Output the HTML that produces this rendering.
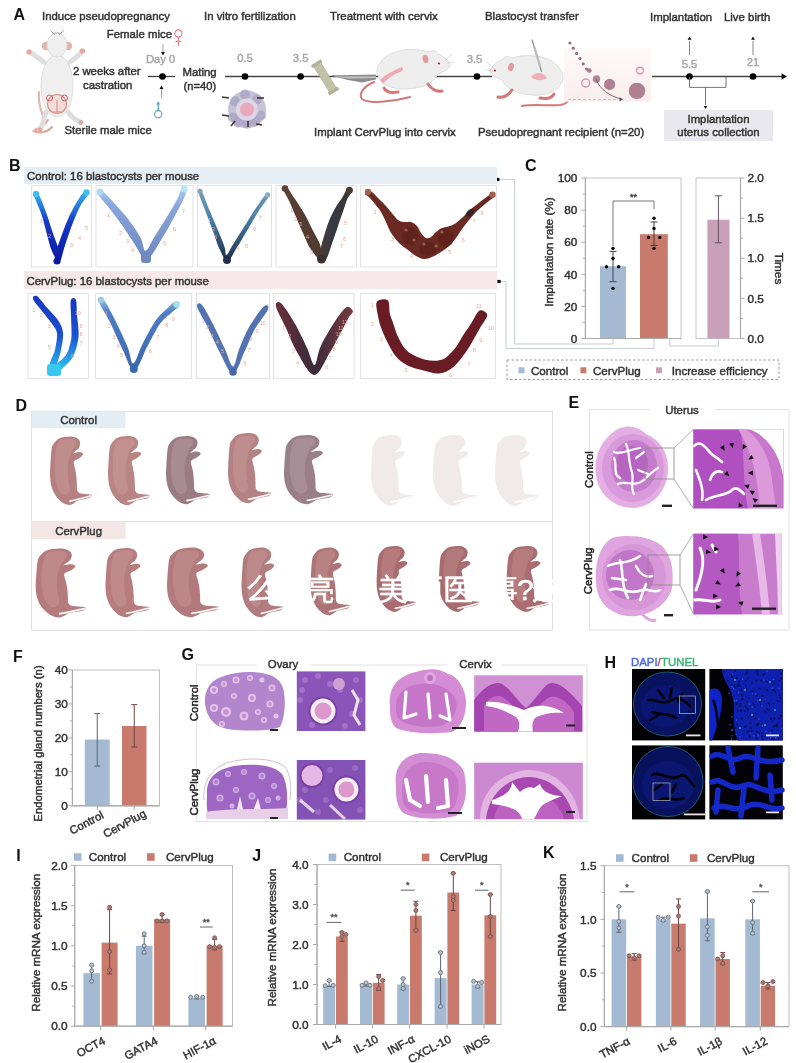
<!DOCTYPE html>
<html><head><meta charset="utf-8"><title>Figure</title>
<style>
html,body{margin:0;padding:0;background:#fff;overflow:hidden;width:796px;height:1063px;}
svg{display:block;}
text{font-family:'Liberation Sans', sans-serif;}
</style></head><body>
<svg width="796" height="1063" viewBox="0 0 796 1063">
<rect x="0" y="0" width="796" height="1063" fill="#fff"/>
<text x="16.3" y="861" font-size="16" text-anchor="start" fill="#111" font-weight="bold">I</text>
<rect x="74.7" y="865.5" width="157.8" height="160.70000000000005" fill="none" stroke="#bdbdbd" stroke-width="1"/>
<rect x="83.4" y="973.169" width="16.6" height="53.03100000000002" fill="#a3bad2" stroke="none" stroke-width="1"/>
<rect x="101.6" y="942.636" width="16.0" height="83.56400000000002" fill="#c87a6c" stroke="none" stroke-width="1"/>
<line x1="91.7" y1="965.134" x2="91.7" y2="981.2040000000001" stroke="#5a6470" stroke-width="1"/>
<line x1="89.2" y1="965.134" x2="94.2" y2="965.134" stroke="#5a6470" stroke-width="1"/>
<line x1="89.2" y1="981.2040000000001" x2="94.2" y2="981.2040000000001" stroke="#5a6470" stroke-width="1"/>
<line x1="109.6" y1="909.6925" x2="109.6" y2="973.9725000000001" stroke="#6a4440" stroke-width="1"/>
<line x1="107.1" y1="909.6925" x2="112.1" y2="909.6925" stroke="#6a4440" stroke-width="1"/>
<line x1="107.1" y1="973.9725000000001" x2="112.1" y2="973.9725000000001" stroke="#6a4440" stroke-width="1"/>
<circle cx="91.7" cy="965.134" r="2.0" fill="#b8c4d0" stroke="#6a7480" stroke-width="0.9"/>
<circle cx="91.7" cy="970.7585" r="2.0" fill="#b8c4d0" stroke="#6a7480" stroke-width="0.9"/>
<circle cx="91.7" cy="981.2040000000001" r="2.0" fill="#b8c4d0" stroke="#6a7480" stroke-width="0.9"/>
<circle cx="109.6" cy="907.282" r="2.0" fill="#b07a74" stroke="#7a5450" stroke-width="0.9"/>
<circle cx="109.6" cy="951.4745" r="2.0" fill="#b07a74" stroke="#7a5450" stroke-width="0.9"/>
<circle cx="109.6" cy="969.955" r="2.0" fill="#b07a74" stroke="#7a5450" stroke-width="0.9"/>
<line x1="100.8" y1="1026.2" x2="100.8" y2="1030.2" stroke="#aaaaaa" stroke-width="1"/>
<rect x="135.9" y="945.85" width="16.6" height="80.35000000000002" fill="#a3bad2" stroke="none" stroke-width="1"/>
<rect x="154.10000000000002" y="919.3345" width="16.0" height="106.86550000000004" fill="#c87a6c" stroke="none" stroke-width="1"/>
<line x1="144.2" y1="936.208" x2="144.2" y2="953.885" stroke="#5a6470" stroke-width="1"/>
<line x1="141.7" y1="936.208" x2="146.7" y2="936.208" stroke="#5a6470" stroke-width="1"/>
<line x1="141.7" y1="953.885" x2="146.7" y2="953.885" stroke="#5a6470" stroke-width="1"/>
<line x1="162.10000000000002" y1="914.5135" x2="162.10000000000002" y2="922.5485" stroke="#6a4440" stroke-width="1"/>
<line x1="159.60000000000002" y1="914.5135" x2="164.60000000000002" y2="914.5135" stroke="#6a4440" stroke-width="1"/>
<line x1="159.60000000000002" y1="922.5485" x2="164.60000000000002" y2="922.5485" stroke="#6a4440" stroke-width="1"/>
<circle cx="144.2" cy="933.7975" r="2.0" fill="#b8c4d0" stroke="#6a7480" stroke-width="0.9"/>
<circle cx="144.2" cy="945.85" r="2.0" fill="#b8c4d0" stroke="#6a7480" stroke-width="0.9"/>
<circle cx="144.2" cy="952.278" r="2.0" fill="#b8c4d0" stroke="#6a7480" stroke-width="0.9"/>
<circle cx="162.10000000000002" cy="914.5135" r="2.0" fill="#b07a74" stroke="#7a5450" stroke-width="0.9"/>
<circle cx="157.10000000000002" cy="920.9415" r="2.0" fill="#b07a74" stroke="#7a5450" stroke-width="0.9"/>
<circle cx="162.10000000000002" cy="920.9415" r="2.0" fill="#b07a74" stroke="#7a5450" stroke-width="0.9"/>
<circle cx="167.10000000000002" cy="920.9415" r="2.0" fill="#b07a74" stroke="#7a5450" stroke-width="0.9"/>
<line x1="153.3" y1="1026.2" x2="153.3" y2="1030.2" stroke="#aaaaaa" stroke-width="1"/>
<rect x="188.4" y="998.0775" width="16.6" height="28.122500000000006" fill="#a3bad2" stroke="none" stroke-width="1"/>
<rect x="206.60000000000002" y="945.85" width="16.0" height="80.35000000000002" fill="#c87a6c" stroke="none" stroke-width="1"/>
<line x1="196.7" y1="996.4705" x2="196.7" y2="998.8810000000001" stroke="#5a6470" stroke-width="1"/>
<line x1="194.2" y1="996.4705" x2="199.2" y2="996.4705" stroke="#5a6470" stroke-width="1"/>
<line x1="194.2" y1="998.8810000000001" x2="199.2" y2="998.8810000000001" stroke="#5a6470" stroke-width="1"/>
<line x1="214.60000000000002" y1="939.422" x2="214.60000000000002" y2="949.8675000000001" stroke="#6a4440" stroke-width="1"/>
<line x1="212.10000000000002" y1="939.422" x2="217.10000000000002" y2="939.422" stroke="#6a4440" stroke-width="1"/>
<line x1="212.10000000000002" y1="949.8675000000001" x2="217.10000000000002" y2="949.8675000000001" stroke="#6a4440" stroke-width="1"/>
<circle cx="190.7" cy="997.274" r="2.0" fill="#b8c4d0" stroke="#6a7480" stroke-width="0.9"/>
<circle cx="196.7" cy="996.4705" r="2.0" fill="#b8c4d0" stroke="#6a7480" stroke-width="0.9"/>
<circle cx="202.7" cy="997.274" r="2.0" fill="#b8c4d0" stroke="#6a7480" stroke-width="0.9"/>
<circle cx="214.60000000000002" cy="937.815" r="2.0" fill="#b07a74" stroke="#7a5450" stroke-width="0.9"/>
<circle cx="209.60000000000002" cy="946.6535" r="2.0" fill="#b07a74" stroke="#7a5450" stroke-width="0.9"/>
<circle cx="214.60000000000002" cy="947.457" r="2.0" fill="#b07a74" stroke="#7a5450" stroke-width="0.9"/>
<circle cx="219.60000000000002" cy="946.6535" r="2.0" fill="#b07a74" stroke="#7a5450" stroke-width="0.9"/>
<line x1="205.8" y1="1026.2" x2="205.8" y2="1030.2" stroke="#aaaaaa" stroke-width="1"/>
<line x1="74.7" y1="865.5" x2="74.7" y2="1026.2" stroke="#aaaaaa" stroke-width="1.2"/>
<line x1="74.7" y1="1026.2" x2="232.5" y2="1026.2" stroke="#aaaaaa" stroke-width="1.2"/>
<line x1="70.7" y1="1026.2" x2="74.7" y2="1026.2" stroke="#aaaaaa" stroke-width="1"/>
<text x="67.7" y="1030.4" font-size="11.8" text-anchor="end" fill="#333" font-weight="normal" stroke="#333" stroke-width="0.45">0.0</text>
<line x1="72.2" y1="1006.1125000000001" x2="74.7" y2="1006.1125000000001" stroke="#aaaaaa" stroke-width="1"/>
<line x1="70.7" y1="986.0250000000001" x2="74.7" y2="986.0250000000001" stroke="#aaaaaa" stroke-width="1"/>
<text x="67.7" y="990.2250000000001" font-size="11.8" text-anchor="end" fill="#333" font-weight="normal" stroke="#333" stroke-width="0.45">0.5</text>
<line x1="72.2" y1="965.9375" x2="74.7" y2="965.9375" stroke="#aaaaaa" stroke-width="1"/>
<line x1="70.7" y1="945.85" x2="74.7" y2="945.85" stroke="#aaaaaa" stroke-width="1"/>
<text x="67.7" y="950.0500000000001" font-size="11.8" text-anchor="end" fill="#333" font-weight="normal" stroke="#333" stroke-width="0.45">1.0</text>
<line x1="72.2" y1="925.7625" x2="74.7" y2="925.7625" stroke="#aaaaaa" stroke-width="1"/>
<line x1="70.7" y1="905.675" x2="74.7" y2="905.675" stroke="#aaaaaa" stroke-width="1"/>
<text x="67.7" y="909.875" font-size="11.8" text-anchor="end" fill="#333" font-weight="normal" stroke="#333" stroke-width="0.45">1.5</text>
<line x1="72.2" y1="885.5875" x2="74.7" y2="885.5875" stroke="#aaaaaa" stroke-width="1"/>
<line x1="70.7" y1="865.5" x2="74.7" y2="865.5" stroke="#aaaaaa" stroke-width="1"/>
<text x="67.7" y="869.7" font-size="11.8" text-anchor="end" fill="#333" font-weight="normal" stroke="#333" stroke-width="0.45">2.0</text>
<text x="106.1" y="1043.2" font-size="11.4" text-anchor="end" fill="#333" font-weight="normal" stroke="#333" stroke-width="0.45" transform="rotate(-28 106.1 1043.2)">OCT4</text>
<text x="158.5" y="1043.2" font-size="11.4" text-anchor="end" fill="#333" font-weight="normal" stroke="#333" stroke-width="0.45" transform="rotate(-28 158.5 1043.2)">GATA4</text>
<text x="216.8" y="1043.2" font-size="11.4" text-anchor="end" fill="#333" font-weight="normal" stroke="#333" stroke-width="0.45" transform="rotate(-28 216.8 1043.2)">HIF-1α</text>
<line x1="200" y1="927" x2="212.7" y2="927" stroke="#666" stroke-width="1"/>
<text x="206.35" y="925" font-size="9" text-anchor="middle" fill="#555" font-weight="normal" stroke="#555" stroke-width="0.45">**</text>
<rect x="73.9" y="853.2" width="7.6" height="7.6" fill="#a3bad2" stroke="none" stroke-width="1"/>
<text x="88.8" y="861" font-size="11.6" text-anchor="start" fill="#333" font-weight="normal" stroke="#333" stroke-width="0.45">Control</text>
<rect x="147" y="853.2" width="7.6" height="7.6" fill="#c87a6c" stroke="none" stroke-width="1"/>
<text x="166" y="861" font-size="11.6" text-anchor="start" fill="#333" font-weight="normal" stroke="#333" stroke-width="0.45">CervPlug</text>
<text x="39.6" y="942.7" font-size="11.6" text-anchor="middle" fill="#333" font-weight="normal" stroke="#333" stroke-width="0.45" transform="rotate(-90 39.6 942.7)">Relative mRNA expression</text>
<text x="252.3" y="861" font-size="16" text-anchor="start" fill="#111" font-weight="bold">J</text>
<rect x="317" y="864.5" width="184" height="160.0" fill="none" stroke="#bdbdbd" stroke-width="1"/>
<rect x="323.20000000000005" y="985.3" width="12.0" height="39.2" fill="#a3bad2" stroke="none" stroke-width="1"/>
<rect x="336.0" y="936.5" width="11.8" height="88.0" fill="#c87a6c" stroke="none" stroke-width="1"/>
<line x1="329.20000000000005" y1="981.3" x2="329.20000000000005" y2="986.5" stroke="#5a6470" stroke-width="1"/>
<line x1="326.70000000000005" y1="981.3" x2="331.70000000000005" y2="981.3" stroke="#5a6470" stroke-width="1"/>
<line x1="326.70000000000005" y1="986.5" x2="331.70000000000005" y2="986.5" stroke="#5a6470" stroke-width="1"/>
<line x1="341.9" y1="931.7" x2="341.9" y2="941.3" stroke="#6a4440" stroke-width="1"/>
<line x1="339.4" y1="931.7" x2="344.4" y2="931.7" stroke="#6a4440" stroke-width="1"/>
<line x1="339.4" y1="941.3" x2="344.4" y2="941.3" stroke="#6a4440" stroke-width="1"/>
<circle cx="329.20000000000005" cy="980.5" r="2.0" fill="#b8c4d0" stroke="#6a7480" stroke-width="0.9"/>
<circle cx="325.20000000000005" cy="985.7" r="2.0" fill="#b8c4d0" stroke="#6a7480" stroke-width="0.9"/>
<circle cx="333.20000000000005" cy="985.3" r="2.0" fill="#b8c4d0" stroke="#6a7480" stroke-width="0.9"/>
<circle cx="341.9" cy="932.5" r="2.0" fill="#b07a74" stroke="#7a5450" stroke-width="0.9"/>
<circle cx="341.9" cy="936.5" r="2.0" fill="#b07a74" stroke="#7a5450" stroke-width="0.9"/>
<circle cx="345.9" cy="934.5" r="2.0" fill="#b07a74" stroke="#7a5450" stroke-width="0.9"/>
<line x1="335.6" y1="1024.5" x2="335.6" y2="1028.5" stroke="#aaaaaa" stroke-width="1"/>
<rect x="360.0" y="984.9" width="12.0" height="39.6" fill="#a3bad2" stroke="none" stroke-width="1"/>
<rect x="372.79999999999995" y="982.9" width="11.8" height="41.6" fill="#c87a6c" stroke="none" stroke-width="1"/>
<line x1="366.0" y1="983.3" x2="366.0" y2="986.1" stroke="#5a6470" stroke-width="1"/>
<line x1="363.5" y1="983.3" x2="368.5" y2="983.3" stroke="#5a6470" stroke-width="1"/>
<line x1="363.5" y1="986.1" x2="368.5" y2="986.1" stroke="#5a6470" stroke-width="1"/>
<line x1="378.69999999999993" y1="974.5" x2="378.69999999999993" y2="990.5" stroke="#6a4440" stroke-width="1"/>
<line x1="376.19999999999993" y1="974.5" x2="381.19999999999993" y2="974.5" stroke="#6a4440" stroke-width="1"/>
<line x1="376.19999999999993" y1="990.5" x2="381.19999999999993" y2="990.5" stroke="#6a4440" stroke-width="1"/>
<circle cx="366.0" cy="982.9" r="2.0" fill="#b8c4d0" stroke="#6a7480" stroke-width="0.9"/>
<circle cx="362.0" cy="985.3" r="2.0" fill="#b8c4d0" stroke="#6a7480" stroke-width="0.9"/>
<circle cx="370.0" cy="985.3" r="2.0" fill="#b8c4d0" stroke="#6a7480" stroke-width="0.9"/>
<circle cx="378.69999999999993" cy="976.5" r="2.0" fill="#b07a74" stroke="#7a5450" stroke-width="0.9"/>
<circle cx="382.69999999999993" cy="980.5" r="2.0" fill="#b07a74" stroke="#7a5450" stroke-width="0.9"/>
<circle cx="378.69999999999993" cy="988.5" r="2.0" fill="#b07a74" stroke="#7a5450" stroke-width="0.9"/>
<line x1="372.4" y1="1024.5" x2="372.4" y2="1028.5" stroke="#aaaaaa" stroke-width="1"/>
<rect x="397.20000000000005" y="984.5" width="12.0" height="40.0" fill="#a3bad2" stroke="none" stroke-width="1"/>
<rect x="410.0" y="915.7" width="11.8" height="108.80000000000001" fill="#c87a6c" stroke="none" stroke-width="1"/>
<line x1="403.20000000000005" y1="978.5" x2="403.20000000000005" y2="989.7" stroke="#5a6470" stroke-width="1"/>
<line x1="400.70000000000005" y1="978.5" x2="405.70000000000005" y2="978.5" stroke="#5a6470" stroke-width="1"/>
<line x1="400.70000000000005" y1="989.7" x2="405.70000000000005" y2="989.7" stroke="#5a6470" stroke-width="1"/>
<line x1="415.9" y1="901.3" x2="415.9" y2="929.3" stroke="#6a4440" stroke-width="1"/>
<line x1="413.4" y1="901.3" x2="418.4" y2="901.3" stroke="#6a4440" stroke-width="1"/>
<line x1="413.4" y1="929.3" x2="418.4" y2="929.3" stroke="#6a4440" stroke-width="1"/>
<circle cx="403.20000000000005" cy="978.5" r="2.0" fill="#b8c4d0" stroke="#6a7480" stroke-width="0.9"/>
<circle cx="403.20000000000005" cy="984.5" r="2.0" fill="#b8c4d0" stroke="#6a7480" stroke-width="0.9"/>
<circle cx="403.20000000000005" cy="988.5" r="2.0" fill="#b8c4d0" stroke="#6a7480" stroke-width="0.9"/>
<circle cx="415.9" cy="904.5" r="2.0" fill="#b07a74" stroke="#7a5450" stroke-width="0.9"/>
<circle cx="415.9" cy="910.5" r="2.0" fill="#b07a74" stroke="#7a5450" stroke-width="0.9"/>
<circle cx="415.9" cy="930.5" r="2.0" fill="#b07a74" stroke="#7a5450" stroke-width="0.9"/>
<line x1="409.6" y1="1024.5" x2="409.6" y2="1028.5" stroke="#aaaaaa" stroke-width="1"/>
<rect x="434.6" y="978.1" width="12.0" height="46.4" fill="#a3bad2" stroke="none" stroke-width="1"/>
<rect x="447.4" y="892.5" width="11.8" height="132.0" fill="#c87a6c" stroke="none" stroke-width="1"/>
<line x1="440.6" y1="951.7" x2="440.6" y2="1006.9" stroke="#5a6470" stroke-width="1"/>
<line x1="438.1" y1="951.7" x2="443.1" y2="951.7" stroke="#5a6470" stroke-width="1"/>
<line x1="438.1" y1="1006.9" x2="443.1" y2="1006.9" stroke="#5a6470" stroke-width="1"/>
<line x1="453.29999999999995" y1="873.3" x2="453.29999999999995" y2="910.5" stroke="#6a4440" stroke-width="1"/>
<line x1="450.79999999999995" y1="873.3" x2="455.79999999999995" y2="873.3" stroke="#6a4440" stroke-width="1"/>
<line x1="450.79999999999995" y1="910.5" x2="455.79999999999995" y2="910.5" stroke="#6a4440" stroke-width="1"/>
<circle cx="440.6" cy="952.5" r="2.0" fill="#b8c4d0" stroke="#6a7480" stroke-width="0.9"/>
<circle cx="440.6" cy="972.5" r="2.0" fill="#b8c4d0" stroke="#6a7480" stroke-width="0.9"/>
<circle cx="440.6" cy="1006.5" r="2.0" fill="#b8c4d0" stroke="#6a7480" stroke-width="0.9"/>
<circle cx="453.29999999999995" cy="873.3" r="2.0" fill="#b07a74" stroke="#7a5450" stroke-width="0.9"/>
<circle cx="453.29999999999995" cy="896.5" r="2.0" fill="#b07a74" stroke="#7a5450" stroke-width="0.9"/>
<circle cx="453.29999999999995" cy="900.5" r="2.0" fill="#b07a74" stroke="#7a5450" stroke-width="0.9"/>
<line x1="447.0" y1="1024.5" x2="447.0" y2="1028.5" stroke="#aaaaaa" stroke-width="1"/>
<rect x="471.6" y="984.5" width="12.0" height="40.0" fill="#a3bad2" stroke="none" stroke-width="1"/>
<rect x="484.4" y="915.3" width="11.8" height="109.2" fill="#c87a6c" stroke="none" stroke-width="1"/>
<line x1="477.6" y1="981.7" x2="477.6" y2="987.7" stroke="#5a6470" stroke-width="1"/>
<line x1="475.1" y1="981.7" x2="480.1" y2="981.7" stroke="#5a6470" stroke-width="1"/>
<line x1="475.1" y1="987.7" x2="480.1" y2="987.7" stroke="#5a6470" stroke-width="1"/>
<line x1="490.29999999999995" y1="894.5" x2="490.29999999999995" y2="935.7" stroke="#6a4440" stroke-width="1"/>
<line x1="487.79999999999995" y1="894.5" x2="492.79999999999995" y2="894.5" stroke="#6a4440" stroke-width="1"/>
<line x1="487.79999999999995" y1="935.7" x2="492.79999999999995" y2="935.7" stroke="#6a4440" stroke-width="1"/>
<circle cx="473.6" cy="981.3" r="2.0" fill="#b8c4d0" stroke="#6a7480" stroke-width="0.9"/>
<circle cx="477.6" cy="986.5" r="2.0" fill="#b8c4d0" stroke="#6a7480" stroke-width="0.9"/>
<circle cx="481.6" cy="982.5" r="2.0" fill="#b8c4d0" stroke="#6a7480" stroke-width="0.9"/>
<circle cx="490.29999999999995" cy="894.5" r="2.0" fill="#b07a74" stroke="#7a5450" stroke-width="0.9"/>
<circle cx="490.29999999999995" cy="916.5" r="2.0" fill="#b07a74" stroke="#7a5450" stroke-width="0.9"/>
<circle cx="490.29999999999995" cy="936.5" r="2.0" fill="#b07a74" stroke="#7a5450" stroke-width="0.9"/>
<line x1="484.0" y1="1024.5" x2="484.0" y2="1028.5" stroke="#aaaaaa" stroke-width="1"/>
<line x1="317" y1="864.5" x2="317" y2="1024.5" stroke="#aaaaaa" stroke-width="1.2"/>
<line x1="317" y1="1024.5" x2="501" y2="1024.5" stroke="#aaaaaa" stroke-width="1.2"/>
<line x1="313" y1="1024.5" x2="317" y2="1024.5" stroke="#aaaaaa" stroke-width="1"/>
<text x="308.7" y="1028.7" font-size="11.8" text-anchor="end" fill="#333" font-weight="normal" stroke="#333" stroke-width="0.45">0.0</text>
<line x1="314.5" y1="1004.5" x2="317" y2="1004.5" stroke="#aaaaaa" stroke-width="1"/>
<line x1="313" y1="984.5" x2="317" y2="984.5" stroke="#aaaaaa" stroke-width="1"/>
<text x="308.7" y="988.7" font-size="11.8" text-anchor="end" fill="#333" font-weight="normal" stroke="#333" stroke-width="0.45">1.0</text>
<line x1="314.5" y1="964.5" x2="317" y2="964.5" stroke="#aaaaaa" stroke-width="1"/>
<line x1="313" y1="944.5" x2="317" y2="944.5" stroke="#aaaaaa" stroke-width="1"/>
<text x="308.7" y="948.7" font-size="11.8" text-anchor="end" fill="#333" font-weight="normal" stroke="#333" stroke-width="0.45">2.0</text>
<line x1="314.5" y1="924.5" x2="317" y2="924.5" stroke="#aaaaaa" stroke-width="1"/>
<line x1="313" y1="904.5" x2="317" y2="904.5" stroke="#aaaaaa" stroke-width="1"/>
<text x="308.7" y="908.7" font-size="11.8" text-anchor="end" fill="#333" font-weight="normal" stroke="#333" stroke-width="0.45">3.0</text>
<line x1="314.5" y1="884.5" x2="317" y2="884.5" stroke="#aaaaaa" stroke-width="1"/>
<line x1="313" y1="864.5" x2="317" y2="864.5" stroke="#aaaaaa" stroke-width="1"/>
<text x="308.7" y="868.7" font-size="11.8" text-anchor="end" fill="#333" font-weight="normal" stroke="#333" stroke-width="0.45">4.0</text>
<text x="342.40000000000003" y="1041.5" font-size="11.4" text-anchor="end" fill="#333" font-weight="normal" stroke="#333" stroke-width="0.45" transform="rotate(-28 342.40000000000003 1041.5)">IL-4</text>
<text x="379.2" y="1041.5" font-size="11.4" text-anchor="end" fill="#333" font-weight="normal" stroke="#333" stroke-width="0.45" transform="rotate(-28 379.2 1041.5)">IL-10</text>
<text x="415.6" y="1041.5" font-size="11.4" text-anchor="end" fill="#333" font-weight="normal" stroke="#333" stroke-width="0.45" transform="rotate(-28 415.6 1041.5)">INF-α</text>
<text x="452.0" y="1041.5" font-size="11.4" text-anchor="end" fill="#333" font-weight="normal" stroke="#333" stroke-width="0.45" transform="rotate(-28 452.0 1041.5)">CXCL-10</text>
<text x="490.7" y="1041.5" font-size="11.4" text-anchor="end" fill="#333" font-weight="normal" stroke="#333" stroke-width="0.45" transform="rotate(-28 490.7 1041.5)">iNOS</text>
<line x1="326.4" y1="922.4" x2="341.5" y2="922.4" stroke="#666" stroke-width="1"/>
<text x="333.95" y="920.4" font-size="9" text-anchor="middle" fill="#555" font-weight="normal" stroke="#555" stroke-width="0.45">**</text>
<line x1="400.7" y1="890.2" x2="414.8" y2="890.2" stroke="#666" stroke-width="1"/>
<text x="407.75" y="888.2" font-size="9" text-anchor="middle" fill="#555" font-weight="normal" stroke="#555" stroke-width="0.45">*</text>
<line x1="475" y1="890.2" x2="488.6" y2="890.2" stroke="#666" stroke-width="1"/>
<text x="481.8" y="888.2" font-size="9" text-anchor="middle" fill="#555" font-weight="normal" stroke="#555" stroke-width="0.45">*</text>
<rect x="328.6" y="853.6" width="7.6" height="7.6" fill="#a3bad2" stroke="none" stroke-width="1"/>
<text x="343.7" y="861.4" font-size="11.6" text-anchor="start" fill="#333" font-weight="normal" stroke="#333" stroke-width="0.45">Control</text>
<rect x="421.8" y="853.6" width="7.6" height="7.6" fill="#c87a6c" stroke="none" stroke-width="1"/>
<text x="440" y="861.4" font-size="11.6" text-anchor="start" fill="#333" font-weight="normal" stroke="#333" stroke-width="0.45">CervPlug</text>
<text x="276" y="937.5" font-size="11.6" text-anchor="middle" fill="#333" font-weight="normal" stroke="#333" stroke-width="0.45" transform="rotate(-90 276 937.5)">Relative mRNA expression</text>
<text x="543" y="858" font-size="16" text-anchor="start" fill="#111" font-weight="bold">K</text>
<rect x="604.4" y="865.7" width="184.60000000000002" height="160.89999999999986" fill="none" stroke="#bdbdbd" stroke-width="1"/>
<rect x="611.6" y="919.3333333333334" width="14.6" height="107.26666666666658" fill="#a3bad2" stroke="none" stroke-width="1"/>
<rect x="627.0" y="956.8766666666667" width="14.4" height="69.72333333333329" fill="#c87a6c" stroke="none" stroke-width="1"/>
<line x1="618.9000000000001" y1="906.4613333333333" x2="618.9000000000001" y2="932.2053333333333" stroke="#5a6470" stroke-width="1"/>
<line x1="616.4000000000001" y1="906.4613333333333" x2="621.4000000000001" y2="906.4613333333333" stroke="#5a6470" stroke-width="1"/>
<line x1="616.4000000000001" y1="932.2053333333333" x2="621.4000000000001" y2="932.2053333333333" stroke="#5a6470" stroke-width="1"/>
<line x1="634.2" y1="953.6586666666666" x2="634.2" y2="960.0946666666666" stroke="#6a4440" stroke-width="1"/>
<line x1="631.7" y1="953.6586666666666" x2="636.7" y2="953.6586666666666" stroke="#6a4440" stroke-width="1"/>
<line x1="631.7" y1="960.0946666666666" x2="636.7" y2="960.0946666666666" stroke="#6a4440" stroke-width="1"/>
<circle cx="618.9000000000001" cy="906.4613333333333" r="2.0" fill="#b8c4d0" stroke="#6a7480" stroke-width="0.9"/>
<circle cx="618.9000000000001" cy="921.4786666666666" r="2.0" fill="#b8c4d0" stroke="#6a7480" stroke-width="0.9"/>
<circle cx="618.9000000000001" cy="927.9146666666667" r="2.0" fill="#b8c4d0" stroke="#6a7480" stroke-width="0.9"/>
<circle cx="629.2" cy="955.804" r="2.0" fill="#b07a74" stroke="#7a5450" stroke-width="0.9"/>
<circle cx="634.2" cy="957.9493333333332" r="2.0" fill="#b07a74" stroke="#7a5450" stroke-width="0.9"/>
<circle cx="639.2" cy="955.804" r="2.0" fill="#b07a74" stroke="#7a5450" stroke-width="0.9"/>
<line x1="626.6" y1="1026.6" x2="626.6" y2="1030.6" stroke="#aaaaaa" stroke-width="1"/>
<rect x="655.9" y="919.3333333333334" width="14.6" height="107.26666666666658" fill="#a3bad2" stroke="none" stroke-width="1"/>
<rect x="671.3" y="923.624" width="14.4" height="102.97599999999991" fill="#c87a6c" stroke="none" stroke-width="1"/>
<line x1="663.2" y1="917.188" x2="663.2" y2="921.4786666666666" stroke="#5a6470" stroke-width="1"/>
<line x1="660.7" y1="917.188" x2="665.7" y2="917.188" stroke="#5a6470" stroke-width="1"/>
<line x1="660.7" y1="921.4786666666666" x2="665.7" y2="921.4786666666666" stroke="#5a6470" stroke-width="1"/>
<line x1="678.5" y1="898.9526666666667" x2="678.5" y2="949.3679999999999" stroke="#6a4440" stroke-width="1"/>
<line x1="676.0" y1="898.9526666666667" x2="681.0" y2="898.9526666666667" stroke="#6a4440" stroke-width="1"/>
<line x1="676.0" y1="949.3679999999999" x2="681.0" y2="949.3679999999999" stroke="#6a4440" stroke-width="1"/>
<circle cx="658.2" cy="917.188" r="2.0" fill="#b8c4d0" stroke="#6a7480" stroke-width="0.9"/>
<circle cx="663.2" cy="920.406" r="2.0" fill="#b8c4d0" stroke="#6a7480" stroke-width="0.9"/>
<circle cx="668.2" cy="917.188" r="2.0" fill="#b8c4d0" stroke="#6a7480" stroke-width="0.9"/>
<circle cx="678.5" cy="906.4613333333333" r="2.0" fill="#b07a74" stroke="#7a5450" stroke-width="0.9"/>
<circle cx="678.5" cy="916.1153333333333" r="2.0" fill="#b07a74" stroke="#7a5450" stroke-width="0.9"/>
<circle cx="678.5" cy="949.3679999999999" r="2.0" fill="#b07a74" stroke="#7a5450" stroke-width="0.9"/>
<line x1="670.9" y1="1026.6" x2="670.9" y2="1030.6" stroke="#aaaaaa" stroke-width="1"/>
<rect x="700.1" y="918.2606666666667" width="14.6" height="108.33933333333324" fill="#a3bad2" stroke="none" stroke-width="1"/>
<rect x="715.5" y="959.0219999999999" width="14.4" height="67.57799999999995" fill="#c87a6c" stroke="none" stroke-width="1"/>
<line x1="707.4000000000001" y1="891.444" x2="707.4000000000001" y2="940.7866666666666" stroke="#5a6470" stroke-width="1"/>
<line x1="704.9000000000001" y1="891.444" x2="709.9000000000001" y2="891.444" stroke="#5a6470" stroke-width="1"/>
<line x1="704.9000000000001" y1="940.7866666666666" x2="709.9000000000001" y2="940.7866666666666" stroke="#5a6470" stroke-width="1"/>
<line x1="722.7" y1="952.586" x2="722.7" y2="964.3853333333333" stroke="#6a4440" stroke-width="1"/>
<line x1="720.2" y1="952.586" x2="725.2" y2="952.586" stroke="#6a4440" stroke-width="1"/>
<line x1="720.2" y1="964.3853333333333" x2="725.2" y2="964.3853333333333" stroke="#6a4440" stroke-width="1"/>
<circle cx="707.4000000000001" cy="891.444" r="2.0" fill="#b8c4d0" stroke="#6a7480" stroke-width="0.9"/>
<circle cx="707.4000000000001" cy="926.842" r="2.0" fill="#b8c4d0" stroke="#6a7480" stroke-width="0.9"/>
<circle cx="707.4000000000001" cy="935.4233333333333" r="2.0" fill="#b8c4d0" stroke="#6a7480" stroke-width="0.9"/>
<circle cx="722.7" cy="955.804" r="2.0" fill="#b07a74" stroke="#7a5450" stroke-width="0.9"/>
<circle cx="717.7" cy="959.0219999999999" r="2.0" fill="#b07a74" stroke="#7a5450" stroke-width="0.9"/>
<circle cx="722.7" cy="963.3126666666666" r="2.0" fill="#b07a74" stroke="#7a5450" stroke-width="0.9"/>
<line x1="715.1" y1="1026.6" x2="715.1" y2="1030.6" stroke="#aaaaaa" stroke-width="1"/>
<rect x="745.3" y="919.3333333333334" width="14.6" height="107.26666666666658" fill="#a3bad2" stroke="none" stroke-width="1"/>
<rect x="760.6999999999999" y="985.8386666666667" width="14.4" height="40.761333333333305" fill="#c87a6c" stroke="none" stroke-width="1"/>
<line x1="752.6" y1="901.098" x2="752.6" y2="934.3506666666667" stroke="#5a6470" stroke-width="1"/>
<line x1="750.1" y1="901.098" x2="755.1" y2="901.098" stroke="#5a6470" stroke-width="1"/>
<line x1="750.1" y1="934.3506666666667" x2="755.1" y2="934.3506666666667" stroke="#5a6470" stroke-width="1"/>
<line x1="767.9" y1="982.6206666666666" x2="767.9" y2="989.0566666666666" stroke="#6a4440" stroke-width="1"/>
<line x1="765.4" y1="982.6206666666666" x2="770.4" y2="982.6206666666666" stroke="#6a4440" stroke-width="1"/>
<line x1="765.4" y1="989.0566666666666" x2="770.4" y2="989.0566666666666" stroke="#6a4440" stroke-width="1"/>
<circle cx="752.6" cy="901.098" r="2.0" fill="#b8c4d0" stroke="#6a7480" stroke-width="0.9"/>
<circle cx="752.6" cy="922.5513333333333" r="2.0" fill="#b8c4d0" stroke="#6a7480" stroke-width="0.9"/>
<circle cx="752.6" cy="933.278" r="2.0" fill="#b8c4d0" stroke="#6a7480" stroke-width="0.9"/>
<circle cx="762.9" cy="982.6206666666666" r="2.0" fill="#b07a74" stroke="#7a5450" stroke-width="0.9"/>
<circle cx="767.9" cy="985.8386666666667" r="2.0" fill="#b07a74" stroke="#7a5450" stroke-width="0.9"/>
<circle cx="772.9" cy="981.548" r="2.0" fill="#b07a74" stroke="#7a5450" stroke-width="0.9"/>
<line x1="760.3" y1="1026.6" x2="760.3" y2="1030.6" stroke="#aaaaaa" stroke-width="1"/>
<line x1="604.4" y1="865.7" x2="604.4" y2="1026.6" stroke="#aaaaaa" stroke-width="1.2"/>
<line x1="604.4" y1="1026.6" x2="789" y2="1026.6" stroke="#aaaaaa" stroke-width="1.2"/>
<line x1="600.4" y1="1026.6" x2="604.4" y2="1026.6" stroke="#aaaaaa" stroke-width="1"/>
<text x="596.5" y="1030.8" font-size="11.8" text-anchor="end" fill="#333" font-weight="normal" stroke="#333" stroke-width="0.45">0.0</text>
<line x1="601.9" y1="999.7833333333333" x2="604.4" y2="999.7833333333333" stroke="#aaaaaa" stroke-width="1"/>
<line x1="600.4" y1="972.9666666666666" x2="604.4" y2="972.9666666666666" stroke="#aaaaaa" stroke-width="1"/>
<text x="596.5" y="977.1666666666666" font-size="11.8" text-anchor="end" fill="#333" font-weight="normal" stroke="#333" stroke-width="0.45">0.5</text>
<line x1="601.9" y1="946.15" x2="604.4" y2="946.15" stroke="#aaaaaa" stroke-width="1"/>
<line x1="600.4" y1="919.3333333333334" x2="604.4" y2="919.3333333333334" stroke="#aaaaaa" stroke-width="1"/>
<text x="596.5" y="923.5333333333334" font-size="11.8" text-anchor="end" fill="#333" font-weight="normal" stroke="#333" stroke-width="0.45">1.0</text>
<line x1="601.9" y1="892.5166666666667" x2="604.4" y2="892.5166666666667" stroke="#aaaaaa" stroke-width="1"/>
<line x1="600.4" y1="865.7" x2="604.4" y2="865.7" stroke="#aaaaaa" stroke-width="1"/>
<text x="596.5" y="869.9000000000001" font-size="11.8" text-anchor="end" fill="#333" font-weight="normal" stroke="#333" stroke-width="0.45">1.5</text>
<text x="630.9" y="1043.6" font-size="11.4" text-anchor="end" fill="#333" font-weight="normal" stroke="#333" stroke-width="0.45" transform="rotate(-28 630.9 1043.6)">TNF-α</text>
<text x="677.6999999999999" y="1043.6" font-size="11.4" text-anchor="end" fill="#333" font-weight="normal" stroke="#333" stroke-width="0.45" transform="rotate(-28 677.6999999999999 1043.6)">IL-6</text>
<text x="723.1" y="1043.6" font-size="11.4" text-anchor="end" fill="#333" font-weight="normal" stroke="#333" stroke-width="0.45" transform="rotate(-28 723.1 1043.6)">IL-1β</text>
<text x="768.3" y="1043.6" font-size="11.4" text-anchor="end" fill="#333" font-weight="normal" stroke="#333" stroke-width="0.45" transform="rotate(-28 768.3 1043.6)">IL-12</text>
<line x1="619.6" y1="891.8" x2="634.3" y2="891.8" stroke="#666" stroke-width="1"/>
<text x="626.95" y="889.8" font-size="9" text-anchor="middle" fill="#555" font-weight="normal" stroke="#555" stroke-width="0.45">*</text>
<line x1="752.3" y1="891.8" x2="769" y2="891.8" stroke="#666" stroke-width="1"/>
<text x="760.65" y="889.8" font-size="9" text-anchor="middle" fill="#555" font-weight="normal" stroke="#555" stroke-width="0.45">*</text>
<rect x="616" y="854.2" width="7.6" height="7.6" fill="#a3bad2" stroke="none" stroke-width="1"/>
<text x="631.6" y="862" font-size="11.6" text-anchor="start" fill="#333" font-weight="normal" stroke="#333" stroke-width="0.45">Control</text>
<rect x="689.8" y="854.2" width="7.6" height="7.6" fill="#c87a6c" stroke="none" stroke-width="1"/>
<text x="707" y="862" font-size="11.6" text-anchor="start" fill="#333" font-weight="normal" stroke="#333" stroke-width="0.45">CervPlug</text>
<text x="565.5" y="942.5" font-size="11.6" text-anchor="middle" fill="#333" font-weight="normal" stroke="#333" stroke-width="0.45" transform="rotate(-90 565.5 942.5)">Relative mRNA expression</text>
<text x="13" y="661.5" font-size="16" text-anchor="start" fill="#111" font-weight="bold">F</text>
<rect x="72.4" y="670" width="87.0" height="135.79999999999995" fill="none" stroke="#bdbdbd" stroke-width="1"/>
<rect x="84.8" y="739.5975" width="24.9" height="66.20249999999997" fill="#a3bad2" stroke="none" stroke-width="1"/>
<rect x="122" y="726.0174999999999" width="24.5" height="79.78249999999997" fill="#c87a6c" stroke="none" stroke-width="1"/>
<line x1="97.25" y1="713.456" x2="97.25" y2="766.0785" stroke="#5a6470" stroke-width="1"/>
<line x1="94.25" y1="713.456" x2="100.25" y2="713.456" stroke="#5a6470" stroke-width="1"/>
<line x1="94.25" y1="766.0785" x2="100.25" y2="766.0785" stroke="#5a6470" stroke-width="1"/>
<line x1="134.25" y1="704.629" x2="134.25" y2="747.0665" stroke="#6a4440" stroke-width="1"/>
<line x1="131.25" y1="704.629" x2="137.25" y2="704.629" stroke="#6a4440" stroke-width="1"/>
<line x1="131.25" y1="747.0665" x2="137.25" y2="747.0665" stroke="#6a4440" stroke-width="1"/>
<line x1="72.4" y1="670" x2="72.4" y2="805.8" stroke="#aaaaaa" stroke-width="1.2"/>
<line x1="72.4" y1="805.8" x2="159.4" y2="805.8" stroke="#aaaaaa" stroke-width="1.2"/>
<line x1="68.4" y1="805.8" x2="72.4" y2="805.8" stroke="#aaaaaa" stroke-width="1"/>
<text x="67.8" y="810.0" font-size="11.8" text-anchor="end" fill="#333" font-weight="normal" stroke="#333" stroke-width="0.45">0</text>
<line x1="69.9" y1="788.8249999999999" x2="72.4" y2="788.8249999999999" stroke="#aaaaaa" stroke-width="1"/>
<line x1="68.4" y1="771.8499999999999" x2="72.4" y2="771.8499999999999" stroke="#aaaaaa" stroke-width="1"/>
<text x="67.8" y="776.05" font-size="11.8" text-anchor="end" fill="#333" font-weight="normal" stroke="#333" stroke-width="0.45">10</text>
<line x1="69.9" y1="754.875" x2="72.4" y2="754.875" stroke="#aaaaaa" stroke-width="1"/>
<line x1="68.4" y1="737.9" x2="72.4" y2="737.9" stroke="#aaaaaa" stroke-width="1"/>
<text x="67.8" y="742.1" font-size="11.8" text-anchor="end" fill="#333" font-weight="normal" stroke="#333" stroke-width="0.45">20</text>
<line x1="69.9" y1="720.925" x2="72.4" y2="720.925" stroke="#aaaaaa" stroke-width="1"/>
<line x1="68.4" y1="703.95" x2="72.4" y2="703.95" stroke="#aaaaaa" stroke-width="1"/>
<text x="67.8" y="708.1500000000001" font-size="11.8" text-anchor="end" fill="#333" font-weight="normal" stroke="#333" stroke-width="0.45">30</text>
<line x1="69.9" y1="686.975" x2="72.4" y2="686.975" stroke="#aaaaaa" stroke-width="1"/>
<line x1="68.4" y1="670.0" x2="72.4" y2="670.0" stroke="#aaaaaa" stroke-width="1"/>
<text x="67.8" y="674.2" font-size="11.8" text-anchor="end" fill="#333" font-weight="normal" stroke="#333" stroke-width="0.45">40</text>
<line x1="97.25" y1="805.8" x2="97.25" y2="809.8" stroke="#aaaaaa" stroke-width="1"/>
<line x1="134.25" y1="805.8" x2="134.25" y2="809.8" stroke="#aaaaaa" stroke-width="1"/>
<text x="104.5" y="817.5" font-size="11.4" text-anchor="end" fill="#333" font-weight="normal" stroke="#333" stroke-width="0.45" transform="rotate(-28 104.5 817.5)">Control</text>
<text x="147" y="816" font-size="11.4" text-anchor="end" fill="#333" font-weight="normal" stroke="#333" stroke-width="0.45" transform="rotate(-28 147 816)">CervPlug</text>
<text x="41.5" y="743.5" font-size="11.4" text-anchor="middle" fill="#333" font-weight="normal" stroke="#333" stroke-width="0.45" transform="rotate(-90 41.5 743.5)">Endometrial gland numbers (n)</text>
<text x="525" y="170.5" font-size="16" text-anchor="start" fill="#111" font-weight="bold">C</text>
<rect x="585.4" y="178" width="95.60000000000002" height="160.5" fill="none" stroke="#c4c4c4" stroke-width="1"/>
<path d="M499,179.4 H514.6 V344 H613 V338.5" fill="none" stroke="#c6ccd2" stroke-width="1"/>
<path d="M500,281.4 H506 V348.4 H654 V338.5" fill="none" stroke="#c6ccd2" stroke-width="1"/>
<path d="M669.8,338.8 V346 H718.4 V338.8" fill="none" stroke="#c6ccd2" stroke-width="1"/>
<rect x="496.2" y="177.9" width="3.2" height="3.2" fill="#000" stroke="none" stroke-width="1"/>
<rect x="497.4" y="279.9" width="3.2" height="3.2" fill="#000" stroke="none" stroke-width="1"/>
<rect x="600" y="266.275" width="26" height="72.225" fill="#a3bad2" stroke="none" stroke-width="1"/>
<rect x="640" y="234.175" width="27.8" height="104.325" fill="#c87a6c" stroke="none" stroke-width="1"/>
<line x1="613" y1="251.3485" x2="613" y2="281.683" stroke="#3a4450" stroke-width="1"/>
<line x1="609.5" y1="251.3485" x2="616.5" y2="251.3485" stroke="#3a4450" stroke-width="1"/>
<line x1="609.5" y1="281.683" x2="616.5" y2="281.683" stroke="#3a4450" stroke-width="1"/>
<line x1="654" y1="221.977" x2="654" y2="245.41" stroke="#4a3430" stroke-width="1"/>
<line x1="650.5" y1="221.977" x2="657.5" y2="221.977" stroke="#4a3430" stroke-width="1"/>
<line x1="650.5" y1="245.41" x2="657.5" y2="245.41" stroke="#4a3430" stroke-width="1"/>
<circle cx="613" cy="248.4" r="1.7" fill="#000" stroke="none" stroke-width="1"/>
<circle cx="613" cy="258.5" r="1.7" fill="#000" stroke="none" stroke-width="1"/>
<circle cx="606.5" cy="266.7" r="1.7" fill="#000" stroke="none" stroke-width="1"/>
<circle cx="618.6" cy="266.7" r="1.7" fill="#000" stroke="none" stroke-width="1"/>
<circle cx="613" cy="288.4" r="1.7" fill="#000" stroke="none" stroke-width="1"/>
<circle cx="654" cy="218.3" r="1.7" fill="#000" stroke="none" stroke-width="1"/>
<circle cx="654" cy="228.4" r="1.7" fill="#000" stroke="none" stroke-width="1"/>
<circle cx="648.5" cy="237.4" r="1.7" fill="#000" stroke="none" stroke-width="1"/>
<circle cx="659.7" cy="237.4" r="1.7" fill="#000" stroke="none" stroke-width="1"/>
<circle cx="654" cy="248.4" r="1.7" fill="#000" stroke="none" stroke-width="1"/>
<path d="M613,246 V201 H654 V209" fill="none" stroke="#777" stroke-width="1"/>
<text x="633.5" y="200" font-size="9" text-anchor="middle" fill="#444" font-weight="normal" stroke="#444" stroke-width="0.45">**</text>
<line x1="585.4" y1="178" x2="585.4" y2="338.5" stroke="#aaaaaa" stroke-width="1.2"/>
<line x1="585.4" y1="338.5" x2="681" y2="338.5" stroke="#aaaaaa" stroke-width="1.2"/>
<line x1="581.4" y1="338.5" x2="585.4" y2="338.5" stroke="#aaaaaa" stroke-width="1"/>
<text x="577.4" y="342.7" font-size="11.8" text-anchor="end" fill="#333" font-weight="normal" stroke="#333" stroke-width="0.45">0</text>
<line x1="582.9" y1="322.45" x2="585.4" y2="322.45" stroke="#aaaaaa" stroke-width="1"/>
<line x1="581.4" y1="306.4" x2="585.4" y2="306.4" stroke="#aaaaaa" stroke-width="1"/>
<text x="577.4" y="310.59999999999997" font-size="11.8" text-anchor="end" fill="#333" font-weight="normal" stroke="#333" stroke-width="0.45">20</text>
<line x1="582.9" y1="290.35" x2="585.4" y2="290.35" stroke="#aaaaaa" stroke-width="1"/>
<line x1="581.4" y1="274.3" x2="585.4" y2="274.3" stroke="#aaaaaa" stroke-width="1"/>
<text x="577.4" y="278.5" font-size="11.8" text-anchor="end" fill="#333" font-weight="normal" stroke="#333" stroke-width="0.45">40</text>
<line x1="582.9" y1="258.25" x2="585.4" y2="258.25" stroke="#aaaaaa" stroke-width="1"/>
<line x1="581.4" y1="242.2" x2="585.4" y2="242.2" stroke="#aaaaaa" stroke-width="1"/>
<text x="577.4" y="246.39999999999998" font-size="11.8" text-anchor="end" fill="#333" font-weight="normal" stroke="#333" stroke-width="0.45">60</text>
<line x1="582.9" y1="226.15" x2="585.4" y2="226.15" stroke="#aaaaaa" stroke-width="1"/>
<line x1="581.4" y1="210.1" x2="585.4" y2="210.1" stroke="#aaaaaa" stroke-width="1"/>
<text x="577.4" y="214.29999999999998" font-size="11.8" text-anchor="end" fill="#333" font-weight="normal" stroke="#333" stroke-width="0.45">80</text>
<line x1="582.9" y1="194.05" x2="585.4" y2="194.05" stroke="#aaaaaa" stroke-width="1"/>
<line x1="581.4" y1="178.0" x2="585.4" y2="178.0" stroke="#aaaaaa" stroke-width="1"/>
<text x="577.4" y="182.2" font-size="11.8" text-anchor="end" fill="#333" font-weight="normal" stroke="#333" stroke-width="0.45">100</text>
<text x="552.8" y="252" font-size="11.8" text-anchor="middle" fill="#333" font-weight="normal" stroke="#333" stroke-width="0.45" transform="rotate(-90 552.8 252)">Implantation rate (%)</text>
<rect x="696" y="178" width="44.5" height="160.5" fill="none" stroke="#c4c4c4" stroke-width="1"/>
<rect x="707.4" y="219.73000000000002" width="22.1" height="118.77" fill="#c9a0ba" stroke="none" stroke-width="1"/>
<line x1="718.4" y1="195.8" x2="718.4" y2="242.8" stroke="#6a5560" stroke-width="1"/>
<line x1="714.9" y1="195.8" x2="721.9" y2="195.8" stroke="#6a5560" stroke-width="1"/>
<line x1="714.9" y1="242.8" x2="721.9" y2="242.8" stroke="#6a5560" stroke-width="1"/>
<line x1="740.5" y1="178" x2="740.5" y2="338.5" stroke="#aaaaaa" stroke-width="1.2"/>
<line x1="740.5" y1="338.5" x2="744.5" y2="338.5" stroke="#aaaaaa" stroke-width="1"/>
<text x="747.5" y="342.7" font-size="11.8" text-anchor="start" fill="#333" font-weight="normal" stroke="#333" stroke-width="0.45">0.0</text>
<line x1="740.5" y1="318.4375" x2="743.0" y2="318.4375" stroke="#aaaaaa" stroke-width="1"/>
<line x1="740.5" y1="298.375" x2="744.5" y2="298.375" stroke="#aaaaaa" stroke-width="1"/>
<text x="747.5" y="302.575" font-size="11.8" text-anchor="start" fill="#333" font-weight="normal" stroke="#333" stroke-width="0.45">0.5</text>
<line x1="740.5" y1="278.3125" x2="743.0" y2="278.3125" stroke="#aaaaaa" stroke-width="1"/>
<line x1="740.5" y1="258.25" x2="744.5" y2="258.25" stroke="#aaaaaa" stroke-width="1"/>
<text x="747.5" y="262.45" font-size="11.8" text-anchor="start" fill="#333" font-weight="normal" stroke="#333" stroke-width="0.45">1.0</text>
<line x1="740.5" y1="238.1875" x2="743.0" y2="238.1875" stroke="#aaaaaa" stroke-width="1"/>
<line x1="740.5" y1="218.125" x2="744.5" y2="218.125" stroke="#aaaaaa" stroke-width="1"/>
<text x="747.5" y="222.325" font-size="11.8" text-anchor="start" fill="#333" font-weight="normal" stroke="#333" stroke-width="0.45">1.5</text>
<line x1="740.5" y1="198.0625" x2="743.0" y2="198.0625" stroke="#aaaaaa" stroke-width="1"/>
<line x1="740.5" y1="178.0" x2="744.5" y2="178.0" stroke="#aaaaaa" stroke-width="1"/>
<text x="747.5" y="182.2" font-size="11.8" text-anchor="start" fill="#333" font-weight="normal" stroke="#333" stroke-width="0.45">2.0</text>
<text x="774.5" y="268.5" font-size="11.8" text-anchor="middle" fill="#333" font-weight="normal" stroke="#333" stroke-width="0.45" transform="rotate(90 774.5 268.5)">Times</text>
<rect x="507" y="360" width="272" height="19.5" fill="none" stroke="#9a9a9a" stroke-width="1" stroke-dasharray="2.5,2"/>
<rect x="518.5" y="367.3" width="6" height="6" fill="#a3bad2" stroke="none" stroke-width="1"/>
<text x="531" y="374.5" font-size="11.6" text-anchor="start" fill="#333" font-weight="normal" stroke="#333" stroke-width="0.45">Control</text>
<rect x="580.4" y="367.3" width="6" height="6" fill="#c87a6c" stroke="none" stroke-width="1"/>
<text x="593" y="374.5" font-size="11.6" text-anchor="start" fill="#333" font-weight="normal" stroke="#333" stroke-width="0.45">CervPlug</text>
<rect x="656" y="367.3" width="6" height="6" fill="#c9a0ba" stroke="none" stroke-width="1"/>
<text x="671.8" y="374.5" font-size="11.6" text-anchor="start" fill="#333" font-weight="normal" stroke="#333" stroke-width="0.45">Increase efficiency</text>
<text x="9" y="170.5" font-size="16" text-anchor="start" fill="#111" font-weight="bold">B</text>
<rect x="24" y="167" width="473" height="17" fill="#e5eef4" stroke="none" stroke-width="1"/>
<text x="27" y="179.5" font-size="11.4" text-anchor="start" fill="#333" font-weight="normal" stroke="#333" stroke-width="0.45">Control: 16 blastocysts per mouse</text>
<rect x="24" y="271" width="473" height="18" fill="#f6e8e8" stroke="none" stroke-width="1"/>
<text x="26.5" y="284.5" font-size="11.4" text-anchor="start" fill="#333" font-weight="normal" stroke="#333" stroke-width="0.45">CervPlug: 16 blastocysts per mouse</text>
<rect x="31.5" y="185.5" width="60" height="81.5" fill="#fff" stroke="#e2e2e2" stroke-width="1"/>
<rect x="96.0" y="185.5" width="97.0" height="81.5" fill="#fff" stroke="#e2e2e2" stroke-width="1"/>
<rect x="197.5" y="185.5" width="74" height="81.5" fill="#fff" stroke="#e2e2e2" stroke-width="1"/>
<rect x="276.0" y="185.5" width="80.5" height="81.5" fill="#fff" stroke="#e2e2e2" stroke-width="1"/>
<rect x="360.5" y="185.5" width="136" height="81.5" fill="#fff" stroke="#e2e2e2" stroke-width="1"/>
<rect x="28.1" y="293.5" width="60.4" height="85" fill="#fff" stroke="#e2e2e2" stroke-width="1"/>
<rect x="95.5" y="293.5" width="96" height="85" fill="#fff" stroke="#e2e2e2" stroke-width="1"/>
<rect x="196.5" y="293.5" width="73" height="85" fill="#fff" stroke="#e2e2e2" stroke-width="1"/>
<rect x="273.5" y="293.5" width="80.60000000000002" height="85" fill="#fff" stroke="#e2e2e2" stroke-width="1"/>
<rect x="360.5" y="293.5" width="135" height="85" fill="#fff" stroke="#e2e2e2" stroke-width="1"/>
<defs><linearGradient id="gb1" x1="0" y1="0" x2="0" y2="1"><stop offset="0" stop-color="#38b8f0"/><stop offset="0.45" stop-color="#1838c8"/><stop offset="1" stop-color="#0a1aa0"/></linearGradient><linearGradient id="gb2" x1="0" y1="0" x2="0" y2="1"><stop offset="0" stop-color="#a8d0f0"/><stop offset="0.25" stop-color="#8aa4dc"/><stop offset="1" stop-color="#6e88c0"/></linearGradient><linearGradient id="gb3" x1="0" y1="0" x2="0" y2="1"><stop offset="0" stop-color="#7aa0b8"/><stop offset="0.4" stop-color="#4a80a8"/><stop offset="1" stop-color="#1e2e4c"/></linearGradient><linearGradient id="gc1" x1="0" y1="0" x2="0" y2="1"><stop offset="0" stop-color="#1838c0"/><stop offset="0.5" stop-color="#1a50d0"/><stop offset="1" stop-color="#30c8f0"/></linearGradient><linearGradient id="gc2" x1="0" y1="0" x2="0" y2="1"><stop offset="0" stop-color="#90c8e8"/><stop offset="0.2" stop-color="#4f7ec4"/><stop offset="1" stop-color="#3a68b0"/></linearGradient><linearGradient id="gb4" x1="0" y1="0" x2="1" y2="0"><stop offset="0" stop-color="#5a4030"/><stop offset="0.55" stop-color="#4e3a30"/><stop offset="0.7" stop-color="#363a44"/><stop offset="1" stop-color="#3a3430"/></linearGradient><linearGradient id="gc4" x1="0" y1="0" x2="1" y2="0"><stop offset="0" stop-color="#6a3038"/><stop offset="0.5" stop-color="#3a2a3a"/><stop offset="1" stop-color="#7a3a40"/></linearGradient></defs>
<path d="M33.9,194.8 C34.5,198.4 39.4,208.2 41.6,214.8 C43.8,221.5 45.4,228.9 47.1,234.9 C48.8,240.9 49.8,246.4 51.9,250.9 C53.9,255.4 57.2,262.8 59.4,261.8 C61.6,260.9 62.8,251.5 65.1,245.1 C67.3,238.6 70.3,229.6 72.8,223.1 C75.3,216.7 77.6,211.1 80.2,206.2 C82.8,201.3 87.6,196.3 88.4,193.8 C89.1,191.3 86.7,189.6 84.6,191.2 C82.5,192.9 78.7,198.8 75.8,203.8 C72.9,208.7 70.0,214.3 67.2,220.9 C64.4,227.4 61.0,237.0 58.9,242.9 C56.8,248.8 54.7,255.1 54.6,256.2 C54.4,257.2 58.4,253.0 58.1,249.1 C57.8,245.3 54.8,239.1 52.9,233.1 C50.9,227.1 48.8,219.8 46.4,213.2 C43.9,206.5 40.2,196.2 38.1,193.2 C36.0,190.1 33.3,191.2 33.9,194.8 Z" fill="url(#gb1)" stroke="none" stroke-width="1"/>
<circle cx="57" cy="261" r="3.6" fill="#0a18a0" stroke="none" stroke-width="1"/>
<circle cx="36" cy="194" r="3.2" fill="#40c0f0" stroke="none" stroke-width="1"/>
<circle cx="86.5" cy="192.5" r="3.2" fill="#40c0f0" stroke="none" stroke-width="1"/>
<path d="M97.8,193.7 C99.1,196.6 105.4,203.1 109.3,208.3 C113.3,213.4 117.6,218.8 121.6,224.5 C125.6,230.2 129.3,236.5 133.4,242.3 C137.6,248.1 141.8,259.6 146.4,259.2 C151.0,258.9 156.7,246.6 161.1,240.0 C165.5,233.4 169.3,226.1 172.8,219.6 C176.4,213.2 180.1,206.2 182.5,201.2 C184.8,196.3 186.8,192.1 186.7,189.9 C186.7,187.7 183.6,186.6 182.1,188.1 C180.5,189.5 180.0,194.1 177.5,198.8 C175.1,203.5 171.0,210.2 167.2,216.4 C163.4,222.6 158.5,230.2 154.9,236.0 C151.3,241.7 148.0,250.5 145.6,250.8 C143.2,251.1 143.4,242.9 140.6,237.7 C137.7,232.5 132.7,225.1 128.4,219.5 C124.1,213.8 119.1,208.6 114.7,203.7 C110.2,198.9 104.4,192.0 101.6,190.3 C98.8,188.7 96.5,190.7 97.8,193.7 Z" fill="url(#gb2)" stroke="none" stroke-width="1"/>
<rect x="141" y="252" width="10" height="11" fill="#6e88c0" stroke="none" stroke-width="1" rx="3"/>
<circle cx="100" cy="192" r="3.4" fill="#b0d8f0" stroke="none" stroke-width="1"/>
<circle cx="184.4" cy="189" r="3.4" fill="#b8e4f4" stroke="none" stroke-width="1"/>
<path d="M198.4,191.9 C199.1,195.6 203.6,205.9 206.1,212.7 C208.7,219.6 211.4,226.8 213.7,232.9 C215.9,239.0 217.2,244.4 219.5,249.1 C221.8,253.7 224.5,261.3 227.5,261.0 C230.4,260.7 233.7,252.6 237.1,247.3 C240.5,242.0 244.3,235.2 247.9,229.2 C251.5,223.1 255.2,216.6 258.7,211.1 C262.2,205.5 267.8,198.8 269.0,195.9 C270.3,193.0 268.5,191.7 266.2,193.9 C263.9,196.1 259.0,203.4 255.3,208.9 C251.6,214.4 247.8,220.9 244.1,226.8 C240.3,232.8 235.8,240.0 232.9,244.7 C230.0,249.4 227.9,254.7 226.5,255.0 C225.2,255.4 225.9,250.9 224.5,246.9 C223.2,242.9 220.8,237.0 218.3,231.1 C215.9,225.2 212.6,218.0 209.9,211.3 C207.1,204.5 203.5,193.9 201.6,190.7 C199.7,187.4 197.6,188.3 198.4,191.9 Z" fill="url(#gb3)" stroke="none" stroke-width="1"/>
<circle cx="227" cy="260" r="4" fill="#1e2e4c" stroke="none" stroke-width="1"/>
<circle cx="200" cy="191.3" r="2.6" fill="#8aa0b0" stroke="none" stroke-width="1"/>
<circle cx="267.6" cy="194.9" r="2.6" fill="#8ab0c0" stroke="none" stroke-width="1"/>
<path d="M283.3,189.2 C283.7,191.6 287.3,196.8 289.4,201.5 C291.5,206.1 293.6,211.6 296.0,217.0 C298.3,222.5 300.9,228.6 303.5,234.2 C306.1,239.7 308.1,245.7 311.6,250.3 C315.0,254.9 320.5,263.2 324.0,261.7 C327.5,260.3 330.3,248.0 332.7,241.6 C335.2,235.3 336.9,229.1 338.7,223.8 C340.5,218.4 342.2,213.8 343.6,209.7 C345.1,205.6 345.9,202.2 347.2,199.2 C348.5,196.2 351.6,193.2 351.6,191.5 C351.6,189.9 348.7,188.2 347.2,189.1 C345.8,189.9 344.6,193.9 342.8,196.8 C341.0,199.7 338.6,202.4 336.4,206.3 C334.1,210.2 331.5,214.9 329.3,220.2 C327.1,225.6 325.0,232.7 323.3,238.4 C321.6,244.0 319.5,253.0 319.0,254.3 C318.5,255.5 321.5,249.8 320.4,245.7 C319.4,241.6 315.2,235.3 312.5,229.8 C309.8,224.4 307.0,218.2 304.0,213.0 C301.0,207.8 297.5,202.8 294.6,198.5 C291.7,194.2 288.6,188.7 286.7,187.2 C284.8,185.6 282.8,186.8 283.3,189.2 Z" fill="url(#gb4)" stroke="none" stroke-width="1"/>
<circle cx="321.5" cy="259" r="4.5" fill="#3a3030" stroke="none" stroke-width="1"/>
<circle cx="285" cy="188.5" r="3.3" fill="#5a4234" stroke="none" stroke-width="1"/>
<circle cx="349.4" cy="190.3" r="3.5" fill="#4a3a32" stroke="none" stroke-width="1"/>
<path d="M367.0,190.0 C368.2,189.7 370.2,190.7 372.0,192.0 C373.8,193.3 376.0,196.0 378.0,198.0 C380.0,200.0 381.8,201.7 384.0,204.0 C386.2,206.3 388.7,209.3 391.0,212.0 C393.3,214.7 395.8,218.3 398.0,220.0 C400.2,221.7 401.8,221.7 404.0,222.0 C406.2,222.3 408.8,221.3 411.0,222.0 C413.2,222.7 415.3,224.2 417.0,226.0 C418.7,227.8 419.5,231.0 421.0,233.0 C422.5,235.0 424.3,237.3 426.0,238.0 C427.7,238.7 429.3,238.0 431.0,237.0 C432.7,236.0 434.2,233.5 436.0,232.0 C437.8,230.5 439.7,229.0 442.0,228.0 C444.3,227.0 447.7,226.8 450.0,226.0 C452.3,225.2 453.8,224.5 456.0,223.0 C458.2,221.5 460.5,219.3 463.0,217.0 C465.5,214.7 468.2,211.5 471.0,209.0 C473.8,206.5 477.2,204.2 480.0,202.0 C482.8,199.8 485.8,197.5 488.0,196.0 C490.2,194.5 491.8,193.0 493.0,193.0 C494.2,193.0 495.5,194.8 495.0,196.0 C494.5,197.2 491.8,198.5 490.0,200.0 C488.2,201.5 486.3,203.0 484.0,205.0 C481.7,207.0 478.5,209.5 476.0,212.0 C473.5,214.5 471.3,217.2 469.0,220.0 C466.7,222.8 464.2,226.0 462.0,229.0 C459.8,232.0 458.2,235.2 456.0,238.0 C453.8,240.8 451.5,243.7 449.0,246.0 C446.5,248.3 443.8,250.2 441.0,252.0 C438.2,253.8 434.8,255.8 432.0,257.0 C429.2,258.2 426.7,259.2 424.0,259.0 C421.3,258.8 418.7,257.5 416.0,256.0 C413.3,254.5 410.7,252.0 408.0,250.0 C405.3,248.0 402.3,246.2 400.0,244.0 C397.7,241.8 395.7,239.2 394.0,237.0 C392.3,234.8 391.3,233.5 390.0,231.0 C388.7,228.5 387.5,225.2 386.0,222.0 C384.5,218.8 382.8,215.0 381.0,212.0 C379.2,209.0 377.0,206.5 375.0,204.0 C373.0,201.5 370.7,198.7 369.0,197.0 C367.3,195.3 365.3,195.2 365.0,194.0 C364.7,192.8 365.8,190.3 367.0,190.0 Z" fill="#6a2a22" stroke="none" stroke-width="1"/>
<ellipse cx="410" cy="236" rx="8" ry="9" fill="#5a2018" opacity="0.6"/>
<ellipse cx="428" cy="249" rx="9" ry="7" fill="#5a2018" opacity="0.6"/>
<ellipse cx="446" cy="238" rx="8" ry="9" fill="#5a2018" opacity="0.6"/>
<circle cx="406" cy="230" r="1.6" fill="#b07868" stroke="none" stroke-width="1" opacity="0.7"/>
<circle cx="424" cy="244" r="1.6" fill="#b07868" stroke="none" stroke-width="1" opacity="0.7"/>
<circle cx="442" cy="232" r="1.6" fill="#b07868" stroke="none" stroke-width="1" opacity="0.7"/>
<circle cx="414" cy="240" r="1.6" fill="#b07868" stroke="none" stroke-width="1" opacity="0.7"/>
<circle cx="436" cy="246" r="1.6" fill="#b07868" stroke="none" stroke-width="1" opacity="0.7"/>
<circle cx="368" cy="192" r="3.2" fill="#a0604a" stroke="none" stroke-width="1"/>
<circle cx="492.5" cy="194.7" r="3.2" fill="#a0604a" stroke="none" stroke-width="1"/>
<ellipse cx="470" cy="213" rx="5" ry="3" fill="#3a2424" transform="rotate(-42 470 213)"/>
<path d="M33.1,299.3 C34.0,301.9 39.5,307.8 42.7,311.9 C45.9,316.0 49.7,320.3 52.1,323.9 C54.5,327.5 56.5,329.1 57.0,333.3 C57.5,337.6 56.1,344.8 55.1,349.4 C54.0,354.0 51.8,357.2 50.6,361.1 C49.5,364.9 47.3,370.5 48.0,372.7 C48.7,374.9 53.2,375.9 54.8,374.3 C56.4,372.6 56.3,366.9 57.4,362.9 C58.4,359.0 60.0,355.7 60.9,350.6 C61.9,345.6 63.5,337.8 63.0,332.7 C62.5,327.6 60.5,324.2 57.9,320.1 C55.3,316.0 50.8,312.1 47.3,308.1 C43.8,304.1 39.3,297.6 36.9,296.1 C34.6,294.7 32.1,296.6 33.1,299.3 Z" fill="url(#gc1)" stroke="none" stroke-width="1"/>
<path d="M70.9,300.1 C70.1,302.6 70.9,310.2 71.0,315.2 C71.1,320.2 71.5,325.9 71.5,330.1 C71.5,334.2 71.8,336.0 71.1,339.9 C70.3,343.8 68.8,349.8 66.9,353.4 C65.0,356.9 61.8,359.4 59.5,361.5 C57.3,363.7 53.9,364.6 53.6,366.3 C53.3,368.0 56.2,371.7 58.0,371.7 C59.8,371.8 61.9,369.0 64.5,366.5 C67.0,364.0 70.8,360.9 73.1,356.6 C75.3,352.4 77.0,345.7 77.9,341.3 C78.8,336.8 78.7,334.3 78.5,329.9 C78.3,325.5 77.4,319.8 77.0,314.8 C76.6,309.8 76.9,302.4 75.9,299.9 C74.9,297.4 71.7,297.6 70.9,300.1 Z" fill="url(#gc1)" stroke="none" stroke-width="1"/>
<rect x="47" y="364" width="14" height="12" fill="#38c8f0" stroke="none" stroke-width="1" rx="3"/>
<path d="M98.6,301.2 C99.7,305.0 105.6,313.2 109.5,321.2 C113.5,329.2 118.4,341.0 122.5,349.2 C126.6,357.4 130.2,370.9 134.3,370.5 C138.5,370.0 143.1,354.1 147.4,346.3 C151.7,338.5 156.1,329.3 160.2,323.6 C164.3,317.9 169.0,315.0 172.1,312.2 C175.1,309.3 178.2,308.3 178.6,306.6 C179.1,304.9 176.5,301.8 174.8,302.0 C173.0,302.2 171.1,304.8 167.9,307.8 C164.8,310.9 160.0,314.4 155.8,320.4 C151.5,326.4 146.3,336.5 142.6,343.7 C138.8,350.9 135.8,363.0 133.3,363.5 C130.8,364.1 130.6,354.3 127.5,346.8 C124.4,339.4 118.5,326.8 114.5,318.8 C110.4,310.8 105.6,301.7 103.0,298.8 C100.3,295.9 97.5,297.5 98.6,301.2 Z" fill="url(#gc2)" stroke="none" stroke-width="1"/>
<circle cx="133.8" cy="369" r="4" fill="#3a68b0" stroke="none" stroke-width="1"/>
<circle cx="101" cy="300" r="3.2" fill="#a0c8e8" stroke="none" stroke-width="1"/>
<circle cx="176.7" cy="304.3" r="3.4" fill="#a8e0f0" stroke="none" stroke-width="1"/>
<path d="M197.2,307.0 C198.2,310.6 203.6,319.0 207.3,326.4 C211.0,333.8 215.1,343.5 219.3,351.4 C223.6,359.2 228.8,373.5 233.0,373.5 C237.2,373.5 241.1,358.6 244.7,351.2 C248.3,343.9 250.7,336.5 254.6,329.5 C258.5,322.5 266.4,313.2 268.0,309.4 C269.5,305.6 266.9,303.7 263.8,306.6 C260.8,309.4 253.5,319.5 249.4,326.5 C245.3,333.5 242.0,342.1 239.3,348.8 C236.5,355.4 235.4,366.5 233.0,366.5 C230.6,366.5 228.1,355.8 224.7,348.6 C221.3,341.5 216.5,331.0 212.7,323.6 C208.8,316.3 204.2,307.4 201.6,304.6 C199.0,301.8 196.3,303.4 197.2,307.0 Z" fill="#5272b2" stroke="none" stroke-width="1"/>
<circle cx="233" cy="372" r="3.8" fill="#4a68a8" stroke="none" stroke-width="1"/>
<path d="M275.9,306.3 C276.6,310.3 282.0,319.6 285.6,327.3 C289.1,335.0 292.4,344.7 297.2,352.6 C302.0,360.6 309.0,375.0 314.4,375.0 C319.8,375.0 325.4,359.7 329.8,352.6 C334.2,345.6 337.6,338.6 340.8,332.7 C343.9,326.9 346.7,321.1 348.7,317.5 C350.7,314.0 353.1,313.1 352.9,311.3 C352.7,309.5 349.6,306.5 347.7,306.7 C345.7,306.9 344.0,309.0 341.3,312.5 C338.5,315.9 334.7,321.5 331.2,327.3 C327.7,333.1 323.0,341.1 320.2,347.4 C317.4,353.7 316.6,365.0 314.4,365.0 C312.2,365.0 310.2,354.4 306.8,347.4 C303.5,340.3 298.7,330.0 294.4,322.7 C290.1,315.3 284.2,306.1 281.1,303.3 C278.0,300.6 275.2,302.3 275.9,306.3 Z" fill="url(#gc4)" stroke="none" stroke-width="1"/>
<path d="M376.8,301.7 C375.2,304.3 377.4,311.9 378.1,316.2 C378.8,320.4 379.4,323.1 380.9,327.1 C382.3,331.2 384.2,335.8 386.6,340.6 C389.0,345.4 391.9,351.7 395.4,355.8 C398.8,359.9 402.6,362.9 407.1,365.3 C411.7,367.7 417.3,369.0 422.7,370.3 C428.1,371.7 434.4,374.1 439.5,373.5 C444.7,372.9 449.4,370.1 453.7,366.7 C457.9,363.4 461.8,357.6 465.0,353.3 C468.2,349.0 470.1,345.2 472.7,340.9 C475.2,336.6 477.8,331.9 480.3,327.6 C482.7,323.3 487.4,318.0 487.2,315.1 C487.1,312.3 482.1,309.3 479.6,310.5 C477.0,311.7 474.4,318.3 471.7,322.4 C469.0,326.5 465.9,331.1 463.3,335.1 C460.7,339.2 459.0,343.0 456.2,346.7 C453.4,350.4 449.3,355.0 446.3,357.3 C443.3,359.6 441.6,360.1 438.1,360.5 C434.6,360.9 429.5,360.6 425.3,359.7 C421.1,358.7 416.3,356.6 412.9,354.7 C409.4,352.8 407.2,351.4 404.6,348.2 C402.1,345.0 399.3,339.6 397.4,335.4 C395.5,331.2 394.4,326.5 393.1,322.9 C391.9,319.3 390.8,317.6 389.9,313.8 C389.0,310.1 389.9,302.4 387.8,300.3 C385.6,298.3 378.4,299.0 376.8,301.7 Z" fill="#6a1c24" stroke="none" stroke-width="1"/>
<text x="40" y="223" font-size="5.5" text-anchor="start" fill="#e8a898" font-weight="normal">1</text>
<text x="48" y="238" font-size="5.5" text-anchor="start" fill="#e8a898" font-weight="normal">2</text>
<text x="70" y="247" font-size="5.5" text-anchor="start" fill="#e8a898" font-weight="normal">3</text>
<text x="78" y="240" font-size="5.5" text-anchor="start" fill="#e8a898" font-weight="normal">4</text>
<text x="85" y="230" font-size="5.5" text-anchor="start" fill="#e8a898" font-weight="normal">5</text>
<text x="107" y="217" font-size="5.5" text-anchor="start" fill="#e8a898" font-weight="normal">1</text>
<text x="119" y="235" font-size="5.5" text-anchor="start" fill="#e8a898" font-weight="normal">2</text>
<text x="126" y="243" font-size="5.5" text-anchor="start" fill="#e8a898" font-weight="normal">3</text>
<text x="131" y="252" font-size="5.5" text-anchor="start" fill="#e8a898" font-weight="normal">4</text>
<text x="163" y="245" font-size="5.5" text-anchor="start" fill="#e8a898" font-weight="normal">5</text>
<text x="173" y="231" font-size="5.5" text-anchor="start" fill="#e8a898" font-weight="normal">6</text>
<text x="182" y="213" font-size="5.5" text-anchor="start" fill="#e8a898" font-weight="normal">7</text>
<text x="208" y="222" font-size="5.5" text-anchor="start" fill="#e8a898" font-weight="normal">1</text>
<text x="212" y="231" font-size="5.5" text-anchor="start" fill="#e8a898" font-weight="normal">2</text>
<text x="214" y="239" font-size="5.5" text-anchor="start" fill="#e8a898" font-weight="normal">3</text>
<text x="236" y="250" font-size="5.5" text-anchor="start" fill="#e8a898" font-weight="normal">4</text>
<text x="245" y="248" font-size="5.5" text-anchor="start" fill="#e8a898" font-weight="normal">5</text>
<text x="253" y="231" font-size="5.5" text-anchor="start" fill="#e8a898" font-weight="normal">6</text>
<text x="259" y="220" font-size="5.5" text-anchor="start" fill="#e8a898" font-weight="normal">7</text>
<text x="290" y="212" font-size="5.5" text-anchor="start" fill="#e8a898" font-weight="normal">1</text>
<text x="294" y="221" font-size="5.5" text-anchor="start" fill="#e8a898" font-weight="normal">2</text>
<text x="299" y="226" font-size="5.5" text-anchor="start" fill="#e8a898" font-weight="normal">3</text>
<text x="306" y="239" font-size="5.5" text-anchor="start" fill="#e8a898" font-weight="normal">4</text>
<text x="310" y="254" font-size="5.5" text-anchor="start" fill="#e8a898" font-weight="normal">5</text>
<text x="344" y="225" font-size="5.5" text-anchor="start" fill="#e8a898" font-weight="normal">5</text>
<text x="343" y="241" font-size="5.5" text-anchor="start" fill="#e8a898" font-weight="normal">6</text>
<text x="340" y="248" font-size="5.5" text-anchor="start" fill="#e8a898" font-weight="normal">7</text>
<text x="33.8" y="311.8" font-size="5.5" text-anchor="middle" fill="#e8a898" font-weight="normal">1</text>
<text x="41.5" y="317" font-size="5.5" text-anchor="middle" fill="#e8a898" font-weight="normal">2</text>
<text x="49.2" y="328" font-size="5.5" text-anchor="middle" fill="#e8a898" font-weight="normal">3</text>
<text x="49.2" y="349" font-size="5.5" text-anchor="middle" fill="#e8a898" font-weight="normal">5</text>
<text x="77.8" y="315" font-size="5.5" text-anchor="middle" fill="#e8a898" font-weight="normal">10</text>
<text x="81" y="328" font-size="5.5" text-anchor="middle" fill="#e8a898" font-weight="normal">9</text>
<text x="81" y="336" font-size="5.5" text-anchor="middle" fill="#e8a898" font-weight="normal">8</text>
<text x="81" y="344.8" font-size="5.5" text-anchor="middle" fill="#e8a898" font-weight="normal">7</text>
<text x="72.3" y="358" font-size="5.5" text-anchor="middle" fill="#e8a898" font-weight="normal">6</text>
<text x="106.3" y="315" font-size="5.5" text-anchor="middle" fill="#e8a898" font-weight="normal">1</text>
<text x="109.6" y="328.3" font-size="5.5" text-anchor="middle" fill="#e8a898" font-weight="normal">2</text>
<text x="114" y="339.3" font-size="5.5" text-anchor="middle" fill="#e8a898" font-weight="normal">3</text>
<text x="118.4" y="348" font-size="5.5" text-anchor="middle" fill="#e8a898" font-weight="normal">4</text>
<text x="121.7" y="356.8" font-size="5.5" text-anchor="middle" fill="#e8a898" font-weight="normal">5</text>
<text x="150.3" y="352.5" font-size="5.5" text-anchor="middle" fill="#e8a898" font-weight="normal">6</text>
<text x="158" y="339.3" font-size="5.5" text-anchor="middle" fill="#e8a898" font-weight="normal">7</text>
<text x="166.8" y="327.2" font-size="5.5" text-anchor="middle" fill="#e8a898" font-weight="normal">8</text>
<text x="173.4" y="320.6" font-size="5.5" text-anchor="middle" fill="#e8a898" font-weight="normal">9</text>
<text x="203.6" y="322.6" font-size="5.5" text-anchor="middle" fill="#e8a898" font-weight="normal">1</text>
<text x="207.8" y="329" font-size="5.5" text-anchor="middle" fill="#e8a898" font-weight="normal">2</text>
<text x="212" y="338.4" font-size="5.5" text-anchor="middle" fill="#e8a898" font-weight="normal">3</text>
<text x="217.3" y="343.7" font-size="5.5" text-anchor="middle" fill="#e8a898" font-weight="normal">4</text>
<text x="222.6" y="353.2" font-size="5.5" text-anchor="middle" fill="#e8a898" font-weight="normal">5</text>
<text x="244.8" y="364.8" font-size="5.5" text-anchor="middle" fill="#e8a898" font-weight="normal">6</text>
<text x="249" y="352" font-size="5.5" text-anchor="middle" fill="#e8a898" font-weight="normal">7</text>
<text x="251" y="341" font-size="5.5" text-anchor="middle" fill="#e8a898" font-weight="normal">8</text>
<text x="257.4" y="332.5" font-size="5.5" text-anchor="middle" fill="#e8a898" font-weight="normal">9</text>
<text x="262.7" y="324.7" font-size="5.5" text-anchor="middle" fill="#e8a898" font-weight="normal">10</text>
<text x="283.8" y="330" font-size="5.5" text-anchor="middle" fill="#e8a898" font-weight="normal">1</text>
<text x="289.5" y="338.4" font-size="5.5" text-anchor="middle" fill="#e8a898" font-weight="normal">2</text>
<text x="293.3" y="353.2" font-size="5.5" text-anchor="middle" fill="#e8a898" font-weight="normal">3</text>
<text x="297.5" y="364.8" font-size="5.5" text-anchor="middle" fill="#e8a898" font-weight="normal">4</text>
<text x="326.7" y="369" font-size="5.5" text-anchor="middle" fill="#e8a898" font-weight="normal">6</text>
<text x="330.2" y="359.5" font-size="5.5" text-anchor="middle" fill="#e8a898" font-weight="normal">7</text>
<text x="334" y="351" font-size="5.5" text-anchor="middle" fill="#e8a898" font-weight="normal">8</text>
<text x="336.6" y="343.7" font-size="5.5" text-anchor="middle" fill="#e8a898" font-weight="normal">9</text>
<text x="338.7" y="336.3" font-size="5.5" text-anchor="middle" fill="#e8a898" font-weight="normal">10</text>
<text x="340.8" y="330" font-size="5.5" text-anchor="middle" fill="#e8a898" font-weight="normal">11</text>
<text x="345" y="323.7" font-size="5.5" text-anchor="middle" fill="#e8a898" font-weight="normal">12</text>
<text x="372.3" y="306.6" font-size="5.5" text-anchor="middle" fill="#e8a898" font-weight="normal">1</text>
<text x="372.3" y="325.7" font-size="5.5" text-anchor="middle" fill="#e8a898" font-weight="normal">2</text>
<text x="381.4" y="341.2" font-size="5.5" text-anchor="middle" fill="#e8a898" font-weight="normal">3</text>
<text x="391.4" y="356.7" font-size="5.5" text-anchor="middle" fill="#e8a898" font-weight="normal">4</text>
<text x="406" y="372" font-size="5.5" text-anchor="middle" fill="#e8a898" font-weight="normal">5</text>
<text x="450.6" y="376.7" font-size="5.5" text-anchor="middle" fill="#e8a898" font-weight="normal">6</text>
<text x="468.8" y="365.8" font-size="5.5" text-anchor="middle" fill="#e8a898" font-weight="normal">7</text>
<text x="474.3" y="352.1" font-size="5.5" text-anchor="middle" fill="#e8a898" font-weight="normal">8</text>
<text x="480.7" y="342.1" font-size="5.5" text-anchor="middle" fill="#e8a898" font-weight="normal">9</text>
<text x="490.7" y="330.3" font-size="5.5" text-anchor="middle" fill="#e8a898" font-weight="normal">10</text>
<text x="478.9" y="307.5" font-size="5.5" text-anchor="middle" fill="#e8a898" font-weight="normal">11</text>
<text x="375" y="214" font-size="5.5" text-anchor="middle" fill="#e8a898" font-weight="normal">1</text>
<text x="392.3" y="240.5" font-size="5.5" text-anchor="middle" fill="#e8a898" font-weight="normal">3</text>
<text x="411.5" y="257.8" font-size="5.5" text-anchor="middle" fill="#e8a898" font-weight="normal">4</text>
<text x="449.7" y="254" font-size="5.5" text-anchor="middle" fill="#e8a898" font-weight="normal">5</text>
<text x="463.4" y="242.3" font-size="5.5" text-anchor="middle" fill="#e8a898" font-weight="normal">6</text>
<text x="474.3" y="223.2" font-size="5.5" text-anchor="middle" fill="#e8a898" font-weight="normal">7</text>
<text x="482.1" y="215" font-size="5.5" text-anchor="middle" fill="#e8a898" font-weight="normal">8</text>
<text x="15.5" y="410.5" font-size="16" text-anchor="start" fill="#111" font-weight="bold">D</text>
<rect x="31.5" y="411.5" width="521" height="219" fill="none" stroke="#e0e0e0" stroke-width="1"/>
<line x1="31.5" y1="521.5" x2="552.5" y2="521.5" stroke="#e0e0e0" stroke-width="1"/>
<rect x="31.5" y="411.5" width="94" height="16.5" fill="#e3edf4" stroke="none" stroke-width="1"/>
<text x="78.6" y="424" font-size="11.4" text-anchor="middle" fill="#333" font-weight="normal" stroke="#333" stroke-width="0.45">Control</text>
<rect x="31.5" y="521.5" width="94" height="17.5" fill="#f5e6e6" stroke="none" stroke-width="1"/>
<text x="78.6" y="534.5" font-size="11.4" text-anchor="middle" fill="#333" font-weight="normal" stroke="#333" stroke-width="0.45">CervPlug</text>
<g transform="translate(50,436.5) scale(0.4300,0.6910)" opacity="1.0">
<path d="M7.0,12.0 C9.3,9.8 13.7,5.9 18.0,4.0 C22.3,2.1 28.0,1.5 33.0,0.8 C38.0,0.1 43.5,-0.1 48.0,0.0 C52.5,0.1 56.7,0.6 60.0,1.5 C63.3,2.4 66.3,3.9 68.0,5.5 C69.7,7.1 70.2,9.2 70.0,11.0 C69.8,12.8 68.7,14.9 67.0,16.5 C65.3,18.1 62.2,19.2 60.0,20.5 C57.8,21.8 54.5,23.4 54.0,24.0 C53.5,24.6 54.2,24.0 56.8,23.8 C59.4,23.6 66.1,22.5 69.4,22.6 C72.7,22.7 75.7,23.7 76.6,24.6 C77.5,25.5 76.6,26.6 74.8,27.9 C73.0,29.2 68.8,31.0 65.8,32.2 C62.8,33.4 58.5,34.2 56.8,35.3 C55.1,36.4 55.2,37.0 55.5,39.0 C55.8,41.0 57.6,44.2 58.5,47.0 C59.4,49.8 60.3,52.3 61.0,56.0 C61.7,59.7 62.2,65.4 62.5,69.0 C62.8,72.6 61.9,75.5 63.0,77.7 C64.2,79.9 66.2,81.1 69.4,82.0 C72.6,82.9 77.5,82.7 82.0,83.1 C86.5,83.5 94.7,83.3 96.5,84.2 C98.3,85.1 95.9,87.4 92.9,88.5 C89.9,89.6 83.2,90.0 78.4,90.7 C73.6,91.4 67.6,92.0 64.0,92.9 C60.4,93.8 59.5,95.1 56.8,96.1 C54.1,97.1 50.7,98.4 47.7,98.8 C44.7,99.2 42.0,98.9 38.7,98.3 C35.4,97.7 31.5,96.6 27.9,95.0 C24.3,93.4 20.5,91.2 17.0,88.5 C13.5,85.8 9.6,82.3 7.0,78.7 C4.4,75.1 2.7,71.0 1.5,66.8 C0.3,62.6 0.1,58.3 0.0,53.8 C-0.1,49.3 0.6,44.3 1.0,39.6 C1.4,34.9 2.0,29.2 2.5,25.5 C3.0,21.8 3.2,19.8 4.0,17.5 C4.8,15.2 4.7,14.2 7.0,12.0 Z" fill="#b68080" stroke="none" stroke-width="1"/>
<path d="M20.0,8.0 C24.7,3.7 33.7,4.5 40.0,4.0 C46.3,3.5 54.7,3.7 58.0,5.0 C61.3,6.3 61.3,9.2 60.0,12.0 C58.7,14.8 53.0,17.3 50.0,22.0 C47.0,26.7 43.3,33.7 42.0,40.0 C40.7,46.3 41.3,53.7 42.0,60.0 C42.7,66.3 47.7,74.0 46.0,78.0 C44.3,82.0 36.7,84.7 32.0,84.0 C27.3,83.3 21.3,78.8 18.0,74.0 C14.7,69.2 13.0,62.3 12.0,55.0 C11.0,47.7 10.7,37.8 12.0,30.0 C13.3,22.2 15.3,12.3 20.0,8.0 Z" fill="#ca9a9a" stroke="none" stroke-width="1" opacity="0.5"/>
<path d="M46,93.5 C60,92 78,89 95,86" fill="none" stroke="#fff" stroke-width="2.6" opacity="0.9" stroke-linecap="round"/>
</g>
<g transform="translate(108,436) scale(0.4300,0.7000)" opacity="1.0">
<path d="M7.0,12.0 C9.3,9.8 13.7,5.9 18.0,4.0 C22.3,2.1 28.0,1.5 33.0,0.8 C38.0,0.1 43.5,-0.1 48.0,0.0 C52.5,0.1 56.7,0.6 60.0,1.5 C63.3,2.4 66.3,3.9 68.0,5.5 C69.7,7.1 70.2,9.2 70.0,11.0 C69.8,12.8 68.7,14.9 67.0,16.5 C65.3,18.1 62.2,19.2 60.0,20.5 C57.8,21.8 54.5,23.4 54.0,24.0 C53.5,24.6 54.2,24.0 56.8,23.8 C59.4,23.6 66.1,22.5 69.4,22.6 C72.7,22.7 75.7,23.7 76.6,24.6 C77.5,25.5 76.6,26.6 74.8,27.9 C73.0,29.2 68.8,31.0 65.8,32.2 C62.8,33.4 58.5,34.2 56.8,35.3 C55.1,36.4 55.2,37.0 55.5,39.0 C55.8,41.0 57.6,44.2 58.5,47.0 C59.4,49.8 60.3,52.3 61.0,56.0 C61.7,59.7 62.2,65.4 62.5,69.0 C62.8,72.6 61.9,75.5 63.0,77.7 C64.2,79.9 66.2,81.1 69.4,82.0 C72.6,82.9 77.5,82.7 82.0,83.1 C86.5,83.5 94.7,83.3 96.5,84.2 C98.3,85.1 95.9,87.4 92.9,88.5 C89.9,89.6 83.2,90.0 78.4,90.7 C73.6,91.4 67.6,92.0 64.0,92.9 C60.4,93.8 59.5,95.1 56.8,96.1 C54.1,97.1 50.7,98.4 47.7,98.8 C44.7,99.2 42.0,98.9 38.7,98.3 C35.4,97.7 31.5,96.6 27.9,95.0 C24.3,93.4 20.5,91.2 17.0,88.5 C13.5,85.8 9.6,82.3 7.0,78.7 C4.4,75.1 2.7,71.0 1.5,66.8 C0.3,62.6 0.1,58.3 0.0,53.8 C-0.1,49.3 0.6,44.3 1.0,39.6 C1.4,34.9 2.0,29.2 2.5,25.5 C3.0,21.8 3.2,19.8 4.0,17.5 C4.8,15.2 4.7,14.2 7.0,12.0 Z" fill="#b88484" stroke="none" stroke-width="1"/>
<path d="M20.0,8.0 C24.7,3.7 33.7,4.5 40.0,4.0 C46.3,3.5 54.7,3.7 58.0,5.0 C61.3,6.3 61.3,9.2 60.0,12.0 C58.7,14.8 53.0,17.3 50.0,22.0 C47.0,26.7 43.3,33.7 42.0,40.0 C40.7,46.3 41.3,53.7 42.0,60.0 C42.7,66.3 47.7,74.0 46.0,78.0 C44.3,82.0 36.7,84.7 32.0,84.0 C27.3,83.3 21.3,78.8 18.0,74.0 C14.7,69.2 13.0,62.3 12.0,55.0 C11.0,47.7 10.7,37.8 12.0,30.0 C13.3,22.2 15.3,12.3 20.0,8.0 Z" fill="#cc9c9a" stroke="none" stroke-width="1" opacity="0.5"/>
<path d="M46,93.5 C60,92 78,89 95,86" fill="none" stroke="#fff" stroke-width="2.6" opacity="0.9" stroke-linecap="round"/>
</g>
<g transform="translate(166,436) scale(0.4500,0.6900)" opacity="1.0">
<path d="M7.0,12.0 C9.3,9.8 13.7,5.9 18.0,4.0 C22.3,2.1 28.0,1.5 33.0,0.8 C38.0,0.1 43.5,-0.1 48.0,0.0 C52.5,0.1 56.7,0.6 60.0,1.5 C63.3,2.4 66.3,3.9 68.0,5.5 C69.7,7.1 70.2,9.2 70.0,11.0 C69.8,12.8 68.7,14.9 67.0,16.5 C65.3,18.1 62.2,19.2 60.0,20.5 C57.8,21.8 54.5,23.4 54.0,24.0 C53.5,24.6 54.2,24.0 56.8,23.8 C59.4,23.6 66.1,22.5 69.4,22.6 C72.7,22.7 75.7,23.7 76.6,24.6 C77.5,25.5 76.6,26.6 74.8,27.9 C73.0,29.2 68.8,31.0 65.8,32.2 C62.8,33.4 58.5,34.2 56.8,35.3 C55.1,36.4 55.2,37.0 55.5,39.0 C55.8,41.0 57.6,44.2 58.5,47.0 C59.4,49.8 60.3,52.3 61.0,56.0 C61.7,59.7 62.2,65.4 62.5,69.0 C62.8,72.6 61.9,75.5 63.0,77.7 C64.2,79.9 66.2,81.1 69.4,82.0 C72.6,82.9 77.5,82.7 82.0,83.1 C86.5,83.5 94.7,83.3 96.5,84.2 C98.3,85.1 95.9,87.4 92.9,88.5 C89.9,89.6 83.2,90.0 78.4,90.7 C73.6,91.4 67.6,92.0 64.0,92.9 C60.4,93.8 59.5,95.1 56.8,96.1 C54.1,97.1 50.7,98.4 47.7,98.8 C44.7,99.2 42.0,98.9 38.7,98.3 C35.4,97.7 31.5,96.6 27.9,95.0 C24.3,93.4 20.5,91.2 17.0,88.5 C13.5,85.8 9.6,82.3 7.0,78.7 C4.4,75.1 2.7,71.0 1.5,66.8 C0.3,62.6 0.1,58.3 0.0,53.8 C-0.1,49.3 0.6,44.3 1.0,39.6 C1.4,34.9 2.0,29.2 2.5,25.5 C3.0,21.8 3.2,19.8 4.0,17.5 C4.8,15.2 4.7,14.2 7.0,12.0 Z" fill="#9c7c84" stroke="none" stroke-width="1"/>
<path d="M20.0,8.0 C24.7,3.7 33.7,4.5 40.0,4.0 C46.3,3.5 54.7,3.7 58.0,5.0 C61.3,6.3 61.3,9.2 60.0,12.0 C58.7,14.8 53.0,17.3 50.0,22.0 C47.0,26.7 43.3,33.7 42.0,40.0 C40.7,46.3 41.3,53.7 42.0,60.0 C42.7,66.3 47.7,74.0 46.0,78.0 C44.3,82.0 36.7,84.7 32.0,84.0 C27.3,83.3 21.3,78.8 18.0,74.0 C14.7,69.2 13.0,62.3 12.0,55.0 C11.0,47.7 10.7,37.8 12.0,30.0 C13.3,22.2 15.3,12.3 20.0,8.0 Z" fill="#b69ca2" stroke="none" stroke-width="1" opacity="0.5"/>
<path d="M46,93.5 C60,92 78,89 95,86" fill="none" stroke="#fff" stroke-width="2.6" opacity="0.9" stroke-linecap="round"/>
</g>
<g transform="translate(228,433) scale(0.4400,0.7100)" opacity="1.0">
<path d="M7.0,12.0 C9.3,9.8 13.7,5.9 18.0,4.0 C22.3,2.1 28.0,1.5 33.0,0.8 C38.0,0.1 43.5,-0.1 48.0,0.0 C52.5,0.1 56.7,0.6 60.0,1.5 C63.3,2.4 66.3,3.9 68.0,5.5 C69.7,7.1 70.2,9.2 70.0,11.0 C69.8,12.8 68.7,14.9 67.0,16.5 C65.3,18.1 62.2,19.2 60.0,20.5 C57.8,21.8 54.5,23.4 54.0,24.0 C53.5,24.6 54.2,24.0 56.8,23.8 C59.4,23.6 66.1,22.5 69.4,22.6 C72.7,22.7 75.7,23.7 76.6,24.6 C77.5,25.5 76.6,26.6 74.8,27.9 C73.0,29.2 68.8,31.0 65.8,32.2 C62.8,33.4 58.5,34.2 56.8,35.3 C55.1,36.4 55.2,37.0 55.5,39.0 C55.8,41.0 57.6,44.2 58.5,47.0 C59.4,49.8 60.3,52.3 61.0,56.0 C61.7,59.7 62.2,65.4 62.5,69.0 C62.8,72.6 61.9,75.5 63.0,77.7 C64.2,79.9 66.2,81.1 69.4,82.0 C72.6,82.9 77.5,82.7 82.0,83.1 C86.5,83.5 94.7,83.3 96.5,84.2 C98.3,85.1 95.9,87.4 92.9,88.5 C89.9,89.6 83.2,90.0 78.4,90.7 C73.6,91.4 67.6,92.0 64.0,92.9 C60.4,93.8 59.5,95.1 56.8,96.1 C54.1,97.1 50.7,98.4 47.7,98.8 C44.7,99.2 42.0,98.9 38.7,98.3 C35.4,97.7 31.5,96.6 27.9,95.0 C24.3,93.4 20.5,91.2 17.0,88.5 C13.5,85.8 9.6,82.3 7.0,78.7 C4.4,75.1 2.7,71.0 1.5,66.8 C0.3,62.6 0.1,58.3 0.0,53.8 C-0.1,49.3 0.6,44.3 1.0,39.6 C1.4,34.9 2.0,29.2 2.5,25.5 C3.0,21.8 3.2,19.8 4.0,17.5 C4.8,15.2 4.7,14.2 7.0,12.0 Z" fill="#b48282" stroke="none" stroke-width="1"/>
<path d="M20.0,8.0 C24.7,3.7 33.7,4.5 40.0,4.0 C46.3,3.5 54.7,3.7 58.0,5.0 C61.3,6.3 61.3,9.2 60.0,12.0 C58.7,14.8 53.0,17.3 50.0,22.0 C47.0,26.7 43.3,33.7 42.0,40.0 C40.7,46.3 41.3,53.7 42.0,60.0 C42.7,66.3 47.7,74.0 46.0,78.0 C44.3,82.0 36.7,84.7 32.0,84.0 C27.3,83.3 21.3,78.8 18.0,74.0 C14.7,69.2 13.0,62.3 12.0,55.0 C11.0,47.7 10.7,37.8 12.0,30.0 C13.3,22.2 15.3,12.3 20.0,8.0 Z" fill="#c89a9a" stroke="none" stroke-width="1" opacity="0.5"/>
<path d="M46,93.5 C60,92 78,89 95,86" fill="none" stroke="#fff" stroke-width="2.6" opacity="0.9" stroke-linecap="round"/>
</g>
<g transform="translate(284,435) scale(0.5050,0.7000)" opacity="1.0">
<path d="M7.0,12.0 C9.3,9.8 13.7,5.9 18.0,4.0 C22.3,2.1 28.0,1.5 33.0,0.8 C38.0,0.1 43.5,-0.1 48.0,0.0 C52.5,0.1 56.7,0.6 60.0,1.5 C63.3,2.4 66.3,3.9 68.0,5.5 C69.7,7.1 70.2,9.2 70.0,11.0 C69.8,12.8 68.7,14.9 67.0,16.5 C65.3,18.1 62.2,19.2 60.0,20.5 C57.8,21.8 54.5,23.4 54.0,24.0 C53.5,24.6 54.2,24.0 56.8,23.8 C59.4,23.6 66.1,22.5 69.4,22.6 C72.7,22.7 75.7,23.7 76.6,24.6 C77.5,25.5 76.6,26.6 74.8,27.9 C73.0,29.2 68.8,31.0 65.8,32.2 C62.8,33.4 58.5,34.2 56.8,35.3 C55.1,36.4 55.2,37.0 55.5,39.0 C55.8,41.0 57.6,44.2 58.5,47.0 C59.4,49.8 60.3,52.3 61.0,56.0 C61.7,59.7 62.2,65.4 62.5,69.0 C62.8,72.6 61.9,75.5 63.0,77.7 C64.2,79.9 66.2,81.1 69.4,82.0 C72.6,82.9 77.5,82.7 82.0,83.1 C86.5,83.5 94.7,83.3 96.5,84.2 C98.3,85.1 95.9,87.4 92.9,88.5 C89.9,89.6 83.2,90.0 78.4,90.7 C73.6,91.4 67.6,92.0 64.0,92.9 C60.4,93.8 59.5,95.1 56.8,96.1 C54.1,97.1 50.7,98.4 47.7,98.8 C44.7,99.2 42.0,98.9 38.7,98.3 C35.4,97.7 31.5,96.6 27.9,95.0 C24.3,93.4 20.5,91.2 17.0,88.5 C13.5,85.8 9.6,82.3 7.0,78.7 C4.4,75.1 2.7,71.0 1.5,66.8 C0.3,62.6 0.1,58.3 0.0,53.8 C-0.1,49.3 0.6,44.3 1.0,39.6 C1.4,34.9 2.0,29.2 2.5,25.5 C3.0,21.8 3.2,19.8 4.0,17.5 C4.8,15.2 4.7,14.2 7.0,12.0 Z" fill="#9a7e88" stroke="none" stroke-width="1"/>
<path d="M20.0,8.0 C24.7,3.7 33.7,4.5 40.0,4.0 C46.3,3.5 54.7,3.7 58.0,5.0 C61.3,6.3 61.3,9.2 60.0,12.0 C58.7,14.8 53.0,17.3 50.0,22.0 C47.0,26.7 43.3,33.7 42.0,40.0 C40.7,46.3 41.3,53.7 42.0,60.0 C42.7,66.3 47.7,74.0 46.0,78.0 C44.3,82.0 36.7,84.7 32.0,84.0 C27.3,83.3 21.3,78.8 18.0,74.0 C14.7,69.2 13.0,62.3 12.0,55.0 C11.0,47.7 10.7,37.8 12.0,30.0 C13.3,22.2 15.3,12.3 20.0,8.0 Z" fill="#b49ca4" stroke="none" stroke-width="1" opacity="0.5"/>
<path d="M46,93.5 C60,92 78,89 95,86" fill="none" stroke="#fff" stroke-width="2.6" opacity="0.9" stroke-linecap="round"/>
</g>
<g transform="translate(371,435) scale(0.4400,0.7160)" opacity="1.0">
<path d="M7.0,12.0 C9.3,9.8 13.7,5.9 18.0,4.0 C22.3,2.1 28.0,1.5 33.0,0.8 C38.0,0.1 43.5,-0.1 48.0,0.0 C52.5,0.1 56.7,0.6 60.0,1.5 C63.3,2.4 66.3,3.9 68.0,5.5 C69.7,7.1 70.2,9.2 70.0,11.0 C69.8,12.8 68.7,14.9 67.0,16.5 C65.3,18.1 62.2,19.2 60.0,20.5 C57.8,21.8 54.5,23.4 54.0,24.0 C53.5,24.6 54.2,24.0 56.8,23.8 C59.4,23.6 66.1,22.5 69.4,22.6 C72.7,22.7 75.7,23.7 76.6,24.6 C77.5,25.5 76.6,26.6 74.8,27.9 C73.0,29.2 68.8,31.0 65.8,32.2 C62.8,33.4 58.5,34.2 56.8,35.3 C55.1,36.4 55.2,37.0 55.5,39.0 C55.8,41.0 57.6,44.2 58.5,47.0 C59.4,49.8 60.3,52.3 61.0,56.0 C61.7,59.7 62.2,65.4 62.5,69.0 C62.8,72.6 61.9,75.5 63.0,77.7 C64.2,79.9 66.2,81.1 69.4,82.0 C72.6,82.9 77.5,82.7 82.0,83.1 C86.5,83.5 94.7,83.3 96.5,84.2 C98.3,85.1 95.9,87.4 92.9,88.5 C89.9,89.6 83.2,90.0 78.4,90.7 C73.6,91.4 67.6,92.0 64.0,92.9 C60.4,93.8 59.5,95.1 56.8,96.1 C54.1,97.1 50.7,98.4 47.7,98.8 C44.7,99.2 42.0,98.9 38.7,98.3 C35.4,97.7 31.5,96.6 27.9,95.0 C24.3,93.4 20.5,91.2 17.0,88.5 C13.5,85.8 9.6,82.3 7.0,78.7 C4.4,75.1 2.7,71.0 1.5,66.8 C0.3,62.6 0.1,58.3 0.0,53.8 C-0.1,49.3 0.6,44.3 1.0,39.6 C1.4,34.9 2.0,29.2 2.5,25.5 C3.0,21.8 3.2,19.8 4.0,17.5 C4.8,15.2 4.7,14.2 7.0,12.0 Z" fill="#f1eaea" stroke="none" stroke-width="1"/>
<path d="M46,93.5 C60,92 78,89 95,86" fill="none" stroke="#fff" stroke-width="2.6" opacity="0.9" stroke-linecap="round"/>
</g>
<g transform="translate(433,435) scale(0.4600,0.7160)" opacity="1.0">
<path d="M7.0,12.0 C9.3,9.8 13.7,5.9 18.0,4.0 C22.3,2.1 28.0,1.5 33.0,0.8 C38.0,0.1 43.5,-0.1 48.0,0.0 C52.5,0.1 56.7,0.6 60.0,1.5 C63.3,2.4 66.3,3.9 68.0,5.5 C69.7,7.1 70.2,9.2 70.0,11.0 C69.8,12.8 68.7,14.9 67.0,16.5 C65.3,18.1 62.2,19.2 60.0,20.5 C57.8,21.8 54.5,23.4 54.0,24.0 C53.5,24.6 54.2,24.0 56.8,23.8 C59.4,23.6 66.1,22.5 69.4,22.6 C72.7,22.7 75.7,23.7 76.6,24.6 C77.5,25.5 76.6,26.6 74.8,27.9 C73.0,29.2 68.8,31.0 65.8,32.2 C62.8,33.4 58.5,34.2 56.8,35.3 C55.1,36.4 55.2,37.0 55.5,39.0 C55.8,41.0 57.6,44.2 58.5,47.0 C59.4,49.8 60.3,52.3 61.0,56.0 C61.7,59.7 62.2,65.4 62.5,69.0 C62.8,72.6 61.9,75.5 63.0,77.7 C64.2,79.9 66.2,81.1 69.4,82.0 C72.6,82.9 77.5,82.7 82.0,83.1 C86.5,83.5 94.7,83.3 96.5,84.2 C98.3,85.1 95.9,87.4 92.9,88.5 C89.9,89.6 83.2,90.0 78.4,90.7 C73.6,91.4 67.6,92.0 64.0,92.9 C60.4,93.8 59.5,95.1 56.8,96.1 C54.1,97.1 50.7,98.4 47.7,98.8 C44.7,99.2 42.0,98.9 38.7,98.3 C35.4,97.7 31.5,96.6 27.9,95.0 C24.3,93.4 20.5,91.2 17.0,88.5 C13.5,85.8 9.6,82.3 7.0,78.7 C4.4,75.1 2.7,71.0 1.5,66.8 C0.3,62.6 0.1,58.3 0.0,53.8 C-0.1,49.3 0.6,44.3 1.0,39.6 C1.4,34.9 2.0,29.2 2.5,25.5 C3.0,21.8 3.2,19.8 4.0,17.5 C4.8,15.2 4.7,14.2 7.0,12.0 Z" fill="#f1eaea" stroke="none" stroke-width="1"/>
<path d="M46,93.5 C60,92 78,89 95,86" fill="none" stroke="#fff" stroke-width="2.6" opacity="0.9" stroke-linecap="round"/>
</g>
<g transform="translate(495,435) scale(0.4500,0.7160)" opacity="1.0">
<path d="M7.0,12.0 C9.3,9.8 13.7,5.9 18.0,4.0 C22.3,2.1 28.0,1.5 33.0,0.8 C38.0,0.1 43.5,-0.1 48.0,0.0 C52.5,0.1 56.7,0.6 60.0,1.5 C63.3,2.4 66.3,3.9 68.0,5.5 C69.7,7.1 70.2,9.2 70.0,11.0 C69.8,12.8 68.7,14.9 67.0,16.5 C65.3,18.1 62.2,19.2 60.0,20.5 C57.8,21.8 54.5,23.4 54.0,24.0 C53.5,24.6 54.2,24.0 56.8,23.8 C59.4,23.6 66.1,22.5 69.4,22.6 C72.7,22.7 75.7,23.7 76.6,24.6 C77.5,25.5 76.6,26.6 74.8,27.9 C73.0,29.2 68.8,31.0 65.8,32.2 C62.8,33.4 58.5,34.2 56.8,35.3 C55.1,36.4 55.2,37.0 55.5,39.0 C55.8,41.0 57.6,44.2 58.5,47.0 C59.4,49.8 60.3,52.3 61.0,56.0 C61.7,59.7 62.2,65.4 62.5,69.0 C62.8,72.6 61.9,75.5 63.0,77.7 C64.2,79.9 66.2,81.1 69.4,82.0 C72.6,82.9 77.5,82.7 82.0,83.1 C86.5,83.5 94.7,83.3 96.5,84.2 C98.3,85.1 95.9,87.4 92.9,88.5 C89.9,89.6 83.2,90.0 78.4,90.7 C73.6,91.4 67.6,92.0 64.0,92.9 C60.4,93.8 59.5,95.1 56.8,96.1 C54.1,97.1 50.7,98.4 47.7,98.8 C44.7,99.2 42.0,98.9 38.7,98.3 C35.4,97.7 31.5,96.6 27.9,95.0 C24.3,93.4 20.5,91.2 17.0,88.5 C13.5,85.8 9.6,82.3 7.0,78.7 C4.4,75.1 2.7,71.0 1.5,66.8 C0.3,62.6 0.1,58.3 0.0,53.8 C-0.1,49.3 0.6,44.3 1.0,39.6 C1.4,34.9 2.0,29.2 2.5,25.5 C3.0,21.8 3.2,19.8 4.0,17.5 C4.8,15.2 4.7,14.2 7.0,12.0 Z" fill="#f1eaea" stroke="none" stroke-width="1"/>
<path d="M46,93.5 C60,92 78,89 95,86" fill="none" stroke="#fff" stroke-width="2.6" opacity="0.9" stroke-linecap="round"/>
</g>
<g transform="translate(35.7,548.4) scale(0.5150,0.6990)" opacity="1.0">
<path d="M7.0,12.0 C9.3,9.8 13.7,5.9 18.0,4.0 C22.3,2.1 28.0,1.5 33.0,0.8 C38.0,0.1 43.5,-0.1 48.0,0.0 C52.5,0.1 56.7,0.6 60.0,1.5 C63.3,2.4 66.3,3.9 68.0,5.5 C69.7,7.1 70.2,9.2 70.0,11.0 C69.8,12.8 68.7,14.9 67.0,16.5 C65.3,18.1 62.2,19.2 60.0,20.5 C57.8,21.8 54.5,23.4 54.0,24.0 C53.5,24.6 54.2,24.0 56.8,23.8 C59.4,23.6 66.1,22.5 69.4,22.6 C72.7,22.7 75.7,23.7 76.6,24.6 C77.5,25.5 76.6,26.6 74.8,27.9 C73.0,29.2 68.8,31.0 65.8,32.2 C62.8,33.4 58.5,34.2 56.8,35.3 C55.1,36.4 55.2,37.0 55.5,39.0 C55.8,41.0 57.6,44.2 58.5,47.0 C59.4,49.8 60.3,52.3 61.0,56.0 C61.7,59.7 62.2,65.4 62.5,69.0 C62.8,72.6 61.9,75.5 63.0,77.7 C64.2,79.9 66.2,81.1 69.4,82.0 C72.6,82.9 77.5,82.7 82.0,83.1 C86.5,83.5 94.7,83.3 96.5,84.2 C98.3,85.1 95.9,87.4 92.9,88.5 C89.9,89.6 83.2,90.0 78.4,90.7 C73.6,91.4 67.6,92.0 64.0,92.9 C60.4,93.8 59.5,95.1 56.8,96.1 C54.1,97.1 50.7,98.4 47.7,98.8 C44.7,99.2 42.0,98.9 38.7,98.3 C35.4,97.7 31.5,96.6 27.9,95.0 C24.3,93.4 20.5,91.2 17.0,88.5 C13.5,85.8 9.6,82.3 7.0,78.7 C4.4,75.1 2.7,71.0 1.5,66.8 C0.3,62.6 0.1,58.3 0.0,53.8 C-0.1,49.3 0.6,44.3 1.0,39.6 C1.4,34.9 2.0,29.2 2.5,25.5 C3.0,21.8 3.2,19.8 4.0,17.5 C4.8,15.2 4.7,14.2 7.0,12.0 Z" fill="#b47a7c" stroke="none" stroke-width="1"/>
<path d="M20.0,8.0 C24.7,3.7 33.7,4.5 40.0,4.0 C46.3,3.5 54.7,3.7 58.0,5.0 C61.3,6.3 61.3,9.2 60.0,12.0 C58.7,14.8 53.0,17.3 50.0,22.0 C47.0,26.7 43.3,33.7 42.0,40.0 C40.7,46.3 41.3,53.7 42.0,60.0 C42.7,66.3 47.7,74.0 46.0,78.0 C44.3,82.0 36.7,84.7 32.0,84.0 C27.3,83.3 21.3,78.8 18.0,74.0 C14.7,69.2 13.0,62.3 12.0,55.0 C11.0,47.7 10.7,37.8 12.0,30.0 C13.3,22.2 15.3,12.3 20.0,8.0 Z" fill="#ca9696" stroke="none" stroke-width="1" opacity="0.5"/>
<path d="M46,93.5 C60,92 78,89 95,86" fill="none" stroke="#fff" stroke-width="2.6" opacity="0.9" stroke-linecap="round"/>
</g>
<g transform="translate(105.5,548) scale(0.4520,0.7000)" opacity="1.0">
<path d="M7.0,12.0 C9.3,9.8 13.7,5.9 18.0,4.0 C22.3,2.1 28.0,1.5 33.0,0.8 C38.0,0.1 43.5,-0.1 48.0,0.0 C52.5,0.1 56.7,0.6 60.0,1.5 C63.3,2.4 66.3,3.9 68.0,5.5 C69.7,7.1 70.2,9.2 70.0,11.0 C69.8,12.8 68.7,14.9 67.0,16.5 C65.3,18.1 62.2,19.2 60.0,20.5 C57.8,21.8 54.5,23.4 54.0,24.0 C53.5,24.6 54.2,24.0 56.8,23.8 C59.4,23.6 66.1,22.5 69.4,22.6 C72.7,22.7 75.7,23.7 76.6,24.6 C77.5,25.5 76.6,26.6 74.8,27.9 C73.0,29.2 68.8,31.0 65.8,32.2 C62.8,33.4 58.5,34.2 56.8,35.3 C55.1,36.4 55.2,37.0 55.5,39.0 C55.8,41.0 57.6,44.2 58.5,47.0 C59.4,49.8 60.3,52.3 61.0,56.0 C61.7,59.7 62.2,65.4 62.5,69.0 C62.8,72.6 61.9,75.5 63.0,77.7 C64.2,79.9 66.2,81.1 69.4,82.0 C72.6,82.9 77.5,82.7 82.0,83.1 C86.5,83.5 94.7,83.3 96.5,84.2 C98.3,85.1 95.9,87.4 92.9,88.5 C89.9,89.6 83.2,90.0 78.4,90.7 C73.6,91.4 67.6,92.0 64.0,92.9 C60.4,93.8 59.5,95.1 56.8,96.1 C54.1,97.1 50.7,98.4 47.7,98.8 C44.7,99.2 42.0,98.9 38.7,98.3 C35.4,97.7 31.5,96.6 27.9,95.0 C24.3,93.4 20.5,91.2 17.0,88.5 C13.5,85.8 9.6,82.3 7.0,78.7 C4.4,75.1 2.7,71.0 1.5,66.8 C0.3,62.6 0.1,58.3 0.0,53.8 C-0.1,49.3 0.6,44.3 1.0,39.6 C1.4,34.9 2.0,29.2 2.5,25.5 C3.0,21.8 3.2,19.8 4.0,17.5 C4.8,15.2 4.7,14.2 7.0,12.0 Z" fill="#b67c7e" stroke="none" stroke-width="1"/>
<path d="M20.0,8.0 C24.7,3.7 33.7,4.5 40.0,4.0 C46.3,3.5 54.7,3.7 58.0,5.0 C61.3,6.3 61.3,9.2 60.0,12.0 C58.7,14.8 53.0,17.3 50.0,22.0 C47.0,26.7 43.3,33.7 42.0,40.0 C40.7,46.3 41.3,53.7 42.0,60.0 C42.7,66.3 47.7,74.0 46.0,78.0 C44.3,82.0 36.7,84.7 32.0,84.0 C27.3,83.3 21.3,78.8 18.0,74.0 C14.7,69.2 13.0,62.3 12.0,55.0 C11.0,47.7 10.7,37.8 12.0,30.0 C13.3,22.2 15.3,12.3 20.0,8.0 Z" fill="#ca9696" stroke="none" stroke-width="1" opacity="0.5"/>
<path d="M46,93.5 C60,92 78,89 95,86" fill="none" stroke="#fff" stroke-width="2.6" opacity="0.9" stroke-linecap="round"/>
</g>
<g transform="translate(167,547.6) scale(0.5300,0.7040)" opacity="1.0">
<path d="M7.0,12.0 C9.3,9.8 13.7,5.9 18.0,4.0 C22.3,2.1 28.0,1.5 33.0,0.8 C38.0,0.1 43.5,-0.1 48.0,0.0 C52.5,0.1 56.7,0.6 60.0,1.5 C63.3,2.4 66.3,3.9 68.0,5.5 C69.7,7.1 70.2,9.2 70.0,11.0 C69.8,12.8 68.7,14.9 67.0,16.5 C65.3,18.1 62.2,19.2 60.0,20.5 C57.8,21.8 54.5,23.4 54.0,24.0 C53.5,24.6 54.2,24.0 56.8,23.8 C59.4,23.6 66.1,22.5 69.4,22.6 C72.7,22.7 75.7,23.7 76.6,24.6 C77.5,25.5 76.6,26.6 74.8,27.9 C73.0,29.2 68.8,31.0 65.8,32.2 C62.8,33.4 58.5,34.2 56.8,35.3 C55.1,36.4 55.2,37.0 55.5,39.0 C55.8,41.0 57.6,44.2 58.5,47.0 C59.4,49.8 60.3,52.3 61.0,56.0 C61.7,59.7 62.2,65.4 62.5,69.0 C62.8,72.6 61.9,75.5 63.0,77.7 C64.2,79.9 66.2,81.1 69.4,82.0 C72.6,82.9 77.5,82.7 82.0,83.1 C86.5,83.5 94.7,83.3 96.5,84.2 C98.3,85.1 95.9,87.4 92.9,88.5 C89.9,89.6 83.2,90.0 78.4,90.7 C73.6,91.4 67.6,92.0 64.0,92.9 C60.4,93.8 59.5,95.1 56.8,96.1 C54.1,97.1 50.7,98.4 47.7,98.8 C44.7,99.2 42.0,98.9 38.7,98.3 C35.4,97.7 31.5,96.6 27.9,95.0 C24.3,93.4 20.5,91.2 17.0,88.5 C13.5,85.8 9.6,82.3 7.0,78.7 C4.4,75.1 2.7,71.0 1.5,66.8 C0.3,62.6 0.1,58.3 0.0,53.8 C-0.1,49.3 0.6,44.3 1.0,39.6 C1.4,34.9 2.0,29.2 2.5,25.5 C3.0,21.8 3.2,19.8 4.0,17.5 C4.8,15.2 4.7,14.2 7.0,12.0 Z" fill="#b27a7c" stroke="none" stroke-width="1"/>
<path d="M20.0,8.0 C24.7,3.7 33.7,4.5 40.0,4.0 C46.3,3.5 54.7,3.7 58.0,5.0 C61.3,6.3 61.3,9.2 60.0,12.0 C58.7,14.8 53.0,17.3 50.0,22.0 C47.0,26.7 43.3,33.7 42.0,40.0 C40.7,46.3 41.3,53.7 42.0,60.0 C42.7,66.3 47.7,74.0 46.0,78.0 C44.3,82.0 36.7,84.7 32.0,84.0 C27.3,83.3 21.3,78.8 18.0,74.0 C14.7,69.2 13.0,62.3 12.0,55.0 C11.0,47.7 10.7,37.8 12.0,30.0 C13.3,22.2 15.3,12.3 20.0,8.0 Z" fill="#c89494" stroke="none" stroke-width="1" opacity="0.5"/>
<path d="M46,93.5 C60,92 78,89 95,86" fill="none" stroke="#fff" stroke-width="2.6" opacity="0.9" stroke-linecap="round"/>
</g>
<g transform="translate(241.5,547.6) scale(0.4250,0.7040)" opacity="1.0">
<path d="M7.0,12.0 C9.3,9.8 13.7,5.9 18.0,4.0 C22.3,2.1 28.0,1.5 33.0,0.8 C38.0,0.1 43.5,-0.1 48.0,0.0 C52.5,0.1 56.7,0.6 60.0,1.5 C63.3,2.4 66.3,3.9 68.0,5.5 C69.7,7.1 70.2,9.2 70.0,11.0 C69.8,12.8 68.7,14.9 67.0,16.5 C65.3,18.1 62.2,19.2 60.0,20.5 C57.8,21.8 54.5,23.4 54.0,24.0 C53.5,24.6 54.2,24.0 56.8,23.8 C59.4,23.6 66.1,22.5 69.4,22.6 C72.7,22.7 75.7,23.7 76.6,24.6 C77.5,25.5 76.6,26.6 74.8,27.9 C73.0,29.2 68.8,31.0 65.8,32.2 C62.8,33.4 58.5,34.2 56.8,35.3 C55.1,36.4 55.2,37.0 55.5,39.0 C55.8,41.0 57.6,44.2 58.5,47.0 C59.4,49.8 60.3,52.3 61.0,56.0 C61.7,59.7 62.2,65.4 62.5,69.0 C62.8,72.6 61.9,75.5 63.0,77.7 C64.2,79.9 66.2,81.1 69.4,82.0 C72.6,82.9 77.5,82.7 82.0,83.1 C86.5,83.5 94.7,83.3 96.5,84.2 C98.3,85.1 95.9,87.4 92.9,88.5 C89.9,89.6 83.2,90.0 78.4,90.7 C73.6,91.4 67.6,92.0 64.0,92.9 C60.4,93.8 59.5,95.1 56.8,96.1 C54.1,97.1 50.7,98.4 47.7,98.8 C44.7,99.2 42.0,98.9 38.7,98.3 C35.4,97.7 31.5,96.6 27.9,95.0 C24.3,93.4 20.5,91.2 17.0,88.5 C13.5,85.8 9.6,82.3 7.0,78.7 C4.4,75.1 2.7,71.0 1.5,66.8 C0.3,62.6 0.1,58.3 0.0,53.8 C-0.1,49.3 0.6,44.3 1.0,39.6 C1.4,34.9 2.0,29.2 2.5,25.5 C3.0,21.8 3.2,19.8 4.0,17.5 C4.8,15.2 4.7,14.2 7.0,12.0 Z" fill="#b27c7e" stroke="none" stroke-width="1"/>
<path d="M20.0,8.0 C24.7,3.7 33.7,4.5 40.0,4.0 C46.3,3.5 54.7,3.7 58.0,5.0 C61.3,6.3 61.3,9.2 60.0,12.0 C58.7,14.8 53.0,17.3 50.0,22.0 C47.0,26.7 43.3,33.7 42.0,40.0 C40.7,46.3 41.3,53.7 42.0,60.0 C42.7,66.3 47.7,74.0 46.0,78.0 C44.3,82.0 36.7,84.7 32.0,84.0 C27.3,83.3 21.3,78.8 18.0,74.0 C14.7,69.2 13.0,62.3 12.0,55.0 C11.0,47.7 10.7,37.8 12.0,30.0 C13.3,22.2 15.3,12.3 20.0,8.0 Z" fill="#c89696" stroke="none" stroke-width="1" opacity="0.5"/>
<path d="M46,93.5 C60,92 78,89 95,86" fill="none" stroke="#fff" stroke-width="2.6" opacity="0.9" stroke-linecap="round"/>
</g>
<g transform="translate(310.6,547.6) scale(0.4040,0.6840)" opacity="1.0">
<path d="M7.0,12.0 C9.3,9.8 13.7,5.9 18.0,4.0 C22.3,2.1 28.0,1.5 33.0,0.8 C38.0,0.1 43.5,-0.1 48.0,0.0 C52.5,0.1 56.7,0.6 60.0,1.5 C63.3,2.4 66.3,3.9 68.0,5.5 C69.7,7.1 70.2,9.2 70.0,11.0 C69.8,12.8 68.7,14.9 67.0,16.5 C65.3,18.1 62.2,19.2 60.0,20.5 C57.8,21.8 54.5,23.4 54.0,24.0 C53.5,24.6 54.2,24.0 56.8,23.8 C59.4,23.6 66.1,22.5 69.4,22.6 C72.7,22.7 75.7,23.7 76.6,24.6 C77.5,25.5 76.6,26.6 74.8,27.9 C73.0,29.2 68.8,31.0 65.8,32.2 C62.8,33.4 58.5,34.2 56.8,35.3 C55.1,36.4 55.2,37.0 55.5,39.0 C55.8,41.0 57.6,44.2 58.5,47.0 C59.4,49.8 60.3,52.3 61.0,56.0 C61.7,59.7 62.2,65.4 62.5,69.0 C62.8,72.6 61.9,75.5 63.0,77.7 C64.2,79.9 66.2,81.1 69.4,82.0 C72.6,82.9 77.5,82.7 82.0,83.1 C86.5,83.5 94.7,83.3 96.5,84.2 C98.3,85.1 95.9,87.4 92.9,88.5 C89.9,89.6 83.2,90.0 78.4,90.7 C73.6,91.4 67.6,92.0 64.0,92.9 C60.4,93.8 59.5,95.1 56.8,96.1 C54.1,97.1 50.7,98.4 47.7,98.8 C44.7,99.2 42.0,98.9 38.7,98.3 C35.4,97.7 31.5,96.6 27.9,95.0 C24.3,93.4 20.5,91.2 17.0,88.5 C13.5,85.8 9.6,82.3 7.0,78.7 C4.4,75.1 2.7,71.0 1.5,66.8 C0.3,62.6 0.1,58.3 0.0,53.8 C-0.1,49.3 0.6,44.3 1.0,39.6 C1.4,34.9 2.0,29.2 2.5,25.5 C3.0,21.8 3.2,19.8 4.0,17.5 C4.8,15.2 4.7,14.2 7.0,12.0 Z" fill="#ac7476" stroke="none" stroke-width="1"/>
<path d="M20.0,8.0 C24.7,3.7 33.7,4.5 40.0,4.0 C46.3,3.5 54.7,3.7 58.0,5.0 C61.3,6.3 61.3,9.2 60.0,12.0 C58.7,14.8 53.0,17.3 50.0,22.0 C47.0,26.7 43.3,33.7 42.0,40.0 C40.7,46.3 41.3,53.7 42.0,60.0 C42.7,66.3 47.7,74.0 46.0,78.0 C44.3,82.0 36.7,84.7 32.0,84.0 C27.3,83.3 21.3,78.8 18.0,74.0 C14.7,69.2 13.0,62.3 12.0,55.0 C11.0,47.7 10.7,37.8 12.0,30.0 C13.3,22.2 15.3,12.3 20.0,8.0 Z" fill="#c49090" stroke="none" stroke-width="1" opacity="0.5"/>
<path d="M46,93.5 C60,92 78,89 95,86" fill="none" stroke="#fff" stroke-width="2.6" opacity="0.9" stroke-linecap="round"/>
</g>
<g transform="translate(376.6,546) scale(0.4010,0.6660)" opacity="1.0">
<path d="M7.0,12.0 C9.3,9.8 13.7,5.9 18.0,4.0 C22.3,2.1 28.0,1.5 33.0,0.8 C38.0,0.1 43.5,-0.1 48.0,0.0 C52.5,0.1 56.7,0.6 60.0,1.5 C63.3,2.4 66.3,3.9 68.0,5.5 C69.7,7.1 70.2,9.2 70.0,11.0 C69.8,12.8 68.7,14.9 67.0,16.5 C65.3,18.1 62.2,19.2 60.0,20.5 C57.8,21.8 54.5,23.4 54.0,24.0 C53.5,24.6 54.2,24.0 56.8,23.8 C59.4,23.6 66.1,22.5 69.4,22.6 C72.7,22.7 75.7,23.7 76.6,24.6 C77.5,25.5 76.6,26.6 74.8,27.9 C73.0,29.2 68.8,31.0 65.8,32.2 C62.8,33.4 58.5,34.2 56.8,35.3 C55.1,36.4 55.2,37.0 55.5,39.0 C55.8,41.0 57.6,44.2 58.5,47.0 C59.4,49.8 60.3,52.3 61.0,56.0 C61.7,59.7 62.2,65.4 62.5,69.0 C62.8,72.6 61.9,75.5 63.0,77.7 C64.2,79.9 66.2,81.1 69.4,82.0 C72.6,82.9 77.5,82.7 82.0,83.1 C86.5,83.5 94.7,83.3 96.5,84.2 C98.3,85.1 95.9,87.4 92.9,88.5 C89.9,89.6 83.2,90.0 78.4,90.7 C73.6,91.4 67.6,92.0 64.0,92.9 C60.4,93.8 59.5,95.1 56.8,96.1 C54.1,97.1 50.7,98.4 47.7,98.8 C44.7,99.2 42.0,98.9 38.7,98.3 C35.4,97.7 31.5,96.6 27.9,95.0 C24.3,93.4 20.5,91.2 17.0,88.5 C13.5,85.8 9.6,82.3 7.0,78.7 C4.4,75.1 2.7,71.0 1.5,66.8 C0.3,62.6 0.1,58.3 0.0,53.8 C-0.1,49.3 0.6,44.3 1.0,39.6 C1.4,34.9 2.0,29.2 2.5,25.5 C3.0,21.8 3.2,19.8 4.0,17.5 C4.8,15.2 4.7,14.2 7.0,12.0 Z" fill="#a86c70" stroke="none" stroke-width="1"/>
<path d="M20.0,8.0 C24.7,3.7 33.7,4.5 40.0,4.0 C46.3,3.5 54.7,3.7 58.0,5.0 C61.3,6.3 61.3,9.2 60.0,12.0 C58.7,14.8 53.0,17.3 50.0,22.0 C47.0,26.7 43.3,33.7 42.0,40.0 C40.7,46.3 41.3,53.7 42.0,60.0 C42.7,66.3 47.7,74.0 46.0,78.0 C44.3,82.0 36.7,84.7 32.0,84.0 C27.3,83.3 21.3,78.8 18.0,74.0 C14.7,69.2 13.0,62.3 12.0,55.0 C11.0,47.7 10.7,37.8 12.0,30.0 C13.3,22.2 15.3,12.3 20.0,8.0 Z" fill="#c28a8a" stroke="none" stroke-width="1" opacity="0.5"/>
<path d="M46,93.5 C60,92 78,89 95,86" fill="none" stroke="#fff" stroke-width="2.6" opacity="0.9" stroke-linecap="round"/>
</g>
<g transform="translate(438.8,546) scale(0.4120,0.6660)" opacity="1.0">
<path d="M7.0,12.0 C9.3,9.8 13.7,5.9 18.0,4.0 C22.3,2.1 28.0,1.5 33.0,0.8 C38.0,0.1 43.5,-0.1 48.0,0.0 C52.5,0.1 56.7,0.6 60.0,1.5 C63.3,2.4 66.3,3.9 68.0,5.5 C69.7,7.1 70.2,9.2 70.0,11.0 C69.8,12.8 68.7,14.9 67.0,16.5 C65.3,18.1 62.2,19.2 60.0,20.5 C57.8,21.8 54.5,23.4 54.0,24.0 C53.5,24.6 54.2,24.0 56.8,23.8 C59.4,23.6 66.1,22.5 69.4,22.6 C72.7,22.7 75.7,23.7 76.6,24.6 C77.5,25.5 76.6,26.6 74.8,27.9 C73.0,29.2 68.8,31.0 65.8,32.2 C62.8,33.4 58.5,34.2 56.8,35.3 C55.1,36.4 55.2,37.0 55.5,39.0 C55.8,41.0 57.6,44.2 58.5,47.0 C59.4,49.8 60.3,52.3 61.0,56.0 C61.7,59.7 62.2,65.4 62.5,69.0 C62.8,72.6 61.9,75.5 63.0,77.7 C64.2,79.9 66.2,81.1 69.4,82.0 C72.6,82.9 77.5,82.7 82.0,83.1 C86.5,83.5 94.7,83.3 96.5,84.2 C98.3,85.1 95.9,87.4 92.9,88.5 C89.9,89.6 83.2,90.0 78.4,90.7 C73.6,91.4 67.6,92.0 64.0,92.9 C60.4,93.8 59.5,95.1 56.8,96.1 C54.1,97.1 50.7,98.4 47.7,98.8 C44.7,99.2 42.0,98.9 38.7,98.3 C35.4,97.7 31.5,96.6 27.9,95.0 C24.3,93.4 20.5,91.2 17.0,88.5 C13.5,85.8 9.6,82.3 7.0,78.7 C4.4,75.1 2.7,71.0 1.5,66.8 C0.3,62.6 0.1,58.3 0.0,53.8 C-0.1,49.3 0.6,44.3 1.0,39.6 C1.4,34.9 2.0,29.2 2.5,25.5 C3.0,21.8 3.2,19.8 4.0,17.5 C4.8,15.2 4.7,14.2 7.0,12.0 Z" fill="#a66c70" stroke="none" stroke-width="1"/>
<path d="M20.0,8.0 C24.7,3.7 33.7,4.5 40.0,4.0 C46.3,3.5 54.7,3.7 58.0,5.0 C61.3,6.3 61.3,9.2 60.0,12.0 C58.7,14.8 53.0,17.3 50.0,22.0 C47.0,26.7 43.3,33.7 42.0,40.0 C40.7,46.3 41.3,53.7 42.0,60.0 C42.7,66.3 47.7,74.0 46.0,78.0 C44.3,82.0 36.7,84.7 32.0,84.0 C27.3,83.3 21.3,78.8 18.0,74.0 C14.7,69.2 13.0,62.3 12.0,55.0 C11.0,47.7 10.7,37.8 12.0,30.0 C13.3,22.2 15.3,12.3 20.0,8.0 Z" fill="#c08888" stroke="none" stroke-width="1" opacity="0.5"/>
<path d="M46,93.5 C60,92 78,89 95,86" fill="none" stroke="#fff" stroke-width="2.6" opacity="0.9" stroke-linecap="round"/>
</g>
<g transform="translate(506.5,546) scale(0.4420,0.6660)" opacity="1.0">
<path d="M7.0,12.0 C9.3,9.8 13.7,5.9 18.0,4.0 C22.3,2.1 28.0,1.5 33.0,0.8 C38.0,0.1 43.5,-0.1 48.0,0.0 C52.5,0.1 56.7,0.6 60.0,1.5 C63.3,2.4 66.3,3.9 68.0,5.5 C69.7,7.1 70.2,9.2 70.0,11.0 C69.8,12.8 68.7,14.9 67.0,16.5 C65.3,18.1 62.2,19.2 60.0,20.5 C57.8,21.8 54.5,23.4 54.0,24.0 C53.5,24.6 54.2,24.0 56.8,23.8 C59.4,23.6 66.1,22.5 69.4,22.6 C72.7,22.7 75.7,23.7 76.6,24.6 C77.5,25.5 76.6,26.6 74.8,27.9 C73.0,29.2 68.8,31.0 65.8,32.2 C62.8,33.4 58.5,34.2 56.8,35.3 C55.1,36.4 55.2,37.0 55.5,39.0 C55.8,41.0 57.6,44.2 58.5,47.0 C59.4,49.8 60.3,52.3 61.0,56.0 C61.7,59.7 62.2,65.4 62.5,69.0 C62.8,72.6 61.9,75.5 63.0,77.7 C64.2,79.9 66.2,81.1 69.4,82.0 C72.6,82.9 77.5,82.7 82.0,83.1 C86.5,83.5 94.7,83.3 96.5,84.2 C98.3,85.1 95.9,87.4 92.9,88.5 C89.9,89.6 83.2,90.0 78.4,90.7 C73.6,91.4 67.6,92.0 64.0,92.9 C60.4,93.8 59.5,95.1 56.8,96.1 C54.1,97.1 50.7,98.4 47.7,98.8 C44.7,99.2 42.0,98.9 38.7,98.3 C35.4,97.7 31.5,96.6 27.9,95.0 C24.3,93.4 20.5,91.2 17.0,88.5 C13.5,85.8 9.6,82.3 7.0,78.7 C4.4,75.1 2.7,71.0 1.5,66.8 C0.3,62.6 0.1,58.3 0.0,53.8 C-0.1,49.3 0.6,44.3 1.0,39.6 C1.4,34.9 2.0,29.2 2.5,25.5 C3.0,21.8 3.2,19.8 4.0,17.5 C4.8,15.2 4.7,14.2 7.0,12.0 Z" fill="#aa6e72" stroke="none" stroke-width="1"/>
<path d="M20.0,8.0 C24.7,3.7 33.7,4.5 40.0,4.0 C46.3,3.5 54.7,3.7 58.0,5.0 C61.3,6.3 61.3,9.2 60.0,12.0 C58.7,14.8 53.0,17.3 50.0,22.0 C47.0,26.7 43.3,33.7 42.0,40.0 C40.7,46.3 41.3,53.7 42.0,60.0 C42.7,66.3 47.7,74.0 46.0,78.0 C44.3,82.0 36.7,84.7 32.0,84.0 C27.3,83.3 21.3,78.8 18.0,74.0 C14.7,69.2 13.0,62.3 12.0,55.0 C11.0,47.7 10.7,37.8 12.0,30.0 C13.3,22.2 15.3,12.3 20.0,8.0 Z" fill="#c48a8a" stroke="none" stroke-width="1" opacity="0.5"/>
<path d="M46,93.5 C60,92 78,89 95,86" fill="none" stroke="#fff" stroke-width="2.6" opacity="0.9" stroke-linecap="round"/>
</g>
<text x="212" y="600" font-size="30" text-anchor="start" fill="#fff" font-weight="normal" stroke="#fff" stroke-width="0.45" style="font-family:'Liberation Sans','Noto Sans CJK SC',sans-serif">怎</text>
<text x="246" y="600" font-size="30" text-anchor="start" fill="#fff" font-weight="normal" stroke="#fff" stroke-width="0.45" style="font-family:'Liberation Sans','Noto Sans CJK SC',sans-serif">么</text>
<text x="305" y="600" font-size="30" text-anchor="start" fill="#fff" font-weight="normal" stroke="#fff" stroke-width="0.45" style="font-family:'Liberation Sans','Noto Sans CJK SC',sans-serif">亮</text>
<text x="378" y="600" font-size="30" text-anchor="start" fill="#fff" font-weight="normal" stroke="#fff" stroke-width="0.45" style="font-family:'Liberation Sans','Noto Sans CJK SC',sans-serif">美</text>
<text x="413" y="600" font-size="30" text-anchor="start" fill="#fff" font-weight="normal" stroke="#fff" stroke-width="0.45" style="font-family:'Liberation Sans','Noto Sans CJK SC',sans-serif">丽</text>
<text x="443" y="600" font-size="30" text-anchor="start" fill="#fff" font-weight="normal" stroke="#fff" stroke-width="0.45" style="font-family:'Liberation Sans','Noto Sans CJK SC',sans-serif">医</text>
<text x="488" y="600" font-size="30" text-anchor="start" fill="#fff" font-weight="normal" stroke="#fff" stroke-width="0.45" style="font-family:'Liberation Sans','Noto Sans CJK SC',sans-serif">事</text>
<text x="517" y="600" font-size="30" text-anchor="start" fill="#fff" font-weight="normal" stroke="#fff" stroke-width="0.45" style="font-family:'Liberation Sans','Noto Sans CJK SC',sans-serif">?</text>
<text x="532" y="600" font-size="30" text-anchor="start" fill="#fff" font-weight="normal" stroke="#fff" stroke-width="0.45" style="font-family:'Liberation Sans','Noto Sans CJK SC',sans-serif">这</text>
<text x="568.5" y="407.5" font-size="16" text-anchor="start" fill="#111" font-weight="bold">E</text>
<rect x="589.5" y="409.5" width="199.5" height="220.5" fill="none" stroke="#e2e2e2" stroke-width="1"/>
<rect x="650" y="404" width="64" height="10" fill="#fff" stroke="none" stroke-width="1"/>
<text x="682" y="413.5" font-size="11.4" text-anchor="middle" fill="#333" font-weight="normal" stroke="#333" stroke-width="0.45">Uterus</text>
<path d="M620,428 C630,424 640,428 646,434 C660,440 668,452 668,468 C668,488 656,506 634,508 C612,508 596,492 595.5,470 C595,452 604,436 620,428 Z" fill="#e4aee4" stroke="none" stroke-width="1"/>
<ellipse cx="633" cy="468" rx="31" ry="34" fill="#d89ada"/>
<ellipse cx="634" cy="466" rx="23" ry="26" fill="#c67ccc"/>
<ellipse cx="632" cy="464" rx="16" ry="18" fill="#b864c2"/>
<path d="M626,444 C630,452 628,462 632,472 C634,480 630,488 634,494" fill="none" stroke="#fff" stroke-width="2.2" stroke-linecap="round"/>
<path d="M614,452 C620,455 628,450 640,448" fill="none" stroke="#fff" stroke-width="2.2" stroke-linecap="round"/>
<path d="M618,484 C626,480 634,488 644,480 C650,474 654,470 658,468" fill="none" stroke="#fff" stroke-width="2.2" stroke-linecap="round"/>
<path d="M614,458 C618,466 612,474 620,478" fill="none" stroke="#fff" stroke-width="2.2" stroke-linecap="round"/>
<path d="M636,458 L644,452 M638,470 L648,474" fill="none" stroke="#fff" stroke-width="2.2" stroke-linecap="round"/>
<rect x="693.4" y="429.4" width="90.2" height="79.1" fill="#c878cc" stroke="none" stroke-width="1"/>
<clipPath id="cl1"><rect x="693.4" y="429.4" width="90.2" height="79.1"/></clipPath><g clip-path="url(#cl1)">
<path d="M693,429 L740,429 C745,450 742,480 748,508.5 L693,508.5 Z" fill="#b050c0" stroke="none" stroke-width="1"/>
<path d="M745,429 C762,440 770,460 772,480 L776,508.5 L760,508.5 C758,480 752,450 738,429 Z" fill="#dc9ada" stroke="none" stroke-width="1"/>
<path d="M749,429 C768,436 780,455 783.6,478 L783.6,429 Z" fill="#fff" stroke="none" stroke-width="1"/>
<path d="M694,446 C700,440 704,446 708,450 C712,456 718,458 722,462" fill="none" stroke="#fff" stroke-width="2.6" stroke-linecap="round"/>
<path d="M696,470 C700,480 704,490 702,500" fill="none" stroke="#fff" stroke-width="2.6" stroke-linecap="round"/>
<path d="M706,500 C716,494 726,496 732,490 C736,486 740,490 744,494" fill="none" stroke="#fff" stroke-width="2.6" stroke-linecap="round"/>
<path d="M710,480 C712,474 716,470 722,472" fill="none" stroke="#fff" stroke-width="2.6" stroke-linecap="round"/>
</g>
<path d="M724.6,450.8 L720.0,447.5 L724.1,445.1 Z" fill="#111" stroke="none" stroke-width="1"/>
<path d="M732.6,448.2 L729.3,443.5 L734.0,442.7 Z" fill="#111" stroke="none" stroke-width="1"/>
<path d="M742.4,449.8 L742.9,444.1 L747.0,446.5 Z" fill="#111" stroke="none" stroke-width="1"/>
<path d="M748.2,459.6 L751.5,455.0 L753.9,459.1 Z" fill="#111" stroke="none" stroke-width="1"/>
<path d="M747.8,473.0 L752.9,470.6 L752.9,475.4 Z" fill="#111" stroke="none" stroke-width="1"/>
<path d="M729.3,476.3 L723.9,474.3 L727.3,470.9 Z" fill="#111" stroke="none" stroke-width="1"/>
<path d="M744.0,484.9 L749.6,484.4 L748.0,488.9 Z" fill="#111" stroke="none" stroke-width="1"/>
<path d="M749.2,490.4 L754.9,490.9 L752.5,495.0 Z" fill="#111" stroke="none" stroke-width="1"/>
<path d="M752.5,497.9 L758.0,499.4 L754.9,503.1 Z" fill="#111" stroke="none" stroke-width="1"/>
<path d="M738.9,502.0 L742.9,506.0 L738.4,507.6 Z" fill="#111" stroke="none" stroke-width="1"/>
<rect x="645" y="448" width="29" height="31" fill="none" stroke="#888" stroke-width="0.8"/>
<line x1="674" y1="448" x2="693.4" y2="429.5" stroke="#999" stroke-width="0.8"/>
<line x1="674" y1="479" x2="693.4" y2="508.5" stroke="#999" stroke-width="0.8"/>
<rect x="662" y="504.6" width="10" height="2.4" fill="#222" stroke="none" stroke-width="1"/>
<rect x="753" y="504.6" width="24" height="2.4" fill="#222" stroke="none" stroke-width="1"/>
<text x="592.5" y="469.5" font-size="11.4" text-anchor="middle" fill="#222" font-weight="normal" stroke="#222" stroke-width="0.45" transform="rotate(-90 592.5 469.5)">Control</text>
<path d="M612,538 C628,534 650,536 662,546 C672,556 674,572 672,588 C668,604 652,614 636,616 C616,618 600,606 597,590 C594,572 596,548 612,538 Z" fill="#e0a4e0" stroke="none" stroke-width="1"/>
<ellipse cx="634" cy="577" rx="32" ry="33" fill="#d696d8"/>
<ellipse cx="630" cy="575" rx="24" ry="25" fill="#c276ca"/>
<path d="M608,566 C618,560 626,566 640,556" fill="none" stroke="#fff" stroke-width="2.6" stroke-linecap="round"/>
<path d="M610,590 C620,585 628,596 642,590 C648,588 654,594 660,590" fill="none" stroke="#fff" stroke-width="2.6" stroke-linecap="round"/>
<path d="M620,560 C624,572 620,584 628,598" fill="none" stroke="#fff" stroke-width="2.6" stroke-linecap="round"/>
<path d="M636,566 C640,574 646,578 652,576" fill="none" stroke="#fff" stroke-width="2.6" stroke-linecap="round"/>
<path d="M612,578 L626,580" fill="none" stroke="#fff" stroke-width="2.6" stroke-linecap="round"/>
<path d="M640,600 L646,584" fill="none" stroke="#fff" stroke-width="2.6" stroke-linecap="round"/>
<path d="M640,612 C646,618 650,622 656,620" fill="none" stroke="#e0a4e0" stroke-width="3"/>
<rect x="693.4" y="533.7" width="88.4" height="80.7" fill="#c87ccc" stroke="none" stroke-width="1"/>
<clipPath id="cl2"><rect x="693.4" y="533.7" width="88.4" height="80.7"/></clipPath><g clip-path="url(#cl2)">
<path d="M693,533 L738,533 C740,560 738,590 742,614.4 L693,614.4 Z" fill="#b458c2" stroke="none" stroke-width="1"/>
<path d="M752,533 C756,560 760,590 762,614.4 L770,614.4 C768,590 764,560 760,533 Z" fill="#e8b8e8" stroke="none" stroke-width="1"/>
<path d="M775,533 L782,533 L782,614.4 L778,614.4 C778,590 776,560 775,533 Z" fill="#f0d0f0" stroke="none" stroke-width="1"/>
<path d="M700,548 C706,560 702,575 696,590" fill="none" stroke="#fff" stroke-width="3" stroke-linecap="round"/>
<path d="M694,600 C704,598 712,604 720,600" fill="none" stroke="#fff" stroke-width="3" stroke-linecap="round"/>
<path d="M712,545 L716,552" fill="none" stroke="#fff" stroke-width="3" stroke-linecap="round"/>
</g>
<path d="M708.2,537.0 L703.1,539.4 L703.1,534.6 Z" fill="#111" stroke="none" stroke-width="1"/>
<path d="M719.2,549.0 L714.1,551.4 L714.1,546.6 Z" fill="#111" stroke="none" stroke-width="1"/>
<path d="M711.2,552.6 L705.7,554.0 L706.5,549.3 Z" fill="#111" stroke="none" stroke-width="1"/>
<path d="M724.6,573.8 L720.0,570.5 L724.1,568.1 Z" fill="#111" stroke="none" stroke-width="1"/>
<path d="M736.4,576.8 L736.9,571.1 L741.0,573.5 Z" fill="#111" stroke="none" stroke-width="1"/>
<path d="M720.8,584.6 L715.1,584.1 L717.5,580.0 Z" fill="#111" stroke="none" stroke-width="1"/>
<path d="M735.2,586.6 L738.5,582.0 L740.9,586.1 Z" fill="#111" stroke="none" stroke-width="1"/>
<path d="M718.2,596.0 L713.1,598.4 L713.1,593.6 Z" fill="#111" stroke="none" stroke-width="1"/>
<path d="M721.2,607.0 L716.1,609.4 L716.1,604.6 Z" fill="#111" stroke="none" stroke-width="1"/>
<path d="M738.0,601.9 L743.6,601.4 L742.0,605.9 Z" fill="#111" stroke="none" stroke-width="1"/>
<rect x="648" y="555" width="32" height="30" fill="none" stroke="#888" stroke-width="0.8"/>
<line x1="680" y1="555" x2="693.4" y2="534" stroke="#999" stroke-width="0.8"/>
<line x1="680" y1="585" x2="693.4" y2="614" stroke="#999" stroke-width="0.8"/>
<rect x="664" y="614" width="9" height="2.4" fill="#222" stroke="none" stroke-width="1"/>
<rect x="752" y="607.5" width="24" height="2.4" fill="#222" stroke="none" stroke-width="1"/>
<text x="592.5" y="570.8" font-size="11.4" text-anchor="middle" fill="#222" font-weight="normal" stroke="#222" stroke-width="0.45" transform="rotate(-90 592.5 570.8)">CervPlug</text>
<text x="181.5" y="659.5" font-size="16" text-anchor="start" fill="#111" font-weight="bold">G</text>
<rect x="196.5" y="665" width="390.5" height="156.5" fill="none" stroke="#e2e2e2" stroke-width="1"/>
<rect x="256.5" y="660" width="54" height="10" fill="#fff" stroke="none" stroke-width="1"/>
<text x="283" y="667.6" font-size="11.4" text-anchor="middle" fill="#333" font-weight="normal" stroke="#333" stroke-width="0.45">Ovary</text>
<rect x="448" y="660" width="53.5" height="10" fill="#fff" stroke="none" stroke-width="1"/>
<text x="475.5" y="667.6" font-size="11.4" text-anchor="middle" fill="#333" font-weight="normal" stroke="#333" stroke-width="0.45">Cervix</text>
<text x="198" y="702.8" font-size="11.4" text-anchor="middle" fill="#222" font-weight="normal" stroke="#222" stroke-width="0.45" transform="rotate(-90 198 702.8)">Control</text>
<text x="198" y="792" font-size="11.4" text-anchor="middle" fill="#222" font-weight="normal" stroke="#222" stroke-width="0.45" transform="rotate(-90 198 792)">CervPlug</text>
<path d="M205,704 C204,690 210,680 224,676 C236,672 248,671 262,673 C274,675 282,680 284,692 C286,706 284,720 280,727 C270,731 252,731 236,730 C220,729 208,724 205,704 Z" fill="#b186cc" stroke="none" stroke-width="1"/>
<circle cx="214" cy="690" r="4" fill="#e6c4ea" stroke="none" stroke-width="1"/>
<circle cx="214" cy="690" r="2.2" fill="#c890d0" stroke="none" stroke-width="1"/>
<circle cx="224" cy="684" r="3" fill="#e6c4ea" stroke="none" stroke-width="1"/>
<circle cx="224" cy="684" r="1.6500000000000001" fill="#c890d0" stroke="none" stroke-width="1"/>
<circle cx="236" cy="680" r="3.5" fill="#e6c4ea" stroke="none" stroke-width="1"/>
<circle cx="236" cy="680" r="1.9250000000000003" fill="#c890d0" stroke="none" stroke-width="1"/>
<circle cx="250" cy="678" r="3" fill="#e6c4ea" stroke="none" stroke-width="1"/>
<circle cx="250" cy="678" r="1.6500000000000001" fill="#c890d0" stroke="none" stroke-width="1"/>
<circle cx="262" cy="680" r="2.5" fill="#e6c4ea" stroke="none" stroke-width="1"/>
<circle cx="272" cy="688" r="3.5" fill="#e6c4ea" stroke="none" stroke-width="1"/>
<circle cx="272" cy="688" r="1.9250000000000003" fill="#c890d0" stroke="none" stroke-width="1"/>
<circle cx="214" cy="708" r="4" fill="#e6c4ea" stroke="none" stroke-width="1"/>
<circle cx="214" cy="708" r="2.2" fill="#c890d0" stroke="none" stroke-width="1"/>
<circle cx="226" cy="712" r="5" fill="#e6c4ea" stroke="none" stroke-width="1"/>
<circle cx="226" cy="712" r="2.75" fill="#c890d0" stroke="none" stroke-width="1"/>
<circle cx="244" cy="716" r="4.5" fill="#e6c4ea" stroke="none" stroke-width="1"/>
<circle cx="244" cy="716" r="2.475" fill="#c890d0" stroke="none" stroke-width="1"/>
<circle cx="258" cy="712" r="3" fill="#e6c4ea" stroke="none" stroke-width="1"/>
<circle cx="258" cy="712" r="1.6500000000000001" fill="#c890d0" stroke="none" stroke-width="1"/>
<circle cx="270" cy="704" r="3.5" fill="#e6c4ea" stroke="none" stroke-width="1"/>
<circle cx="270" cy="704" r="1.9250000000000003" fill="#c890d0" stroke="none" stroke-width="1"/>
<circle cx="234" cy="696" r="3" fill="#e6c4ea" stroke="none" stroke-width="1"/>
<circle cx="234" cy="696" r="1.6500000000000001" fill="#c890d0" stroke="none" stroke-width="1"/>
<circle cx="252" cy="698" r="4" fill="#e6c4ea" stroke="none" stroke-width="1"/>
<circle cx="252" cy="698" r="2.2" fill="#c890d0" stroke="none" stroke-width="1"/>
<circle cx="264" cy="720" r="3" fill="#e6c4ea" stroke="none" stroke-width="1"/>
<circle cx="264" cy="720" r="1.6500000000000001" fill="#c890d0" stroke="none" stroke-width="1"/>
<circle cx="222" cy="724" r="3" fill="#e6c4ea" stroke="none" stroke-width="1"/>
<circle cx="222" cy="724" r="1.6500000000000001" fill="#c890d0" stroke="none" stroke-width="1"/>
<circle cx="276" cy="716" r="2.5" fill="#e6c4ea" stroke="none" stroke-width="1"/>
<rect x="296.8" y="671.4" width="68.6" height="59.6" fill="#8a54b8" stroke="none" stroke-width="1"/>
<clipPath id="cl3"><rect x="296.8" y="671.4" width="68.6" height="59.6"/></clipPath><g clip-path="url(#cl3)">
<circle cx="305" cy="680" r="3" fill="#a878cc" stroke="none" stroke-width="1" opacity="0.8"/>
<circle cx="318" cy="676" r="3" fill="#a878cc" stroke="none" stroke-width="1" opacity="0.8"/>
<circle cx="340" cy="690" r="3" fill="#a878cc" stroke="none" stroke-width="1" opacity="0.8"/>
<circle cx="356" cy="680" r="3" fill="#a878cc" stroke="none" stroke-width="1" opacity="0.8"/>
<circle cx="300" cy="700" r="3" fill="#a878cc" stroke="none" stroke-width="1" opacity="0.8"/>
<circle cx="352" cy="714" r="3" fill="#a878cc" stroke="none" stroke-width="1" opacity="0.8"/>
<circle cx="312" cy="725" r="3" fill="#a878cc" stroke="none" stroke-width="1" opacity="0.8"/>
<circle cx="345" cy="726" r="3" fill="#a878cc" stroke="none" stroke-width="1" opacity="0.8"/>
<circle cx="360" cy="700" r="3" fill="#a878cc" stroke="none" stroke-width="1" opacity="0.8"/>
<circle cx="302" cy="690" r="3" fill="#a878cc" stroke="none" stroke-width="1" opacity="0.8"/>
<circle cx="330" cy="684" r="3" fill="#a878cc" stroke="none" stroke-width="1" opacity="0.8"/>
<circle cx="323" cy="711" r="14.5" fill="#7a40a8" stroke="none" stroke-width="1"/>
<circle cx="323" cy="711" r="12.5" fill="#f6eef6" stroke="none" stroke-width="1"/>
<circle cx="323" cy="711" r="8.5" fill="#dc98cc" stroke="none" stroke-width="1"/>
<circle cx="339" cy="684" r="6" fill="#d0a0d4" stroke="none" stroke-width="1"/>
<path d="M352,690 L358,700 L354,715 L360,725" fill="none" stroke="#f0e0f0" stroke-width="3"/>
</g>
<path d="M204,800 C203,782 210,768 230,762 C250,757 272,758 284,766 C290,772 292,786 290,800" fill="none" stroke="#c8b8c8" stroke-width="0.9"/>
<path d="M207,795 C206,780 214,770 234,766 C254,763 274,765 282,774 C288,784 288,800 286,812 L208,814 C206,806 207,800 207,795 Z" fill="#9c66c2" stroke="none" stroke-width="1"/>
<circle cx="216" cy="782" r="3.5" fill="#d0b0e4" stroke="none" stroke-width="1"/>
<circle cx="216" cy="782" r="1.9250000000000003" fill="#b080cc" stroke="none" stroke-width="1"/>
<circle cx="228" cy="774" r="3" fill="#d0b0e4" stroke="none" stroke-width="1"/>
<circle cx="228" cy="774" r="1.6500000000000001" fill="#b080cc" stroke="none" stroke-width="1"/>
<circle cx="244" cy="772" r="3" fill="#d0b0e4" stroke="none" stroke-width="1"/>
<circle cx="244" cy="772" r="1.6500000000000001" fill="#b080cc" stroke="none" stroke-width="1"/>
<circle cx="262" cy="776" r="3.5" fill="#d0b0e4" stroke="none" stroke-width="1"/>
<circle cx="262" cy="776" r="1.9250000000000003" fill="#b080cc" stroke="none" stroke-width="1"/>
<circle cx="274" cy="786" r="3" fill="#d0b0e4" stroke="none" stroke-width="1"/>
<circle cx="274" cy="786" r="1.6500000000000001" fill="#b080cc" stroke="none" stroke-width="1"/>
<circle cx="220" cy="798" r="3.5" fill="#d0b0e4" stroke="none" stroke-width="1"/>
<circle cx="220" cy="798" r="1.9250000000000003" fill="#b080cc" stroke="none" stroke-width="1"/>
<circle cx="236" cy="790" r="3" fill="#d0b0e4" stroke="none" stroke-width="1"/>
<circle cx="236" cy="790" r="1.6500000000000001" fill="#b080cc" stroke="none" stroke-width="1"/>
<circle cx="252" cy="796" r="3.5" fill="#d0b0e4" stroke="none" stroke-width="1"/>
<circle cx="252" cy="796" r="1.9250000000000003" fill="#b080cc" stroke="none" stroke-width="1"/>
<circle cx="268" cy="800" r="3" fill="#d0b0e4" stroke="none" stroke-width="1"/>
<circle cx="268" cy="800" r="1.6500000000000001" fill="#b080cc" stroke="none" stroke-width="1"/>
<circle cx="232" cy="806" r="2.5" fill="#d0b0e4" stroke="none" stroke-width="1"/>
<circle cx="278" cy="798" r="2.5" fill="#d0b0e4" stroke="none" stroke-width="1"/>
<path d="M236,814 L240,796 L244,814 Z M252,814 L258,798 L262,814 Z" fill="#f4eaf4" stroke="none" stroke-width="1"/>
<path d="M206,812 C230,808 260,810 288,808 L288,819 L206,819 Z" fill="#e8cfe8" stroke="none" stroke-width="1"/>
<rect x="296.8" y="760" width="68.6" height="59.6" fill="#8452b4" stroke="none" stroke-width="1"/>
<clipPath id="cl4"><rect x="296.8" y="760" width="68.6" height="59.6"/></clipPath><g clip-path="url(#cl4)">
<circle cx="300" cy="800" r="3" fill="#a070c8" stroke="none" stroke-width="1" opacity="0.8"/>
<circle cx="318" cy="812" r="3" fill="#a070c8" stroke="none" stroke-width="1" opacity="0.8"/>
<circle cx="355" cy="768" r="3" fill="#a070c8" stroke="none" stroke-width="1" opacity="0.8"/>
<circle cx="360" cy="810" r="3" fill="#a070c8" stroke="none" stroke-width="1" opacity="0.8"/>
<circle cx="330" cy="770" r="3" fill="#a070c8" stroke="none" stroke-width="1" opacity="0.8"/>
<circle cx="305" cy="790" r="3" fill="#a070c8" stroke="none" stroke-width="1" opacity="0.8"/>
<circle cx="326" cy="800" r="3" fill="#a070c8" stroke="none" stroke-width="1" opacity="0.8"/>
<circle cx="312" cy="775.6" r="12.5" fill="#7a40a8" stroke="none" stroke-width="1"/>
<circle cx="312" cy="775.6" r="10.5" fill="#e4b8e4" stroke="none" stroke-width="1"/>
<circle cx="346.4" cy="789.5" r="14" fill="#7a40a8" stroke="none" stroke-width="1"/>
<circle cx="346.4" cy="789.5" r="12" fill="#f6eef6" stroke="none" stroke-width="1"/>
<circle cx="346.4" cy="789.5" r="8" fill="#dc98cc" stroke="none" stroke-width="1"/>
<path d="M330,805 L345,819 M300,800 L314,812" fill="none" stroke="#e8d0e8" stroke-width="3"/>
</g>
<rect x="270" y="729" width="8" height="2" fill="#222" stroke="none" stroke-width="1"/>
<rect x="270" y="817" width="8" height="2" fill="#222" stroke="none" stroke-width="1"/>
<path d="M390,706 C388,690 396,676 416,672 C428,668 440,668 448,674 C458,676 466,690 466,702 C466,718 460,728 452,732 C436,734 410,734 396,728 C390,722 390,714 390,706 Z" fill="#d48cd4" stroke="none" stroke-width="1"/>
<path d="M396,706 C396,694 404,686 420,684 C436,682 450,688 456,700 C458,712 452,722 440,726 C424,728 408,726 400,720 C396,716 396,712 396,706 Z" fill="#c676c8" stroke="none" stroke-width="1"/>
<circle cx="430" cy="678" r="6" fill="#e0a8e0" stroke="none" stroke-width="1"/>
<circle cx="430" cy="678" r="3" fill="#c070c0" stroke="none" stroke-width="1"/>
<path d="M406,692 L404,718 L416,714" fill="none" stroke="#fff" stroke-width="3.2" stroke-linecap="round" stroke-linejoin="round"/>
<path d="M428,694 L430,718" fill="none" stroke="#fff" stroke-width="3.2" stroke-linecap="round" stroke-linejoin="round"/>
<path d="M446,694 L450,720 L440,716" fill="none" stroke="#fff" stroke-width="3.2" stroke-linecap="round" stroke-linejoin="round"/>
<rect x="474.2" y="675.3" width="108.6" height="56.5" fill="#d090d4" stroke="none" stroke-width="1"/>
<clipPath id="cl5"><rect x="474.2" y="675.3" width="108.6" height="56.5"/></clipPath><g clip-path="url(#cl5)">
<path d="M474,700 C482,690 492,680 502,684 C512,690 518,702 526,708 C534,702 540,690 548,684 C558,680 568,690 582,706 L582,731.8 L474,731.8 Z" fill="#a444b0" stroke="none" stroke-width="1"/>
<path d="M484,706 C490,696 498,694 504,698 C512,704 518,712 526,716 C534,712 540,704 548,698 C556,694 566,700 574,712 L574,731.8 L484,731.8 Z" fill="#c068c4" stroke="none" stroke-width="1"/>
<path d="M486,702 C498,701 512,705 524,710 C534,705 548,703 564,713 C552,712 542,714 535,718 C532,722 532,727 533,731.8 L518,731.8 C520,726 520,721 516,717 C506,711 496,707 486,706 Z" fill="#fff" stroke="none" stroke-width="1"/>
</g>
<rect x="452" y="727" width="14" height="2" fill="#222" stroke="none" stroke-width="1"/>
<rect x="566" y="724.5" width="9" height="2" fill="#222" stroke="none" stroke-width="1"/>
<path d="M396,786 C394,770 400,756 420,753 C440,752 458,758 464,772 C468,790 466,808 456,816 C440,820 414,820 402,812 C396,804 396,796 396,786 Z" fill="#d48cd4" stroke="none" stroke-width="1"/>
<path d="M402,788 C402,774 408,764 424,762 C440,762 454,768 458,780 C460,796 456,808 448,812 C434,814 414,814 406,808 C402,802 402,796 402,788 Z" fill="#c878c8" stroke="none" stroke-width="1"/>
<path d="M406,780 L410,800 L420,806" fill="none" stroke="#fff" stroke-width="4.2" stroke-linecap="round" stroke-linejoin="round"/>
<path d="M426,776 L428,802" fill="none" stroke="#fff" stroke-width="4.2" stroke-linecap="round" stroke-linejoin="round"/>
<path d="M446,780 L448,806 L438,808" fill="none" stroke="#fff" stroke-width="4.2" stroke-linecap="round" stroke-linejoin="round"/>
<rect x="474.2" y="762.7" width="108.6" height="56.6" fill="#cc88d0" stroke="none" stroke-width="1"/>
<clipPath id="cl6"><rect x="474.2" y="762.7" width="108.6" height="56.6"/></clipPath><g clip-path="url(#cl6)">
<path d="M480,819 C480,792 500,772 528,770 C556,770 576,790 580,819 Z" fill="#e2b4e2" stroke="none" stroke-width="1"/>
<path d="M486,819 C488,796 506,778 528,777 C552,777 570,796 574,819 Z" fill="#a848b0" stroke="none" stroke-width="1"/>
<path d="M494,819 C496,804 510,792 528,792 C546,792 560,804 564,819 Z" fill="#bc62c0" stroke="none" stroke-width="1"/>
<path d="M492,800 C505,796 512,790 512,782 L520,792 C524,788 530,786 534,788 L540,784 C542,792 552,796 562,796 C552,800 542,804 540,808 L534,819 L522,819 C520,810 510,806 492,804 Z" fill="#fff" stroke="none" stroke-width="1"/>
</g>
<rect x="448" y="812" width="14" height="2" fill="#222" stroke="none" stroke-width="1"/>
<rect x="566" y="811" width="9" height="2" fill="#222" stroke="none" stroke-width="1"/>
<text x="604.5" y="667.5" font-size="16" text-anchor="start" fill="#111" font-weight="bold">H</text>
<text x="631" y="666.4" font-size="11.4" text-anchor="start" fill="#4a68e0" font-weight="normal" stroke="#4a68e0" stroke-width="0.45">DAPI</text>
<text x="657.6" y="666.4" font-size="11.4" text-anchor="start" fill="#d04060" font-weight="normal" stroke="#d04060" stroke-width="0.45">/</text>
<text x="661" y="666.4" font-size="11.4" text-anchor="start" fill="#30b870" font-weight="normal" stroke="#30b870" stroke-width="0.45">TUNEL</text>
<rect x="632" y="669" width="73.2" height="71.4" fill="#020204" stroke="none" stroke-width="1"/>
<rect x="709.4" y="669" width="73.4" height="71.4" fill="#020208" stroke="none" stroke-width="1"/>
<rect x="632" y="745.4" width="73.2" height="74" fill="#020204" stroke="none" stroke-width="1"/>
<rect x="709.4" y="745.4" width="73.4" height="74" fill="#020208" stroke="none" stroke-width="1"/>
<ellipse cx="667.5" cy="704" rx="34" ry="32" fill="#08125e" stroke="#1a5a6a" stroke-width="1"/>
<ellipse cx="665" cy="706" rx="24" ry="21" fill="#0a1674"/>
<path d="M648,700 C655,698 662,706 672,700 C678,696 684,700 690,706" fill="none" stroke="#01030c" stroke-width="2.6" stroke-linecap="round"/>
<path d="M652,712 C660,716 668,712 676,718" fill="none" stroke="#01030c" stroke-width="2.6" stroke-linecap="round"/>
<path d="M658,690 L664,698 M672,688 L670,698 M682,694 L678,702" fill="none" stroke="#01030c" stroke-width="2.6" stroke-linecap="round"/>
<path d="M650,720 L660,714" fill="none" stroke="#01030c" stroke-width="2.6" stroke-linecap="round"/>
<rect x="679.5" y="696" width="16" height="17.5" fill="none" stroke="#b8b8b8" stroke-width="0.7"/>
<rect x="686" y="734.5" width="14.5" height="1.8" fill="#e8e8e8" stroke="none" stroke-width="1"/>
<path d="M722,669 L782.8,669 L782.8,740.4 L738,740.4 C730,725 738,705 730,690 C726,682 722,676 722,669 Z" fill="#0f1fae" stroke="none" stroke-width="1"/>
<circle cx="745.5" cy="680.6" r="0.9" fill="#04082a" stroke="none" stroke-width="1" opacity="0.7"/>
<circle cx="763.2" cy="675.1" r="0.9" fill="#04082a" stroke="none" stroke-width="1" opacity="0.7"/>
<circle cx="756.9" cy="695.6" r="0.9" fill="#04082a" stroke="none" stroke-width="1" opacity="0.7"/>
<circle cx="731.8" cy="676.3" r="0.9" fill="#04082a" stroke="none" stroke-width="1" opacity="0.7"/>
<circle cx="750.9" cy="727.9" r="0.9" fill="#04082a" stroke="none" stroke-width="1" opacity="0.7"/>
<circle cx="734.7" cy="685.6" r="0.9" fill="#04082a" stroke="none" stroke-width="1" opacity="0.7"/>
<circle cx="761.9" cy="736.3" r="0.9" fill="#04082a" stroke="none" stroke-width="1" opacity="0.7"/>
<circle cx="759.2" cy="697.8" r="0.9" fill="#04082a" stroke="none" stroke-width="1" opacity="0.7"/>
<circle cx="780.7" cy="673.3" r="0.9" fill="#04082a" stroke="none" stroke-width="1" opacity="0.7"/>
<circle cx="774.4" cy="690.3" r="0.9" fill="#04082a" stroke="none" stroke-width="1" opacity="0.7"/>
<circle cx="735.8" cy="678.2" r="0.9" fill="#04082a" stroke="none" stroke-width="1" opacity="0.7"/>
<circle cx="744.7" cy="727.1" r="0.9" fill="#04082a" stroke="none" stroke-width="1" opacity="0.7"/>
<circle cx="737.8" cy="710.7" r="0.9" fill="#04082a" stroke="none" stroke-width="1" opacity="0.7"/>
<circle cx="762.5" cy="696.1" r="0.9" fill="#04082a" stroke="none" stroke-width="1" opacity="0.7"/>
<circle cx="757.6" cy="674.4" r="0.9" fill="#04082a" stroke="none" stroke-width="1" opacity="0.7"/>
<circle cx="731.2" cy="684.4" r="0.9" fill="#04082a" stroke="none" stroke-width="1" opacity="0.7"/>
<circle cx="764.7" cy="699.9" r="0.9" fill="#04082a" stroke="none" stroke-width="1" opacity="0.7"/>
<circle cx="745.0" cy="711.0" r="0.9" fill="#04082a" stroke="none" stroke-width="1" opacity="0.7"/>
<circle cx="752.5" cy="691.0" r="0.9" fill="#04082a" stroke="none" stroke-width="1" opacity="0.7"/>
<circle cx="770.9" cy="718.9" r="0.9" fill="#04082a" stroke="none" stroke-width="1" opacity="0.7"/>
<circle cx="741.2" cy="710.2" r="0.9" fill="#04082a" stroke="none" stroke-width="1" opacity="0.7"/>
<circle cx="756.4" cy="731.3" r="0.9" fill="#04082a" stroke="none" stroke-width="1" opacity="0.7"/>
<circle cx="767.4" cy="690.2" r="0.9" fill="#04082a" stroke="none" stroke-width="1" opacity="0.7"/>
<circle cx="780.9" cy="678.3" r="0.9" fill="#04082a" stroke="none" stroke-width="1" opacity="0.7"/>
<circle cx="750.6" cy="723.0" r="0.9" fill="#04082a" stroke="none" stroke-width="1" opacity="0.7"/>
<circle cx="736.2" cy="704.2" r="0.9" fill="#04082a" stroke="none" stroke-width="1" opacity="0.7"/>
<circle cx="769.3" cy="710.1" r="0.9" fill="#04082a" stroke="none" stroke-width="1" opacity="0.7"/>
<circle cx="775.3" cy="692.0" r="0.9" fill="#04082a" stroke="none" stroke-width="1" opacity="0.7"/>
<circle cx="765.5" cy="711.6" r="0.9" fill="#04082a" stroke="none" stroke-width="1" opacity="0.7"/>
<circle cx="759.3" cy="701.9" r="0.9" fill="#04082a" stroke="none" stroke-width="1" opacity="0.7"/>
<circle cx="773.4" cy="736.1" r="0.9" fill="#04082a" stroke="none" stroke-width="1" opacity="0.7"/>
<circle cx="753.6" cy="716.5" r="0.9" fill="#04082a" stroke="none" stroke-width="1" opacity="0.7"/>
<circle cx="762.9" cy="739.5" r="0.9" fill="#04082a" stroke="none" stroke-width="1" opacity="0.7"/>
<circle cx="772.4" cy="689.9" r="0.9" fill="#04082a" stroke="none" stroke-width="1" opacity="0.7"/>
<circle cx="748.8" cy="716.8" r="0.9" fill="#04082a" stroke="none" stroke-width="1" opacity="0.7"/>
<circle cx="737.1" cy="678.2" r="0.9" fill="#04082a" stroke="none" stroke-width="1" opacity="0.7"/>
<circle cx="735.0" cy="687.3" r="0.9" fill="#04082a" stroke="none" stroke-width="1" opacity="0.7"/>
<circle cx="749.1" cy="731.0" r="0.9" fill="#04082a" stroke="none" stroke-width="1" opacity="0.7"/>
<circle cx="757.7" cy="731.8" r="0.9" fill="#04082a" stroke="none" stroke-width="1" opacity="0.7"/>
<circle cx="772.2" cy="730.5" r="0.9" fill="#04082a" stroke="none" stroke-width="1" opacity="0.7"/>
<circle cx="743.0" cy="699.1" r="0.9" fill="#04082a" stroke="none" stroke-width="1" opacity="0.7"/>
<circle cx="747.4" cy="731.9" r="0.9" fill="#04082a" stroke="none" stroke-width="1" opacity="0.7"/>
<circle cx="779.7" cy="680.6" r="0.9" fill="#04082a" stroke="none" stroke-width="1" opacity="0.7"/>
<circle cx="737.5" cy="686.2" r="0.9" fill="#04082a" stroke="none" stroke-width="1" opacity="0.7"/>
<circle cx="740.6" cy="703.9" r="0.9" fill="#04082a" stroke="none" stroke-width="1" opacity="0.7"/>
<circle cx="759.8" cy="688.4" r="0.9" fill="#04082a" stroke="none" stroke-width="1" opacity="0.7"/>
<circle cx="747.9" cy="709.6" r="0.9" fill="#04082a" stroke="none" stroke-width="1" opacity="0.7"/>
<circle cx="779.5" cy="718.3" r="0.9" fill="#04082a" stroke="none" stroke-width="1" opacity="0.7"/>
<circle cx="755.8" cy="713.2" r="0.9" fill="#04082a" stroke="none" stroke-width="1" opacity="0.7"/>
<circle cx="764.5" cy="673.8" r="0.9" fill="#04082a" stroke="none" stroke-width="1" opacity="0.7"/>
<circle cx="776.6" cy="724.6" r="0.9" fill="#04082a" stroke="none" stroke-width="1" opacity="0.7"/>
<circle cx="775.2" cy="725.9" r="0.9" fill="#04082a" stroke="none" stroke-width="1" opacity="0.7"/>
<circle cx="749.2" cy="697.9" r="0.9" fill="#04082a" stroke="none" stroke-width="1" opacity="0.7"/>
<circle cx="731.4" cy="674.7" r="0.9" fill="#04082a" stroke="none" stroke-width="1" opacity="0.7"/>
<circle cx="739.3" cy="681.4" r="0.9" fill="#04082a" stroke="none" stroke-width="1" opacity="0.7"/>
<circle cx="746.4" cy="673.7" r="0.9" fill="#04082a" stroke="none" stroke-width="1" opacity="0.7"/>
<circle cx="728.0" cy="680.6" r="0.9" fill="#04082a" stroke="none" stroke-width="1" opacity="0.7"/>
<circle cx="761.2" cy="680.4" r="0.9" fill="#04082a" stroke="none" stroke-width="1" opacity="0.7"/>
<circle cx="741.6" cy="694.3" r="0.9" fill="#04082a" stroke="none" stroke-width="1" opacity="0.7"/>
<circle cx="747.7" cy="678.6" r="0.9" fill="#04082a" stroke="none" stroke-width="1" opacity="0.7"/>
<circle cx="773.8" cy="739.5" r="0.9" fill="#04082a" stroke="none" stroke-width="1" opacity="0.7"/>
<circle cx="753.2" cy="703.9" r="0.9" fill="#04082a" stroke="none" stroke-width="1" opacity="0.7"/>
<circle cx="732.6" cy="677.2" r="0.9" fill="#04082a" stroke="none" stroke-width="1" opacity="0.7"/>
<circle cx="746.5" cy="688.5" r="0.9" fill="#04082a" stroke="none" stroke-width="1" opacity="0.7"/>
<circle cx="772.8" cy="681.3" r="0.9" fill="#04082a" stroke="none" stroke-width="1" opacity="0.7"/>
<circle cx="756.5" cy="680.3" r="0.9" fill="#04082a" stroke="none" stroke-width="1" opacity="0.7"/>
<circle cx="757.3" cy="671.9" r="0.9" fill="#04082a" stroke="none" stroke-width="1" opacity="0.7"/>
<circle cx="756.5" cy="738.5" r="0.9" fill="#04082a" stroke="none" stroke-width="1" opacity="0.7"/>
<circle cx="774.6" cy="718.7" r="0.9" fill="#04082a" stroke="none" stroke-width="1" opacity="0.7"/>
<circle cx="742.1" cy="695.7" r="0.9" fill="#04082a" stroke="none" stroke-width="1" opacity="0.7"/>
<circle cx="737.0" cy="724.0" r="0.9" fill="#04082a" stroke="none" stroke-width="1" opacity="0.7"/>
<circle cx="756.8" cy="724.5" r="0.9" fill="#04082a" stroke="none" stroke-width="1" opacity="0.7"/>
<circle cx="745.8" cy="685.6" r="0.9" fill="#04082a" stroke="none" stroke-width="1" opacity="0.7"/>
<circle cx="771.8" cy="738.9" r="0.9" fill="#04082a" stroke="none" stroke-width="1" opacity="0.7"/>
<circle cx="774.0" cy="726.4" r="0.9" fill="#04082a" stroke="none" stroke-width="1" opacity="0.7"/>
<circle cx="772.2" cy="721.8" r="0.9" fill="#04082a" stroke="none" stroke-width="1" opacity="0.7"/>
<circle cx="740.2" cy="706.2" r="0.9" fill="#04082a" stroke="none" stroke-width="1" opacity="0.7"/>
<circle cx="747.2" cy="672.0" r="0.9" fill="#04082a" stroke="none" stroke-width="1" opacity="0.7"/>
<circle cx="729.5" cy="689.6" r="0.9" fill="#04082a" stroke="none" stroke-width="1" opacity="0.7"/>
<circle cx="742.0" cy="718.5" r="0.9" fill="#04082a" stroke="none" stroke-width="1" opacity="0.7"/>
<circle cx="779.7" cy="701.3" r="0.9" fill="#04082a" stroke="none" stroke-width="1" opacity="0.7"/>
<circle cx="778.6" cy="739.2" r="0.9" fill="#04082a" stroke="none" stroke-width="1" opacity="0.7"/>
<circle cx="779.6" cy="695.5" r="0.9" fill="#04082a" stroke="none" stroke-width="1" opacity="0.7"/>
<circle cx="739.9" cy="685.9" r="0.9" fill="#04082a" stroke="none" stroke-width="1" opacity="0.7"/>
<circle cx="738.6" cy="684.3" r="0.9" fill="#04082a" stroke="none" stroke-width="1" opacity="0.7"/>
<circle cx="761.7" cy="733.0" r="0.9" fill="#04082a" stroke="none" stroke-width="1" opacity="0.7"/>
<circle cx="773.4" cy="703.6" r="0.9" fill="#04082a" stroke="none" stroke-width="1" opacity="0.7"/>
<circle cx="763.3" cy="726.0" r="0.9" fill="#04082a" stroke="none" stroke-width="1" opacity="0.7"/>
<circle cx="777.1" cy="724.8" r="0.9" fill="#04082a" stroke="none" stroke-width="1" opacity="0.7"/>
<circle cx="768.5" cy="703.5" r="0.9" fill="#04082a" stroke="none" stroke-width="1" opacity="0.7"/>
<circle cx="737.6" cy="725.2" r="0.9" fill="#04082a" stroke="none" stroke-width="1" opacity="0.7"/>
<circle cx="746.0" cy="726.1" r="0.9" fill="#04082a" stroke="none" stroke-width="1" opacity="0.7"/>
<circle cx="780.5" cy="697.7" r="0.9" fill="#04082a" stroke="none" stroke-width="1" opacity="0.7"/>
<circle cx="749.7" cy="736.3" r="0.9" fill="#04082a" stroke="none" stroke-width="1" opacity="0.7"/>
<circle cx="767.1" cy="681.9" r="0.9" fill="#04082a" stroke="none" stroke-width="1" opacity="0.7"/>
<circle cx="734.9" cy="680.6" r="0.9" fill="#04082a" stroke="none" stroke-width="1" opacity="0.7"/>
<circle cx="776.9" cy="726.5" r="0.9" fill="#04082a" stroke="none" stroke-width="1" opacity="0.7"/>
<circle cx="735.9" cy="727.9" r="0.9" fill="#04082a" stroke="none" stroke-width="1" opacity="0.7"/>
<circle cx="780.9" cy="716.0" r="0.9" fill="#04082a" stroke="none" stroke-width="1" opacity="0.7"/>
<circle cx="746.9" cy="708.4" r="0.9" fill="#04082a" stroke="none" stroke-width="1" opacity="0.7"/>
<circle cx="735.1" cy="671.0" r="0.9" fill="#04082a" stroke="none" stroke-width="1" opacity="0.7"/>
<circle cx="780.4" cy="715.5" r="0.9" fill="#04082a" stroke="none" stroke-width="1" opacity="0.7"/>
<circle cx="756.4" cy="735.4" r="0.9" fill="#04082a" stroke="none" stroke-width="1" opacity="0.7"/>
<circle cx="751.4" cy="731.0" r="0.9" fill="#04082a" stroke="none" stroke-width="1" opacity="0.7"/>
<circle cx="772.6" cy="684.8" r="0.9" fill="#04082a" stroke="none" stroke-width="1" opacity="0.7"/>
<circle cx="741.6" cy="690.5" r="0.9" fill="#04082a" stroke="none" stroke-width="1" opacity="0.7"/>
<circle cx="741.0" cy="711.1" r="0.9" fill="#04082a" stroke="none" stroke-width="1" opacity="0.7"/>
<circle cx="742.0" cy="699.3" r="0.9" fill="#04082a" stroke="none" stroke-width="1" opacity="0.7"/>
<circle cx="735.1" cy="733.7" r="0.9" fill="#04082a" stroke="none" stroke-width="1" opacity="0.7"/>
<circle cx="747.1" cy="702.1" r="0.9" fill="#04082a" stroke="none" stroke-width="1" opacity="0.7"/>
<circle cx="759.5" cy="733.3" r="0.9" fill="#04082a" stroke="none" stroke-width="1" opacity="0.7"/>
<circle cx="750.7" cy="734.2" r="0.9" fill="#04082a" stroke="none" stroke-width="1" opacity="0.7"/>
<circle cx="755.1" cy="707.2" r="0.9" fill="#04082a" stroke="none" stroke-width="1" opacity="0.7"/>
<circle cx="756.3" cy="671.3" r="0.9" fill="#04082a" stroke="none" stroke-width="1" opacity="0.7"/>
<circle cx="751.8" cy="682.8" r="0.9" fill="#04082a" stroke="none" stroke-width="1" opacity="0.7"/>
<circle cx="737.3" cy="703.1" r="0.9" fill="#04082a" stroke="none" stroke-width="1" opacity="0.7"/>
<circle cx="767.2" cy="709.0" r="0.9" fill="#04082a" stroke="none" stroke-width="1" opacity="0.7"/>
<circle cx="745.6" cy="706.3" r="0.9" fill="#04082a" stroke="none" stroke-width="1" opacity="0.7"/>
<circle cx="758.0" cy="724.9" r="0.9" fill="#04082a" stroke="none" stroke-width="1" opacity="0.7"/>
<circle cx="741.4" cy="689.4" r="0.9" fill="#04082a" stroke="none" stroke-width="1" opacity="0.7"/>
<circle cx="769.7" cy="705.5" r="0.9" fill="#04082a" stroke="none" stroke-width="1" opacity="0.7"/>
<circle cx="758.3" cy="723.2" r="0.9" fill="#04082a" stroke="none" stroke-width="1" opacity="0.7"/>
<circle cx="777.3" cy="701.0" r="0.9" fill="#04082a" stroke="none" stroke-width="1" opacity="0.7"/>
<circle cx="761.1" cy="705.4" r="0.9" fill="#04082a" stroke="none" stroke-width="1" opacity="0.7"/>
<circle cx="755.7" cy="718.5" r="0.9" fill="#04082a" stroke="none" stroke-width="1" opacity="0.7"/>
<circle cx="752.4" cy="707.3" r="0.8" fill="#3a60ff" stroke="none" stroke-width="1" opacity="0.8"/>
<circle cx="753.8" cy="735.9" r="0.8" fill="#3a60ff" stroke="none" stroke-width="1" opacity="0.8"/>
<circle cx="765.8" cy="731.4" r="0.8" fill="#3a60ff" stroke="none" stroke-width="1" opacity="0.8"/>
<circle cx="778.9" cy="688.2" r="0.8" fill="#3a60ff" stroke="none" stroke-width="1" opacity="0.8"/>
<circle cx="758.2" cy="736.0" r="0.8" fill="#3a60ff" stroke="none" stroke-width="1" opacity="0.8"/>
<circle cx="773.4" cy="679.6" r="0.8" fill="#3a60ff" stroke="none" stroke-width="1" opacity="0.8"/>
<circle cx="734.6" cy="700.9" r="0.8" fill="#3a60ff" stroke="none" stroke-width="1" opacity="0.8"/>
<circle cx="731.9" cy="686.8" r="0.8" fill="#3a60ff" stroke="none" stroke-width="1" opacity="0.8"/>
<circle cx="731.9" cy="716.9" r="0.8" fill="#3a60ff" stroke="none" stroke-width="1" opacity="0.8"/>
<circle cx="770.3" cy="732.8" r="0.8" fill="#3a60ff" stroke="none" stroke-width="1" opacity="0.8"/>
<circle cx="736.3" cy="720.1" r="0.8" fill="#3a60ff" stroke="none" stroke-width="1" opacity="0.8"/>
<circle cx="763.7" cy="680.0" r="0.8" fill="#3a60ff" stroke="none" stroke-width="1" opacity="0.8"/>
<circle cx="775.7" cy="737.7" r="0.8" fill="#3a60ff" stroke="none" stroke-width="1" opacity="0.8"/>
<circle cx="739.9" cy="736.7" r="0.8" fill="#3a60ff" stroke="none" stroke-width="1" opacity="0.8"/>
<circle cx="749.5" cy="704.1" r="0.8" fill="#3a60ff" stroke="none" stroke-width="1" opacity="0.8"/>
<circle cx="781.5" cy="728.3" r="0.8" fill="#3a60ff" stroke="none" stroke-width="1" opacity="0.8"/>
<circle cx="736.7" cy="700.2" r="0.8" fill="#3a60ff" stroke="none" stroke-width="1" opacity="0.8"/>
<circle cx="755.8" cy="693.7" r="0.8" fill="#3a60ff" stroke="none" stroke-width="1" opacity="0.8"/>
<circle cx="738.6" cy="692.3" r="0.8" fill="#3a60ff" stroke="none" stroke-width="1" opacity="0.8"/>
<circle cx="767.0" cy="671.4" r="0.8" fill="#3a60ff" stroke="none" stroke-width="1" opacity="0.8"/>
<circle cx="757.9" cy="700.8" r="0.8" fill="#3a60ff" stroke="none" stroke-width="1" opacity="0.8"/>
<circle cx="729.0" cy="693.2" r="0.8" fill="#3a60ff" stroke="none" stroke-width="1" opacity="0.8"/>
<circle cx="761.7" cy="705.9" r="0.8" fill="#3a60ff" stroke="none" stroke-width="1" opacity="0.8"/>
<circle cx="731.5" cy="739.0" r="0.8" fill="#3a60ff" stroke="none" stroke-width="1" opacity="0.8"/>
<circle cx="770.6" cy="738.0" r="0.8" fill="#3a60ff" stroke="none" stroke-width="1" opacity="0.8"/>
<circle cx="733.7" cy="688.6" r="0.8" fill="#3a60ff" stroke="none" stroke-width="1" opacity="0.8"/>
<circle cx="730.1" cy="724.5" r="0.8" fill="#3a60ff" stroke="none" stroke-width="1" opacity="0.8"/>
<circle cx="742.6" cy="679.1" r="0.8" fill="#3a60ff" stroke="none" stroke-width="1" opacity="0.8"/>
<circle cx="750.8" cy="733.8" r="0.8" fill="#3a60ff" stroke="none" stroke-width="1" opacity="0.8"/>
<circle cx="772.2" cy="688.1" r="0.8" fill="#3a60ff" stroke="none" stroke-width="1" opacity="0.8"/>
<circle cx="736.1" cy="734.3" r="0.8" fill="#3a60ff" stroke="none" stroke-width="1" opacity="0.8"/>
<circle cx="758.8" cy="719.0" r="0.8" fill="#3a60ff" stroke="none" stroke-width="1" opacity="0.8"/>
<circle cx="732.8" cy="674.0" r="0.8" fill="#3a60ff" stroke="none" stroke-width="1" opacity="0.8"/>
<circle cx="765.2" cy="699.8" r="0.8" fill="#3a60ff" stroke="none" stroke-width="1" opacity="0.8"/>
<circle cx="731.9" cy="735.7" r="0.8" fill="#3a60ff" stroke="none" stroke-width="1" opacity="0.8"/>
<circle cx="762.3" cy="726.1" r="0.8" fill="#3a60ff" stroke="none" stroke-width="1" opacity="0.8"/>
<circle cx="732.5" cy="729.9" r="0.8" fill="#3a60ff" stroke="none" stroke-width="1" opacity="0.8"/>
<circle cx="731.6" cy="730.4" r="0.8" fill="#3a60ff" stroke="none" stroke-width="1" opacity="0.8"/>
<circle cx="752.5" cy="693.7" r="0.8" fill="#3a60ff" stroke="none" stroke-width="1" opacity="0.8"/>
<circle cx="757.9" cy="734.9" r="0.8" fill="#3a60ff" stroke="none" stroke-width="1" opacity="0.8"/>
<path d="M709.4,690 C716,686 722,690 722,700 C722,715 716,728 712,740.4 L709.4,740.4 Z" fill="#0e24c8" stroke="none" stroke-width="1"/>
<path d="M713,700 C718,708 716,722 720,735" fill="none" stroke="#020208" stroke-width="2.5"/>
<circle cx="745" cy="690" r="1.1" fill="#40e0a0" stroke="none" stroke-width="1" opacity="0.7"/>
<circle cx="760" cy="700" r="1.1" fill="#40e0a0" stroke="none" stroke-width="1" opacity="0.7"/>
<circle cx="752" cy="715" r="1.1" fill="#40e0a0" stroke="none" stroke-width="1" opacity="0.7"/>
<circle cx="770" cy="682" r="1.1" fill="#40e0a0" stroke="none" stroke-width="1" opacity="0.7"/>
<circle cx="740" cy="728" r="1.1" fill="#40e0a0" stroke="none" stroke-width="1" opacity="0.7"/>
<circle cx="765" cy="725" r="1.1" fill="#40e0a0" stroke="none" stroke-width="1" opacity="0.7"/>
<circle cx="735" cy="680" r="1.1" fill="#40e0a0" stroke="none" stroke-width="1" opacity="0.7"/>
<circle cx="775" cy="710" r="1.1" fill="#40e0a0" stroke="none" stroke-width="1" opacity="0.7"/>
<rect x="766" y="734.5" width="13" height="1.8" fill="#e8e8e8" stroke="none" stroke-width="1"/>
<ellipse cx="668" cy="781.5" rx="35" ry="35" fill="#08125c" stroke="#1a5a6a" stroke-width="1"/>
<ellipse cx="668" cy="785" rx="26" ry="24" fill="#0a1670"/>
<path d="M652,775 C660,770 668,782 680,776 C686,772 690,782 694,786" fill="none" stroke="#01030c" stroke-width="2.6" stroke-linecap="round"/>
<path d="M654,790 L662,784 M672,792 L676,784" fill="none" stroke="#01030c" stroke-width="2.6" stroke-linecap="round"/>
<path d="M660,800 C668,796 676,802 684,798" fill="none" stroke="#01030c" stroke-width="2.6" stroke-linecap="round"/>
<rect x="653" y="783" width="17" height="17.5" fill="none" stroke="#b8b8b8" stroke-width="0.7"/>
<rect x="684" y="813.5" width="21" height="1.8" fill="#e8e8e8" stroke="none" stroke-width="1"/>
<path d="M712,756 C722,750 728,764 740,758 C752,752 758,766 782,760" fill="none" stroke="#1428c8" stroke-width="5.5" stroke-linecap="round"/>
<path d="M712,782 C722,776 730,792 742,786 C754,780 762,796 782,790" fill="none" stroke="#1428c8" stroke-width="5.5" stroke-linecap="round"/>
<path d="M714,808 C726,802 734,814 748,806 C760,800 770,812 782,808" fill="none" stroke="#1428c8" stroke-width="5.5" stroke-linecap="round"/>
<path d="M728,748 L733,772 M758,748 L756,778 M744,788 L741,816 M770,775 L772,800 M718,790 L716,812" fill="none" stroke="#1428c8" stroke-width="5.5" stroke-linecap="round"/>
<rect x="766" y="811.5" width="13" height="1.8" fill="#e8e8e8" stroke="none" stroke-width="1"/>
<text x="13.5" y="19.8" font-size="16" text-anchor="start" fill="#111" font-weight="bold">A</text>
<text x="42" y="19.5" font-size="11.4" text-anchor="start" fill="#333" font-weight="normal" stroke="#333" stroke-width="0.45">Induce pseudopregnancy</text>
<text x="204" y="19.5" font-size="11.4" text-anchor="start" fill="#333" font-weight="normal" stroke="#333" stroke-width="0.45">In vitro fertilization</text>
<text x="330" y="19.5" font-size="11.4" text-anchor="start" fill="#333" font-weight="normal" stroke="#333" stroke-width="0.45">Treatment with cervix</text>
<text x="485" y="19.5" font-size="11.4" text-anchor="start" fill="#333" font-weight="normal" stroke="#333" stroke-width="0.45">Blastocyst transfer</text>
<text x="650" y="20.5" font-size="11.4" text-anchor="start" fill="#333" font-weight="normal" stroke="#333" stroke-width="0.45">Implantation</text>
<text x="724" y="20.5" font-size="11.4" text-anchor="start" fill="#333" font-weight="normal" stroke="#333" stroke-width="0.45">Live birth</text>
<text x="106.8" y="38.2" font-size="11.4" text-anchor="start" fill="#333" font-weight="normal" stroke="#333" stroke-width="0.45">Female mice</text>
<text x="72.9" y="75" font-size="11.4" text-anchor="start" fill="#333" font-weight="normal" stroke="#333" stroke-width="0.45">2 weeks after</text>
<text x="83" y="89.2" font-size="11.4" text-anchor="start" fill="#333" font-weight="normal" stroke="#333" stroke-width="0.45">castration</text>
<text x="64.5" y="133.5" font-size="11.4" text-anchor="start" fill="#333" font-weight="normal" stroke="#333" stroke-width="0.45">Sterile male mice</text>
<text x="146" y="63.4" font-size="11.2" text-anchor="start" fill="#a8a8a8" font-weight="normal" stroke="#a8a8a8" stroke-width="0.45">Day 0</text>
<text x="182.5" y="76" font-size="11.4" text-anchor="start" fill="#333" font-weight="normal" stroke="#333" stroke-width="0.45">Mating</text>
<text x="183.5" y="89.8" font-size="11.2" text-anchor="start" fill="#333" font-weight="normal" stroke="#333" stroke-width="0.45">(n=40)</text>
<text x="314" y="136" font-size="11.4" text-anchor="start" fill="#333" font-weight="normal" stroke="#333" stroke-width="0.45">Implant CervPlug into cervix</text>
<text x="478" y="135.5" font-size="11.4" text-anchor="start" fill="#333" font-weight="normal" stroke="#333" stroke-width="0.45">Pseudopregnant recipient (n=20)</text>
<text x="245" y="62" font-size="11.2" text-anchor="middle" fill="#a8a8a8" font-weight="normal" stroke="#a8a8a8" stroke-width="0.45">0.5</text>
<text x="300.6" y="62" font-size="11.2" text-anchor="middle" fill="#a8a8a8" font-weight="normal" stroke="#a8a8a8" stroke-width="0.45">3.5</text>
<text x="474.5" y="62.5" font-size="11.2" text-anchor="middle" fill="#a8a8a8" font-weight="normal" stroke="#a8a8a8" stroke-width="0.45">3.5</text>
<text x="689.5" y="67.5" font-size="11.2" text-anchor="middle" fill="#a8a8a8" font-weight="normal" stroke="#a8a8a8" stroke-width="0.45">5.5</text>
<text x="753" y="65.5" font-size="11.2" text-anchor="middle" fill="#a8a8a8" font-weight="normal" stroke="#a8a8a8" stroke-width="0.45">21</text>
<line x1="148" y1="76.5" x2="175" y2="76.5" stroke="#444" stroke-width="1.3"/>
<line x1="225" y1="76.5" x2="380" y2="76.5" stroke="#444" stroke-width="1.3"/>
<line x1="430" y1="76.5" x2="492" y2="76.5" stroke="#444" stroke-width="1.3"/>
<line x1="652" y1="76.5" x2="783" y2="76.5" stroke="#444" stroke-width="1.3"/>
<path d="M781.56,73.27 L781.56,79.73 L787,76.5 Z" fill="#111" stroke="none" stroke-width="1"/>
<circle cx="162.5" cy="76.5" r="3.3" fill="#000" stroke="none" stroke-width="1"/>
<circle cx="245" cy="76.5" r="3.3" fill="#000" stroke="none" stroke-width="1"/>
<circle cx="300.6" cy="76.5" r="3.3" fill="#000" stroke="none" stroke-width="1"/>
<circle cx="477" cy="76.5" r="3.3" fill="#000" stroke="none" stroke-width="1"/>
<circle cx="689.5" cy="76.5" r="3.3" fill="#000" stroke="none" stroke-width="1"/>
<circle cx="753" cy="76.5" r="3.3" fill="#000" stroke="none" stroke-width="1"/>
<line x1="163" y1="44" x2="163" y2="52" stroke="#999" stroke-width="0.9"/>
<path d="M161.05,52.12 L164.95,52.12 L163,55.5 Z" fill="#111" stroke="none" stroke-width="1"/>
<line x1="161.5" y1="88" x2="161.5" y2="98.5" stroke="#999" stroke-width="0.9"/>
<path d="M159.55,88.88 L163.45,88.88 L161.5,85.5 Z" fill="#111" stroke="none" stroke-width="1"/>
<circle cx="178.4" cy="33.5" r="3.6" fill="none" stroke="#e07a80" stroke-width="1.1"/>
<line x1="178.4" y1="37" x2="178.4" y2="46" stroke="#e07a80" stroke-width="1.1"/>
<line x1="175.5" y1="41.5" x2="181.3" y2="41.5" stroke="#e07a80" stroke-width="1.1"/>
<circle cx="158.2" cy="114.2" r="3.6" fill="none" stroke="#58a8c8" stroke-width="1.1"/>
<line x1="158.2" y1="110.6" x2="158.2" y2="103" stroke="#58a8c8" stroke-width="1.3"/>
<path d="M156.25,104.38 L160.14999999999998,104.38 L158.2,101 Z" fill="#58a8c8" stroke="none" stroke-width="1"/>
<line x1="689.5" y1="55" x2="689.5" y2="41" stroke="#777" stroke-width="0.9"/>
<path d="M687.625,39.75 L691.375,39.75 L689.5,36.5 Z" fill="#111" stroke="none" stroke-width="1"/>
<line x1="753" y1="55" x2="753" y2="41" stroke="#777" stroke-width="0.9"/>
<path d="M751.125,39.75 L754.875,39.75 L753,36.5 Z" fill="#111" stroke="none" stroke-width="1"/>
<path d="M689.5,77 V87.4 H726 V77" fill="none" stroke="#666" stroke-width="0.9"/>
<line x1="705.5" y1="87.4" x2="705.5" y2="105" stroke="#666" stroke-width="0.9"/>
<path d="M703.7,105.88 L707.3,105.88 L705.5,109 Z" fill="#111" stroke="none" stroke-width="1"/>
<rect x="664" y="110" width="109" height="31" fill="#e9e8ef" stroke="none" stroke-width="1"/>
<text x="718.5" y="122.5" font-size="11.4" text-anchor="middle" fill="#333" font-weight="normal" stroke="#333" stroke-width="0.45">Implantation</text>
<text x="718.5" y="135.5" font-size="11.4" text-anchor="middle" fill="#333" font-weight="normal" stroke="#333" stroke-width="0.45">uterus collection</text>
<path d="M48,120 C44,126 38,128 34,131 C40,134 48,132 52,127" fill="none" stroke="#e2a8a0" stroke-width="2.2" stroke-linecap="round"/>
<path d="M43,116 C40,108 38,100 39,92" fill="none" stroke="#e0b8b0" stroke-width="2.2" stroke-linecap="round"/>
<path d="M44,62 C38,58 33,54 30,52" fill="none" stroke="#dedede" stroke-width="5" stroke-linecap="round"/>
<path d="M70,62 C76,58 80,54 82,51" fill="none" stroke="#dedede" stroke-width="5" stroke-linecap="round"/>
<circle cx="29" cy="52" r="2.6" fill="#e2a8a0" stroke="none" stroke-width="1"/>
<circle cx="82.5" cy="51" r="2.6" fill="#e2a8a0" stroke="none" stroke-width="1"/>
<path d="M46,112 C44,120 42,126 40,129" fill="none" stroke="#dedede" stroke-width="5" stroke-linecap="round"/>
<path d="M68,112 C72,118 76,120 80,122" fill="none" stroke="#dedede" stroke-width="5" stroke-linecap="round"/>
<circle cx="40" cy="130" r="2.4" fill="#e2a8a0" stroke="none" stroke-width="1"/>
<circle cx="81" cy="122.5" r="2.4" fill="#e2a8a0" stroke="none" stroke-width="1"/>
<ellipse cx="57" cy="86" rx="16" ry="31" fill="#efefef" stroke="#dedede" stroke-width="1"/>
<circle cx="46" cy="46" r="4.2" fill="#e4b4ac" stroke="none" stroke-width="1"/>
<circle cx="68" cy="46" r="4.2" fill="#e4b4ac" stroke="none" stroke-width="1"/>
<ellipse cx="57" cy="45" rx="10" ry="12" fill="#efefef" stroke="#dedede" stroke-width="1"/>
<path d="M52,33 L62,33 M50,30 L55,35 M64,30 L59,35" fill="none" stroke="#888" stroke-width="0.6"/>
<circle cx="57" cy="104" r="9.5" fill="#f4dcd8" stroke="#d88a84" stroke-width="1.2"/>
<circle cx="49.5" cy="98" r="3" fill="none" stroke="#d06060" stroke-width="1"/>
<circle cx="64.5" cy="98" r="3" fill="none" stroke="#d06060" stroke-width="1"/>
<path d="M57,100 V112 M53,112 H61" fill="none" stroke="#d88a84" stroke-width="1"/>
<circle cx="247" cy="109.5" r="19" fill="#c0bcd4" stroke="none" stroke-width="1" opacity="0.9"/>
<circle cx="235" cy="101.5" r="5" fill="#aaa4c4" stroke="none" stroke-width="1" opacity="0.8"/>
<circle cx="257" cy="99.5" r="5" fill="#aaa4c4" stroke="none" stroke-width="1" opacity="0.8"/>
<circle cx="261" cy="115.5" r="5" fill="#aaa4c4" stroke="none" stroke-width="1" opacity="0.8"/>
<circle cx="233" cy="117.5" r="5" fill="#aaa4c4" stroke="none" stroke-width="1" opacity="0.8"/>
<circle cx="247" cy="123.5" r="5" fill="#aaa4c4" stroke="none" stroke-width="1" opacity="0.8"/>
<circle cx="245" cy="94.5" r="5" fill="#aaa4c4" stroke="none" stroke-width="1" opacity="0.8"/>
<circle cx="255" cy="121.5" r="5" fill="#aaa4c4" stroke="none" stroke-width="1" opacity="0.8"/>
<circle cx="238" cy="122.5" r="5" fill="#aaa4c4" stroke="none" stroke-width="1" opacity="0.8"/>
<circle cx="247" cy="109.5" r="11" fill="#ddd6e6" stroke="none" stroke-width="1"/>
<circle cx="247" cy="109.5" r="7" fill="#e9a8bc" stroke="none" stroke-width="1"/>
<line x1="222" y1="97" x2="229" y2="98" stroke="#4a3030" stroke-width="1.6"/>
<line x1="222" y1="115" x2="229" y2="116" stroke="#4a3030" stroke-width="1.6"/>
<line x1="231" y1="126" x2="235" y2="121" stroke="#4a3030" stroke-width="1.6"/>
<line x1="264" y1="98" x2="257" y2="98" stroke="#4a3030" stroke-width="1.6"/>
<line x1="262" y1="125" x2="256" y2="124" stroke="#4a3030" stroke-width="1.6"/>
<line x1="248" y1="127" x2="248" y2="121" stroke="#4a3030" stroke-width="1.6"/>
<path d="M331,75.5 L376,74.5 L376,79.5 L362,82.5 L348,80 Z" fill="#8c8c8c" stroke="none" stroke-width="1"/>
<path d="M333,76.5 L376,76.5 L376,78 L350,78.5 Z" fill="#c4c4c4" stroke="none" stroke-width="1"/>
<g transform="rotate(58.5 325 77.2)">
<rect x="309.5" y="73.2" width="31" height="8" fill="#c2c2a8" stroke="#aaa890" stroke-width="0.6"/>
<rect x="307.5" y="71.5" width="3.5" height="11.4" fill="#b2b298" stroke="none" stroke-width="1"/>
<rect x="339.5" y="71.5" width="3.5" height="11.4" fill="#b2b298" stroke="none" stroke-width="1"/>
</g>
<path d="M374,82 C364,86 358,94 362,99 C368,104 392,102 410,97" fill="none" stroke="#d47878" stroke-width="2" stroke-linecap="round"/>
<path d="M377,74 C376,62 388,52 404,50 C414,49 422,50 428,52 C432,50 436,50 438,54 C444,56 450,62 450,66 C448,70 442,72 438,74 C434,82 424,88 408,89 C394,90 382,86 377,74 Z" fill="#eeeeee" stroke="#d6d6d6" stroke-width="0.8"/>
<path d="M384,88 C386,92 392,93 398,92 M428,84 C432,90 436,92 442,91" fill="none" stroke="#d47878" stroke-width="3" stroke-linecap="round"/>
<ellipse cx="425.5" cy="59" rx="2.8" ry="4.2" fill="#e49c98" transform="rotate(-15 425.5 59)"/>
<circle cx="439" cy="63.5" r="1.1" fill="#c02020" stroke="none" stroke-width="1"/>
<path d="M380,80 C386,74 394,70 402,67 C404,69 403,71 400,72 C392,75 386,80 383,84 Z" fill="#f0a8b4" stroke="none" stroke-width="1"/>
<path d="M446,60 L452,54 M447,63 L454,62" fill="none" stroke="#bbb" stroke-width="0.5"/>
<g transform="translate(940,6) scale(-1,1)">
<path d="M374,84 C366,90 372,98 380,99 C392,100 406,98 418,100" fill="none" stroke="#d47878" stroke-width="2" stroke-linecap="round"/>
<path d="M377,74 C376,62 388,52 404,50 C414,49 422,50 428,52 C432,50 436,50 438,54 C444,56 450,62 450,66 C448,70 442,72 438,74 C434,82 424,88 408,89 C394,90 382,86 377,74 Z" fill="#eeeeee" stroke="#d6d6d6" stroke-width="0.8"/>
<path d="M386,88 C388,92 394,93 400,92 M428,84 C432,90 436,92 442,91" fill="none" stroke="#d47878" stroke-width="3" stroke-linecap="round"/>
<ellipse cx="429" cy="61" rx="2.8" ry="4.2" fill="#e49c98" transform="rotate(-15 429 61)"/>
<circle cx="445" cy="64.5" r="1.1" fill="#c02020" stroke="none" stroke-width="1"/>
<path d="M446,62 L453,56 M447,65 L455,64" fill="none" stroke="#bbb" stroke-width="0.5"/>
</g>
<path d="M531,77 C536,71 544,72 547,78 C542,81 536,81 531,77 Z" fill="#f0b0b8" stroke="none" stroke-width="1"/>
<line x1="532" y1="39.5" x2="541.6" y2="71.8" stroke="#888" stroke-width="1.2"/>
<line x1="534" y1="46" x2="540" y2="66" stroke="#bbb" stroke-width="2.2"/>
<text x="467" y="65" font-size="1" text-anchor="start" fill="#262626" font-weight="normal" stroke="#262626" stroke-width="0.45"></text>
<defs><linearGradient id="ga" x1="0" y1="0" x2="0" y2="1"><stop offset="0" stop-color="#fefafa"/><stop offset="1" stop-color="#f9eded"/></linearGradient></defs>
<rect x="564" y="48" width="87" height="53.6" fill="url(#ga)" stroke="none" stroke-width="1"/>
<circle cx="570.0" cy="43.0" r="1.6" fill="#9a7080" stroke="none" stroke-width="1"/>
<circle cx="573.3" cy="48.2" r="1.6" fill="#9a7080" stroke="none" stroke-width="1"/>
<circle cx="576.6" cy="53.4" r="1.6" fill="#9a7080" stroke="none" stroke-width="1"/>
<circle cx="579.9" cy="58.6" r="1.6" fill="#9a7080" stroke="none" stroke-width="1"/>
<circle cx="583.2" cy="63.8" r="1.6" fill="#9a7080" stroke="none" stroke-width="1"/>
<circle cx="586.5" cy="69.0" r="1.6" fill="#9a7080" stroke="none" stroke-width="1"/>
<circle cx="589.3" cy="70.6" r="2.4" fill="#a88090" stroke="none" stroke-width="1"/>
<circle cx="596.5" cy="79" r="3.8" fill="#b08898" stroke="none" stroke-width="1"/>
<circle cx="609.6" cy="84.4" r="5.6" fill="#b08090" stroke="none" stroke-width="1"/>
<circle cx="585.7" cy="83" r="4" fill="none" stroke="#e090b0" stroke-width="1.4"/>
<circle cx="640" cy="70.6" r="3.4" fill="none" stroke="#e090b0" stroke-width="1.4"/>
<circle cx="637" cy="90.9" r="8.2" fill="#b08090" stroke="none" stroke-width="1"/>
<path d="M596,79 C600,90 610,96 621,99" fill="none" stroke="#555" stroke-width="0.8"/>
<path d="M619.48,97.21 L619.48,101.39 L623,99.3 Z" fill="#555" stroke="none" stroke-width="1"/>
<line x1="568" y1="99.5" x2="618" y2="99.5" stroke="#f0b890" stroke-width="1" stroke-dasharray="3,2"/>
</svg>
</body></html>
